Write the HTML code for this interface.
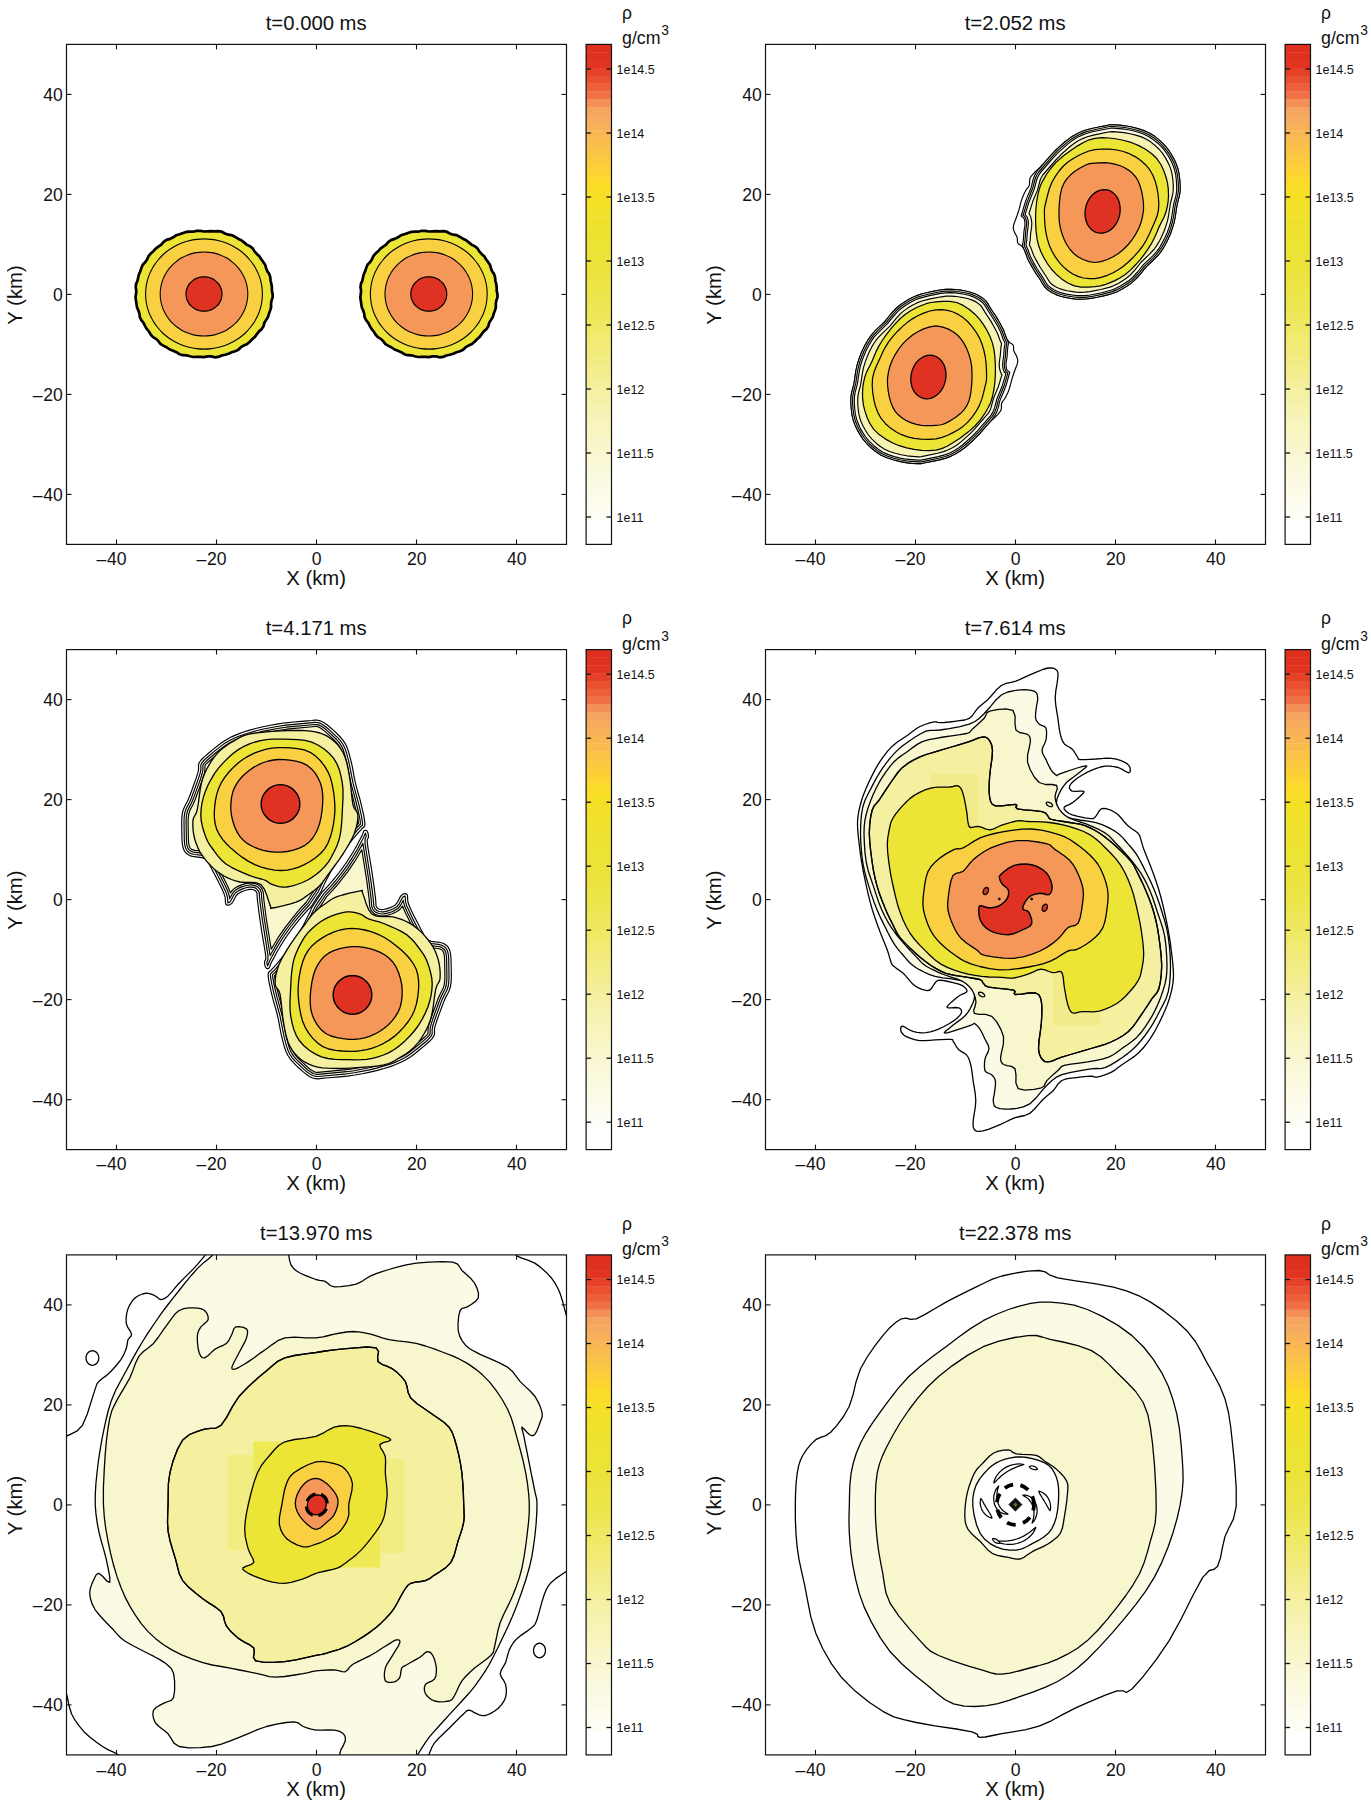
<!DOCTYPE html>
<html><head><meta charset="utf-8"><title>figure</title>
<style>html,body{margin:0;padding:0;background:#fff;}svg{display:block;}text{font-family:"Liberation Sans", sans-serif;fill:#111;}</style>
</head><body>
<svg width="1371" height="1804" viewBox="0 0 1371 1804">
<defs><clipPath id="clip0"><rect x="66.5" y="44.4" width="500.0" height="500.0"/></clipPath><clipPath id="clip1"><rect x="765.5" y="44.4" width="500.0" height="500.0"/></clipPath><clipPath id="clip2"><rect x="66.5" y="649.6" width="500.0" height="500.0"/></clipPath><clipPath id="clip3"><rect x="765.5" y="649.6" width="500.0" height="500.0"/></clipPath><clipPath id="clip4"><rect x="66.5" y="1254.9" width="500.0" height="500.0"/></clipPath><clipPath id="clip5"><rect x="765.5" y="1254.9" width="500.0" height="500.0"/></clipPath></defs>
<rect width="1371" height="1804" fill="#fff"/>
<g clip-path="url(#clip0)">
<path d="M272.6,294.0 L272.7,297.4 L271.5,300.6 L271.0,303.9 L271.1,307.4 L270.1,310.6 L268.9,313.8 L268.0,317.0 L266.2,319.9 L264.4,322.8 L263.5,326.2 L261.7,329.1 L259.0,331.4 L256.9,334.1 L254.9,336.9 L252.2,339.2 L249.8,341.7 L247.2,344.1 L243.9,345.5 L240.9,347.2 L238.3,349.8 L235.2,351.3 L231.7,352.3 L228.5,353.7 L225.1,354.8 L221.6,355.5 L218.3,356.9 L214.8,357.3 L211.1,356.4 L207.6,356.4 L204.0,357.1 L200.4,356.9 L196.9,356.8 L193.3,357.0 L189.9,356.3 L186.4,355.3 L182.8,355.2 L179.4,354.2 L176.4,352.2 L173.1,350.8 L169.8,349.5 L166.9,347.5 L163.7,345.9 L160.7,344.1 L158.5,341.3 L156.1,338.9 L153.0,337.1 L150.7,334.5 L148.9,331.5 L146.7,328.9 L145.0,325.9 L143.5,322.9 L141.3,320.2 L139.8,317.1 L139.4,313.7 L138.4,310.5 L137.0,307.4 L136.5,304.0 L136.0,300.7 L135.5,297.4 L136.0,294.0 L136.3,290.7 L135.7,287.3 L136.1,283.9 L137.5,280.8 L138.2,277.5 L139.0,274.2 L140.4,271.1 L141.4,267.9 L142.7,264.7 L145.2,262.2 L147.1,259.4 L148.5,256.2 L150.7,253.6 L153.3,251.3 L155.6,248.7 L158.4,246.6 L161.3,244.6 L163.6,241.9 L166.5,239.9 L170.0,238.9 L173.2,237.3 L176.1,235.3 L179.5,234.2 L182.9,233.1 L186.2,231.9 L189.9,231.7 L193.4,231.7 L196.8,230.8 L200.4,230.8 L204.0,231.5 L207.6,231.3 L211.1,231.2 L214.6,231.4 L218.3,231.1 L221.8,231.7 L225.0,233.5 L228.3,234.7 L231.9,235.2 L235.1,236.8 L238.1,238.7 L241.3,240.2 L244.0,242.4 L246.7,244.6 L250.0,246.2 L252.7,248.4 L254.5,251.4 L256.8,253.9 L259.4,256.3 L261.2,259.2 L263.2,261.9 L265.2,264.8 L266.1,268.1 L267.3,271.3 L269.3,274.1 L270.3,277.3 L270.6,280.7 L271.4,284.0 L271.9,287.3 L271.9,290.7Z" fill="#ece535" stroke="#000" stroke-width="2.70" stroke-linejoin="round" />
<path d="M262.4,294.0 C262.4,296.4 262.2,298.8 261.9,301.2 C261.6,303.6 261.1,305.9 260.4,308.3 C259.8,310.6 258.9,312.9 258.0,315.1 C257.0,317.3 255.8,319.5 254.6,321.6 C253.3,323.6 251.9,325.6 250.3,327.5 C248.8,329.4 247.1,331.3 245.3,333.0 C243.5,334.7 241.6,336.3 239.6,337.7 C237.5,339.2 235.4,340.5 233.2,341.7 C231.0,342.9 228.7,344.0 226.3,344.9 C224.0,345.8 221.6,346.6 219.1,347.2 C216.7,347.8 214.1,348.3 211.6,348.6 C209.1,348.9 206.5,349.1 204.0,349.1 C201.5,349.1 198.9,348.9 196.4,348.6 C193.9,348.3 191.3,347.8 188.9,347.2 C186.4,346.6 184.0,345.8 181.7,344.9 C179.3,344.0 177.0,342.9 174.8,341.7 C172.6,340.5 170.5,339.2 168.4,337.7 C166.4,336.3 164.5,334.7 162.7,333.0 C160.9,331.3 159.2,329.4 157.7,327.5 C156.1,325.6 154.7,323.6 153.4,321.6 C152.2,319.5 151.0,317.3 150.0,315.1 C149.1,312.9 148.2,310.6 147.6,308.3 C146.9,305.9 146.4,303.6 146.1,301.2 C145.8,298.8 145.6,296.4 145.6,294.0 C145.6,291.6 145.8,289.2 146.1,286.8 C146.4,284.4 146.9,282.1 147.6,279.7 C148.2,277.4 149.1,275.1 150.0,272.9 C151.0,270.7 152.2,268.5 153.4,266.4 C154.7,264.4 156.1,262.4 157.7,260.5 C159.2,258.6 160.9,256.7 162.7,255.0 C164.5,253.3 166.4,251.7 168.4,250.3 C170.5,248.8 172.6,247.5 174.8,246.3 C177.0,245.1 179.3,244.0 181.7,243.1 C184.0,242.2 186.4,241.4 188.9,240.8 C191.3,240.2 193.9,239.7 196.4,239.4 C198.9,239.1 201.5,238.9 204.0,238.9 C206.5,238.9 209.1,239.1 211.6,239.4 C214.1,239.7 216.7,240.2 219.1,240.8 C221.6,241.4 224.0,242.2 226.3,243.1 C228.7,244.0 231.0,245.1 233.2,246.3 C235.4,247.5 237.5,248.8 239.6,250.3 C241.6,251.7 243.5,253.3 245.3,255.0 C247.1,256.7 248.8,258.6 250.3,260.5 C251.9,262.4 253.3,264.4 254.6,266.4 C255.8,268.5 257.0,270.7 258.0,272.9 C258.9,275.1 259.8,277.4 260.4,279.7 C261.1,282.1 261.6,284.4 261.9,286.8 C262.2,289.2 262.4,291.6 262.4,294.0Z" fill="#fad043" stroke="#000" stroke-width="1.10" stroke-linejoin="round" />
<path d="M247.8,294.0 C247.8,295.8 247.7,297.7 247.4,299.5 C247.2,301.3 246.8,303.1 246.3,304.9 C245.8,306.6 245.2,308.4 244.5,310.1 C243.7,311.8 242.9,313.4 241.9,315.0 C241.0,316.6 239.9,318.1 238.7,319.6 C237.6,321.0 236.3,322.4 235.0,323.7 C233.6,325.0 232.2,326.2 230.7,327.3 C229.2,328.4 227.6,329.5 225.9,330.4 C224.2,331.3 222.5,332.1 220.8,332.8 C219.0,333.5 217.2,334.1 215.3,334.6 C213.5,335.0 211.6,335.4 209.7,335.6 C207.8,335.9 205.9,336.0 204.0,336.0 C202.1,336.0 200.2,335.9 198.3,335.6 C196.4,335.4 194.5,335.0 192.7,334.6 C190.8,334.1 189.0,333.5 187.2,332.8 C185.5,332.1 183.8,331.3 182.1,330.4 C180.4,329.5 178.8,328.4 177.3,327.3 C175.8,326.2 174.4,325.0 173.0,323.7 C171.7,322.4 170.4,321.0 169.3,319.6 C168.1,318.1 167.0,316.6 166.1,315.0 C165.1,313.4 164.3,311.8 163.5,310.1 C162.8,308.4 162.2,306.6 161.7,304.9 C161.2,303.1 160.8,301.3 160.6,299.5 C160.3,297.7 160.2,295.8 160.2,294.0 C160.2,292.2 160.3,290.3 160.6,288.5 C160.8,286.7 161.2,284.9 161.7,283.1 C162.2,281.4 162.8,279.6 163.5,277.9 C164.3,276.2 165.1,274.6 166.1,273.0 C167.0,271.4 168.1,269.9 169.3,268.4 C170.4,267.0 171.7,265.6 173.0,264.3 C174.4,263.0 175.8,261.8 177.3,260.7 C178.8,259.6 180.4,258.5 182.1,257.6 C183.8,256.7 185.5,255.9 187.2,255.2 C189.0,254.5 190.8,253.9 192.7,253.4 C194.5,253.0 196.4,252.6 198.3,252.4 C200.2,252.1 202.1,252.0 204.0,252.0 C205.9,252.0 207.8,252.1 209.7,252.4 C211.6,252.6 213.5,253.0 215.3,253.4 C217.2,253.9 219.0,254.5 220.8,255.2 C222.5,255.9 224.2,256.7 225.9,257.6 C227.6,258.5 229.2,259.6 230.7,260.7 C232.2,261.8 233.6,263.0 235.0,264.3 C236.3,265.6 237.6,267.0 238.7,268.4 C239.9,269.9 241.0,271.4 241.9,273.0 C242.9,274.6 243.7,276.2 244.5,277.9 C245.2,279.6 245.8,281.4 246.3,283.1 C246.8,284.9 247.2,286.7 247.4,288.5 C247.7,290.3 247.8,292.2 247.8,294.0Z" fill="#f6975a" stroke="#000" stroke-width="1.10" stroke-linejoin="round" />
<path d="M222.0,294.0 C222.0,294.7 221.9,295.5 221.8,296.2 C221.7,297.0 221.6,297.7 221.4,298.5 C221.2,299.2 220.9,299.9 220.6,300.6 C220.3,301.3 220.0,302.0 219.6,302.6 C219.2,303.2 218.8,303.9 218.3,304.5 C217.8,305.1 217.3,305.6 216.7,306.2 C216.2,306.7 215.6,307.2 215.0,307.6 C214.3,308.1 213.7,308.5 213.0,308.9 C212.3,309.3 211.6,309.6 210.9,309.9 C210.2,310.2 209.4,310.4 208.7,310.6 C207.9,310.8 207.1,311.0 206.3,311.1 C205.6,311.2 204.8,311.2 204.0,311.2 C203.2,311.2 202.4,311.2 201.7,311.1 C200.9,311.0 200.1,310.8 199.3,310.6 C198.6,310.4 197.8,310.2 197.1,309.9 C196.4,309.6 195.7,309.3 195.0,308.9 C194.3,308.5 193.7,308.1 193.0,307.6 C192.4,307.2 191.8,306.7 191.3,306.2 C190.7,305.6 190.2,305.1 189.7,304.5 C189.2,303.9 188.8,303.2 188.4,302.6 C188.0,302.0 187.7,301.3 187.4,300.6 C187.1,299.9 186.8,299.2 186.6,298.5 C186.4,297.7 186.3,297.0 186.2,296.2 C186.1,295.5 186.0,294.7 186.0,294.0 C186.0,293.3 186.1,292.5 186.2,291.8 C186.3,291.0 186.4,290.3 186.6,289.5 C186.8,288.8 187.1,288.1 187.4,287.4 C187.7,286.7 188.0,286.0 188.4,285.4 C188.8,284.8 189.2,284.1 189.7,283.5 C190.2,282.9 190.7,282.4 191.3,281.8 C191.8,281.3 192.4,280.8 193.0,280.4 C193.7,279.9 194.3,279.5 195.0,279.1 C195.7,278.7 196.4,278.4 197.1,278.1 C197.8,277.8 198.6,277.6 199.3,277.4 C200.1,277.2 200.9,277.0 201.7,276.9 C202.4,276.8 203.2,276.8 204.0,276.8 C204.8,276.8 205.6,276.8 206.3,276.9 C207.1,277.0 207.9,277.2 208.7,277.4 C209.4,277.6 210.2,277.8 210.9,278.1 C211.6,278.4 212.3,278.7 213.0,279.1 C213.7,279.5 214.3,279.9 215.0,280.4 C215.6,280.8 216.2,281.3 216.7,281.8 C217.3,282.4 217.8,282.9 218.3,283.5 C218.8,284.1 219.2,284.8 219.6,285.4 C220.0,286.0 220.3,286.7 220.6,287.4 C220.9,288.1 221.2,288.8 221.4,289.5 C221.6,290.3 221.7,291.0 221.8,291.8 C221.9,292.5 222.0,293.3 222.0,294.0Z" fill="#e03222" stroke="#000" stroke-width="1.20" stroke-linejoin="round" />
<path d="M497.4,294.0 L497.5,297.4 L496.3,300.6 L495.8,303.9 L495.9,307.4 L494.9,310.6 L493.7,313.8 L492.8,317.0 L491.0,319.9 L489.2,322.8 L488.3,326.2 L486.5,329.1 L483.8,331.4 L481.7,334.1 L479.7,336.9 L477.0,339.2 L474.6,341.7 L472.0,344.1 L468.7,345.5 L465.7,347.2 L463.1,349.8 L460.0,351.3 L456.5,352.3 L453.3,353.7 L449.9,354.8 L446.4,355.5 L443.1,356.9 L439.6,357.3 L435.9,356.4 L432.4,356.4 L428.8,357.1 L425.2,356.9 L421.7,356.8 L418.1,357.0 L414.7,356.3 L411.2,355.3 L407.6,355.2 L404.2,354.2 L401.2,352.2 L397.9,350.8 L394.6,349.5 L391.7,347.5 L388.5,345.9 L385.5,344.1 L383.3,341.3 L380.9,338.9 L377.8,337.1 L375.5,334.5 L373.7,331.5 L371.5,328.9 L369.8,325.9 L368.3,322.9 L366.1,320.2 L364.6,317.1 L364.2,313.7 L363.2,310.5 L361.8,307.4 L361.3,304.0 L360.8,300.7 L360.3,297.4 L360.8,294.0 L361.1,290.7 L360.5,287.3 L360.9,283.9 L362.3,280.8 L363.0,277.5 L363.8,274.2 L365.2,271.1 L366.2,267.9 L367.5,264.7 L370.0,262.2 L371.9,259.4 L373.3,256.2 L375.5,253.6 L378.1,251.3 L380.4,248.7 L383.2,246.6 L386.1,244.6 L388.4,241.9 L391.3,239.9 L394.8,238.9 L398.0,237.3 L400.9,235.3 L404.3,234.2 L407.7,233.1 L411.0,231.9 L414.7,231.7 L418.2,231.7 L421.6,230.8 L425.2,230.8 L428.8,231.5 L432.4,231.3 L435.9,231.2 L439.4,231.4 L443.1,231.1 L446.6,231.7 L449.8,233.5 L453.1,234.7 L456.7,235.2 L459.9,236.8 L462.9,238.7 L466.1,240.2 L468.8,242.4 L471.5,244.6 L474.8,246.2 L477.5,248.4 L479.3,251.4 L481.6,253.9 L484.2,256.3 L486.0,259.2 L488.0,261.9 L490.0,264.8 L490.9,268.1 L492.1,271.3 L494.1,274.1 L495.1,277.3 L495.4,280.7 L496.2,284.0 L496.7,287.3 L496.7,290.7Z" fill="#ece535" stroke="#000" stroke-width="2.70" stroke-linejoin="round" />
<path d="M487.2,294.0 C487.2,296.4 487.0,298.8 486.7,301.2 C486.4,303.6 485.9,305.9 485.2,308.3 C484.6,310.6 483.7,312.9 482.8,315.1 C481.8,317.3 480.6,319.5 479.4,321.6 C478.1,323.6 476.7,325.6 475.1,327.5 C473.6,329.4 471.9,331.3 470.1,333.0 C468.3,334.7 466.4,336.3 464.4,337.7 C462.3,339.2 460.2,340.5 458.0,341.7 C455.8,342.9 453.5,344.0 451.1,344.9 C448.8,345.8 446.4,346.6 443.9,347.2 C441.5,347.8 438.9,348.3 436.4,348.6 C433.9,348.9 431.3,349.1 428.8,349.1 C426.3,349.1 423.7,348.9 421.2,348.6 C418.7,348.3 416.1,347.8 413.7,347.2 C411.2,346.6 408.8,345.8 406.5,344.9 C404.1,344.0 401.8,342.9 399.6,341.7 C397.4,340.5 395.3,339.2 393.2,337.7 C391.2,336.3 389.3,334.7 387.5,333.0 C385.7,331.3 384.0,329.4 382.5,327.5 C380.9,325.6 379.5,323.6 378.2,321.6 C377.0,319.5 375.8,317.3 374.8,315.1 C373.9,312.9 373.0,310.6 372.4,308.3 C371.7,305.9 371.2,303.6 370.9,301.2 C370.6,298.8 370.4,296.4 370.4,294.0 C370.4,291.6 370.6,289.2 370.9,286.8 C371.2,284.4 371.7,282.1 372.4,279.7 C373.0,277.4 373.9,275.1 374.8,272.9 C375.8,270.7 377.0,268.5 378.2,266.4 C379.5,264.4 380.9,262.4 382.5,260.5 C384.0,258.6 385.7,256.7 387.5,255.0 C389.3,253.3 391.2,251.7 393.2,250.3 C395.3,248.8 397.4,247.5 399.6,246.3 C401.8,245.1 404.1,244.0 406.5,243.1 C408.8,242.2 411.2,241.4 413.7,240.8 C416.1,240.2 418.7,239.7 421.2,239.4 C423.7,239.1 426.3,238.9 428.8,238.9 C431.3,238.9 433.9,239.1 436.4,239.4 C438.9,239.7 441.5,240.2 443.9,240.8 C446.4,241.4 448.8,242.2 451.1,243.1 C453.5,244.0 455.8,245.1 458.0,246.3 C460.2,247.5 462.3,248.8 464.4,250.3 C466.4,251.7 468.3,253.3 470.1,255.0 C471.9,256.7 473.6,258.6 475.1,260.5 C476.7,262.4 478.1,264.4 479.4,266.4 C480.6,268.5 481.8,270.7 482.8,272.9 C483.7,275.1 484.6,277.4 485.2,279.7 C485.9,282.1 486.4,284.4 486.7,286.8 C487.0,289.2 487.2,291.6 487.2,294.0Z" fill="#fad043" stroke="#000" stroke-width="1.10" stroke-linejoin="round" />
<path d="M472.6,294.0 C472.6,295.8 472.5,297.7 472.2,299.5 C472.0,301.3 471.6,303.1 471.1,304.9 C470.6,306.6 470.0,308.4 469.3,310.1 C468.5,311.8 467.7,313.4 466.7,315.0 C465.8,316.6 464.7,318.1 463.5,319.6 C462.4,321.0 461.1,322.4 459.8,323.7 C458.4,325.0 457.0,326.2 455.5,327.3 C454.0,328.4 452.4,329.5 450.7,330.4 C449.0,331.3 447.3,332.1 445.6,332.8 C443.8,333.5 442.0,334.1 440.1,334.6 C438.3,335.0 436.4,335.4 434.5,335.6 C432.6,335.9 430.7,336.0 428.8,336.0 C426.9,336.0 425.0,335.9 423.1,335.6 C421.2,335.4 419.3,335.0 417.5,334.6 C415.6,334.1 413.8,333.5 412.0,332.8 C410.3,332.1 408.6,331.3 406.9,330.4 C405.2,329.5 403.6,328.4 402.1,327.3 C400.6,326.2 399.2,325.0 397.8,323.7 C396.5,322.4 395.2,321.0 394.1,319.6 C392.9,318.1 391.8,316.6 390.9,315.0 C389.9,313.4 389.1,311.8 388.3,310.1 C387.6,308.4 387.0,306.6 386.5,304.9 C386.0,303.1 385.6,301.3 385.4,299.5 C385.1,297.7 385.0,295.8 385.0,294.0 C385.0,292.2 385.1,290.3 385.4,288.5 C385.6,286.7 386.0,284.9 386.5,283.1 C387.0,281.4 387.6,279.6 388.3,277.9 C389.1,276.2 389.9,274.6 390.9,273.0 C391.8,271.4 392.9,269.9 394.1,268.4 C395.2,267.0 396.5,265.6 397.8,264.3 C399.2,263.0 400.6,261.8 402.1,260.7 C403.6,259.6 405.2,258.5 406.9,257.6 C408.6,256.7 410.3,255.9 412.0,255.2 C413.8,254.5 415.6,253.9 417.5,253.4 C419.3,253.0 421.2,252.6 423.1,252.4 C425.0,252.1 426.9,252.0 428.8,252.0 C430.7,252.0 432.6,252.1 434.5,252.4 C436.4,252.6 438.3,253.0 440.1,253.4 C442.0,253.9 443.8,254.5 445.6,255.2 C447.3,255.9 449.0,256.7 450.7,257.6 C452.4,258.5 454.0,259.6 455.5,260.7 C457.0,261.8 458.4,263.0 459.8,264.3 C461.1,265.6 462.4,267.0 463.5,268.4 C464.7,269.9 465.8,271.4 466.7,273.0 C467.7,274.6 468.5,276.2 469.3,277.9 C470.0,279.6 470.6,281.4 471.1,283.1 C471.6,284.9 472.0,286.7 472.2,288.5 C472.5,290.3 472.6,292.2 472.6,294.0Z" fill="#f6975a" stroke="#000" stroke-width="1.10" stroke-linejoin="round" />
<path d="M446.8,294.0 C446.8,294.7 446.7,295.5 446.6,296.2 C446.5,297.0 446.4,297.7 446.2,298.5 C446.0,299.2 445.7,299.9 445.4,300.6 C445.1,301.3 444.8,302.0 444.4,302.6 C444.0,303.2 443.6,303.9 443.1,304.5 C442.6,305.1 442.1,305.6 441.5,306.2 C441.0,306.7 440.4,307.2 439.8,307.6 C439.1,308.1 438.5,308.5 437.8,308.9 C437.1,309.3 436.4,309.6 435.7,309.9 C435.0,310.2 434.2,310.4 433.5,310.6 C432.7,310.8 431.9,311.0 431.1,311.1 C430.4,311.2 429.6,311.2 428.8,311.2 C428.0,311.2 427.2,311.2 426.5,311.1 C425.7,311.0 424.9,310.8 424.1,310.6 C423.4,310.4 422.6,310.2 421.9,309.9 C421.2,309.6 420.5,309.3 419.8,308.9 C419.1,308.5 418.5,308.1 417.8,307.6 C417.2,307.2 416.6,306.7 416.1,306.2 C415.5,305.6 415.0,305.1 414.5,304.5 C414.0,303.9 413.6,303.2 413.2,302.6 C412.8,302.0 412.5,301.3 412.2,300.6 C411.9,299.9 411.6,299.2 411.4,298.5 C411.2,297.7 411.1,297.0 411.0,296.2 C410.9,295.5 410.8,294.7 410.8,294.0 C410.8,293.3 410.9,292.5 411.0,291.8 C411.1,291.0 411.2,290.3 411.4,289.5 C411.6,288.8 411.9,288.1 412.2,287.4 C412.5,286.7 412.8,286.0 413.2,285.4 C413.6,284.8 414.0,284.1 414.5,283.5 C415.0,282.9 415.5,282.4 416.1,281.8 C416.6,281.3 417.2,280.8 417.8,280.4 C418.5,279.9 419.1,279.5 419.8,279.1 C420.5,278.7 421.2,278.4 421.9,278.1 C422.6,277.8 423.4,277.6 424.1,277.4 C424.9,277.2 425.7,277.0 426.5,276.9 C427.2,276.8 428.0,276.8 428.8,276.8 C429.6,276.8 430.4,276.8 431.1,276.9 C431.9,277.0 432.7,277.2 433.5,277.4 C434.2,277.6 435.0,277.8 435.7,278.1 C436.4,278.4 437.1,278.7 437.8,279.1 C438.5,279.5 439.1,279.9 439.8,280.4 C440.4,280.8 441.0,281.3 441.5,281.8 C442.1,282.4 442.6,282.9 443.1,283.5 C443.6,284.1 444.0,284.8 444.4,285.4 C444.8,286.0 445.1,286.7 445.4,287.4 C445.7,288.1 446.0,288.8 446.2,289.5 C446.4,290.3 446.5,291.0 446.6,291.8 C446.7,292.5 446.8,293.3 446.8,294.0Z" fill="#e03222" stroke="#000" stroke-width="1.20" stroke-linejoin="round" />
</g>
<text x="316.2" y="29.8" font-size="20.3" text-anchor="middle">t=0.000 ms</text>
<rect x="66.5" y="44.4" width="500.0" height="500.0" fill="none" stroke="#111" stroke-width="1.2"/>
<line x1="116.5" y1="544.4" x2="116.5" y2="539.4" stroke="#111" stroke-width="1.1"/>
<line x1="116.5" y1="44.4" x2="116.5" y2="49.4" stroke="#111" stroke-width="1.1"/>
<text x="116.7" y="565.0" font-size="17.6" text-anchor="middle">40</text>
<text x="106.4" y="565.0" font-size="17.6" text-anchor="end">–</text>
<line x1="66.5" y1="494.4" x2="71.5" y2="494.4" stroke="#111" stroke-width="1.1"/>
<line x1="566.5" y1="494.4" x2="561.5" y2="494.4" stroke="#111" stroke-width="1.1"/>
<text x="62.9" y="500.8" font-size="17.6" text-anchor="end">40</text>
<text x="42.5" y="500.8" font-size="17.6" text-anchor="end">–</text>
<line x1="216.5" y1="544.4" x2="216.5" y2="539.4" stroke="#111" stroke-width="1.1"/>
<line x1="216.5" y1="44.4" x2="216.5" y2="49.4" stroke="#111" stroke-width="1.1"/>
<text x="216.7" y="565.0" font-size="17.6" text-anchor="middle">20</text>
<text x="206.4" y="565.0" font-size="17.6" text-anchor="end">–</text>
<line x1="66.5" y1="394.4" x2="71.5" y2="394.4" stroke="#111" stroke-width="1.1"/>
<line x1="566.5" y1="394.4" x2="561.5" y2="394.4" stroke="#111" stroke-width="1.1"/>
<text x="62.9" y="400.8" font-size="17.6" text-anchor="end">20</text>
<text x="42.5" y="400.8" font-size="17.6" text-anchor="end">–</text>
<line x1="316.5" y1="544.4" x2="316.5" y2="539.4" stroke="#111" stroke-width="1.1"/>
<line x1="316.5" y1="44.4" x2="316.5" y2="49.4" stroke="#111" stroke-width="1.1"/>
<text x="316.7" y="565.0" font-size="17.6" text-anchor="middle">0</text>
<line x1="66.5" y1="294.4" x2="71.5" y2="294.4" stroke="#111" stroke-width="1.1"/>
<line x1="566.5" y1="294.4" x2="561.5" y2="294.4" stroke="#111" stroke-width="1.1"/>
<text x="62.9" y="300.8" font-size="17.6" text-anchor="end">0</text>
<line x1="416.5" y1="544.4" x2="416.5" y2="539.4" stroke="#111" stroke-width="1.1"/>
<line x1="416.5" y1="44.4" x2="416.5" y2="49.4" stroke="#111" stroke-width="1.1"/>
<text x="416.7" y="565.0" font-size="17.6" text-anchor="middle">20</text>
<line x1="66.5" y1="194.4" x2="71.5" y2="194.4" stroke="#111" stroke-width="1.1"/>
<line x1="566.5" y1="194.4" x2="561.5" y2="194.4" stroke="#111" stroke-width="1.1"/>
<text x="62.9" y="200.8" font-size="17.6" text-anchor="end">20</text>
<line x1="516.5" y1="544.4" x2="516.5" y2="539.4" stroke="#111" stroke-width="1.1"/>
<line x1="516.5" y1="44.4" x2="516.5" y2="49.4" stroke="#111" stroke-width="1.1"/>
<text x="516.7" y="565.0" font-size="17.6" text-anchor="middle">40</text>
<line x1="66.5" y1="94.4" x2="71.5" y2="94.4" stroke="#111" stroke-width="1.1"/>
<line x1="566.5" y1="94.4" x2="561.5" y2="94.4" stroke="#111" stroke-width="1.1"/>
<text x="62.9" y="100.8" font-size="17.6" text-anchor="end">40</text>
<text x="316.1" y="585.0" font-size="20.3" text-anchor="middle">X (km)</text>
<text transform="translate(21.9,295.0) rotate(-90)" font-size="20.3" text-anchor="middle">Y (km)</text>
<rect x="586.1" y="44.40" width="25.4" height="8.21" fill="#df2f1f"/>
<rect x="586.1" y="52.21" width="25.4" height="8.21" fill="#e03120"/>
<rect x="586.1" y="60.02" width="25.4" height="8.21" fill="#e13421"/>
<rect x="586.1" y="67.84" width="25.4" height="8.21" fill="#e54129"/>
<rect x="586.1" y="75.65" width="25.4" height="8.21" fill="#e95030"/>
<rect x="586.1" y="83.46" width="25.4" height="8.21" fill="#ed603a"/>
<rect x="586.1" y="91.28" width="25.4" height="8.21" fill="#f07146"/>
<rect x="586.1" y="99.09" width="25.4" height="8.21" fill="#f48f58"/>
<rect x="586.1" y="106.90" width="25.4" height="8.21" fill="#f6a560"/>
<rect x="586.1" y="114.71" width="25.4" height="8.21" fill="#f7ab5e"/>
<rect x="586.1" y="122.53" width="25.4" height="8.21" fill="#f8b159"/>
<rect x="586.1" y="130.34" width="25.4" height="8.21" fill="#f9b753"/>
<rect x="586.1" y="138.15" width="25.4" height="8.21" fill="#fabd4d"/>
<rect x="586.1" y="145.96" width="25.4" height="8.21" fill="#fbc248"/>
<rect x="586.1" y="153.78" width="25.4" height="8.21" fill="#fbc841"/>
<rect x="586.1" y="161.59" width="25.4" height="8.21" fill="#fcce39"/>
<rect x="586.1" y="169.40" width="25.4" height="8.21" fill="#fcd331"/>
<rect x="586.1" y="177.21" width="25.4" height="8.21" fill="#fcda29"/>
<rect x="586.1" y="185.03" width="25.4" height="8.21" fill="#f9dd27"/>
<rect x="586.1" y="192.84" width="25.4" height="8.21" fill="#f5e026"/>
<rect x="586.1" y="200.65" width="25.4" height="8.21" fill="#f3e128"/>
<rect x="586.1" y="208.46" width="25.4" height="8.21" fill="#f1e12a"/>
<rect x="586.1" y="216.28" width="25.4" height="8.21" fill="#f0e22c"/>
<rect x="586.1" y="224.09" width="25.4" height="8.21" fill="#eee22e"/>
<rect x="586.1" y="231.90" width="25.4" height="8.21" fill="#eee230"/>
<rect x="586.1" y="239.71" width="25.4" height="8.21" fill="#ede332"/>
<rect x="586.1" y="247.53" width="25.4" height="8.21" fill="#ece334"/>
<rect x="586.1" y="255.34" width="25.4" height="8.21" fill="#ebe336"/>
<rect x="586.1" y="263.15" width="25.4" height="8.21" fill="#ebe339"/>
<rect x="586.1" y="270.96" width="25.4" height="8.21" fill="#ebe43e"/>
<rect x="586.1" y="278.77" width="25.4" height="8.21" fill="#ece442"/>
<rect x="586.1" y="286.59" width="25.4" height="8.21" fill="#ece547"/>
<rect x="586.1" y="294.40" width="25.4" height="8.21" fill="#ece54c"/>
<rect x="586.1" y="302.21" width="25.4" height="8.21" fill="#ede653"/>
<rect x="586.1" y="310.02" width="25.4" height="8.21" fill="#eee759"/>
<rect x="586.1" y="317.84" width="25.4" height="8.21" fill="#efe85f"/>
<rect x="586.1" y="325.65" width="25.4" height="8.21" fill="#efe966"/>
<rect x="586.1" y="333.46" width="25.4" height="8.21" fill="#f0ea6e"/>
<rect x="586.1" y="341.27" width="25.4" height="8.21" fill="#f1eb75"/>
<rect x="586.1" y="349.09" width="25.4" height="8.21" fill="#f2eb7c"/>
<rect x="586.1" y="356.90" width="25.4" height="8.21" fill="#f2ec84"/>
<rect x="586.1" y="364.71" width="25.4" height="8.21" fill="#f3ed8c"/>
<rect x="586.1" y="372.52" width="25.4" height="8.21" fill="#f4ee93"/>
<rect x="586.1" y="380.34" width="25.4" height="8.21" fill="#f5ef9b"/>
<rect x="586.1" y="388.15" width="25.4" height="8.21" fill="#f5f0a2"/>
<rect x="586.1" y="395.96" width="25.4" height="8.21" fill="#f6f1a9"/>
<rect x="586.1" y="403.77" width="25.4" height="8.21" fill="#f6f2af"/>
<rect x="586.1" y="411.59" width="25.4" height="8.21" fill="#f7f3b6"/>
<rect x="586.1" y="419.40" width="25.4" height="8.21" fill="#f7f4bc"/>
<rect x="586.1" y="427.21" width="25.4" height="8.21" fill="#f8f5c1"/>
<rect x="586.1" y="435.02" width="25.4" height="8.21" fill="#f8f6c6"/>
<rect x="586.1" y="442.84" width="25.4" height="8.21" fill="#f9f6cc"/>
<rect x="586.1" y="450.65" width="25.4" height="8.21" fill="#f9f7d1"/>
<rect x="586.1" y="458.46" width="25.4" height="8.21" fill="#faf8d6"/>
<rect x="586.1" y="466.27" width="25.4" height="8.21" fill="#faf9db"/>
<rect x="586.1" y="474.09" width="25.4" height="8.21" fill="#fbfae0"/>
<rect x="586.1" y="481.90" width="25.4" height="8.21" fill="#fcfae5"/>
<rect x="586.1" y="489.71" width="25.4" height="8.21" fill="#fcfbe9"/>
<rect x="586.1" y="497.52" width="25.4" height="8.21" fill="#fdfced"/>
<rect x="586.1" y="505.34" width="25.4" height="8.21" fill="#fdfdf2"/>
<rect x="586.1" y="513.15" width="25.4" height="8.21" fill="#fefef6"/>
<rect x="586.1" y="520.96" width="25.4" height="8.21" fill="#ffffff"/>
<rect x="586.1" y="528.77" width="25.4" height="8.21" fill="#ffffff"/>
<rect x="586.1" y="536.59" width="25.4" height="8.21" fill="#ffffff"/>
<rect x="586.1" y="44.4" width="25.4" height="500.0" fill="none" stroke="#111" stroke-width="1.2"/>
<line x1="586.1" y1="69.0" x2="591.1" y2="69.0" stroke="#111" stroke-width="1.3"/>
<line x1="611.5" y1="69.0" x2="606.5" y2="69.0" stroke="#111" stroke-width="1.3"/>
<text x="616.5" y="73.5" font-size="12.5" text-anchor="start">1e14.5</text>
<line x1="586.1" y1="133.0" x2="591.1" y2="133.0" stroke="#111" stroke-width="1.3"/>
<line x1="611.5" y1="133.0" x2="606.5" y2="133.0" stroke="#111" stroke-width="1.3"/>
<text x="616.5" y="137.5" font-size="12.5" text-anchor="start">1e14</text>
<line x1="586.1" y1="197.0" x2="591.1" y2="197.0" stroke="#111" stroke-width="1.3"/>
<line x1="611.5" y1="197.0" x2="606.5" y2="197.0" stroke="#111" stroke-width="1.3"/>
<text x="616.5" y="201.5" font-size="12.5" text-anchor="start">1e13.5</text>
<line x1="586.1" y1="261.0" x2="591.1" y2="261.0" stroke="#111" stroke-width="1.3"/>
<line x1="611.5" y1="261.0" x2="606.5" y2="261.0" stroke="#111" stroke-width="1.3"/>
<text x="616.5" y="265.5" font-size="12.5" text-anchor="start">1e13</text>
<line x1="586.1" y1="325.0" x2="591.1" y2="325.0" stroke="#111" stroke-width="1.3"/>
<line x1="611.5" y1="325.0" x2="606.5" y2="325.0" stroke="#111" stroke-width="1.3"/>
<text x="616.5" y="329.5" font-size="12.5" text-anchor="start">1e12.5</text>
<line x1="586.1" y1="389.0" x2="591.1" y2="389.0" stroke="#111" stroke-width="1.3"/>
<line x1="611.5" y1="389.0" x2="606.5" y2="389.0" stroke="#111" stroke-width="1.3"/>
<text x="616.5" y="393.5" font-size="12.5" text-anchor="start">1e12</text>
<line x1="586.1" y1="453.0" x2="591.1" y2="453.0" stroke="#111" stroke-width="1.3"/>
<line x1="611.5" y1="453.0" x2="606.5" y2="453.0" stroke="#111" stroke-width="1.3"/>
<text x="616.5" y="457.5" font-size="12.5" text-anchor="start">1e11.5</text>
<line x1="586.1" y1="517.0" x2="591.1" y2="517.0" stroke="#111" stroke-width="1.3"/>
<line x1="611.5" y1="517.0" x2="606.5" y2="517.0" stroke="#111" stroke-width="1.3"/>
<text x="616.5" y="521.5" font-size="12.5" text-anchor="start">1e11</text>
<text x="622.1" y="19.2" font-size="17.5" text-anchor="start">ρ</text>
<text x="622.0" y="44.4" font-size="17.8" text-anchor="start">g/cm<tspan font-size="13.8" dx="0.6" dy="-9">3</tspan></text>
<g clip-path="url(#clip1)">
<path d="M1085.2,130.3L1091.8,128.5L1099.0,127.0L1104.9,125.9L1108.1,125.2L1110.1,124.8L1113.2,124.8L1118.6,125.1L1125.0,125.8L1131.5,127.0L1137.7,128.6L1143.9,130.6L1149.7,133.2L1155.0,136.6L1159.9,140.6L1164.3,144.9L1168.0,149.3L1171.1,154.0L1173.8,158.8L1176.0,163.5L1177.7,168.2L1178.9,173.4L1179.7,179.4L1180.1,185.8L1180.0,191.6L1179.3,196.3L1178.1,200.4L1177.0,205.0L1176.1,210.5L1175.3,216.5L1174.1,222.4L1172.4,228.1L1170.4,233.8L1168.0,239.2L1165.4,244.3L1162.6,249.1L1159.2,253.8L1154.9,258.5L1150.1,263.0L1146.1,266.9L1143.7,269.7L1142.1,271.9L1140.2,274.2L1137.7,277.0L1134.9,279.9L1131.5,282.9L1127.1,286.0L1122.0,289.1L1116.9,291.7L1112.1,293.5L1107.4,294.9L1102.3,296.1L1096.7,297.3L1090.8,298.4L1085.2,299.0L1080.1,299.1L1075.4,298.9L1070.6,298.3L1065.6,297.4L1060.6,296.2L1056.1,294.6L1052.2,292.7L1048.7,290.5L1045.8,288.0L1043.5,285.3L1041.8,282.3L1040.0,279.3L1038.1,276.4L1036.1,273.6L1034.2,270.5L1032.1,266.9L1030.0,263.2L1028.3,260.0L1027.3,257.7L1026.7,255.9L1026.1,254.3L1025.5,252.7L1025.0,251.3L1024.4,249.9L1023.6,248.5L1022.6,247.2L1021.6,246.0L1020.3,245.1L1018.9,244.3L1017.8,243.2L1017.4,241.5L1017.4,239.6L1017.2,237.6L1016.4,235.8L1015.3,233.9L1014.4,232.1L1013.8,230.4L1013.3,228.6L1013.3,226.6L1013.9,224.0L1015.0,221.1L1016.1,218.2L1017.1,215.4L1018.0,212.7L1018.9,209.9L1019.7,207.1L1020.4,204.2L1021.1,201.6L1021.8,199.4L1022.5,197.4L1023.3,195.5L1024.2,193.6L1025.1,191.8L1026.1,190.0L1027.3,188.4L1028.5,186.8L1029.4,185.0L1029.6,182.9L1029.6,180.6L1030.0,178.3L1031.3,176.2L1033.1,174.1L1035.0,172.0L1036.8,170.3L1038.7,168.7L1041.5,166.0L1045.7,161.3L1050.9,155.4L1056.0,150.0L1060.9,145.4L1065.7,141.2L1070.6,137.6L1075.3,134.7L1080.0,132.3Z" fill="#ffffff" stroke="#000" stroke-width="1.16" stroke-linejoin="round"/>
<path d="M1085.2,130.3L1091.8,128.5L1099.0,127.0L1104.9,125.9L1108.1,125.2L1110.1,124.8L1113.2,124.8L1118.6,125.1L1125.0,125.8L1131.5,127.0L1137.7,128.6L1143.9,130.6L1149.7,133.2L1155.0,136.6L1159.9,140.6L1164.3,144.9L1168.0,149.3L1171.1,154.0L1173.8,158.8L1176.0,163.5L1177.7,168.2L1178.9,173.4L1179.7,179.4L1180.1,185.8L1180.0,191.6L1179.3,196.3L1178.1,200.4L1177.0,205.0L1176.1,210.5L1175.3,216.5L1174.1,222.4L1172.4,228.1L1170.4,233.8L1168.0,239.2L1165.4,244.3L1162.6,249.1L1159.2,253.8L1154.9,258.5L1150.1,263.0L1146.1,266.9L1143.7,269.7L1142.1,271.9L1140.2,274.2L1137.7,277.0L1134.9,279.9L1131.5,282.9L1127.1,286.0L1122.0,289.1L1116.9,291.7L1112.1,293.5L1107.4,294.9L1102.3,296.1L1096.7,297.3L1090.8,298.4L1085.2,299.0L1080.1,299.1L1075.4,298.9L1070.6,298.3L1065.6,297.4L1060.6,296.2L1056.1,294.6L1052.2,292.7L1048.7,290.5L1045.8,288.0L1043.5,285.3L1041.8,282.3L1040.0,279.3L1038.1,276.4L1036.1,273.6L1034.2,270.5L1032.1,266.9L1030.0,263.2L1028.3,260.0L1027.3,257.7L1026.7,255.9L1026.1,254.3L1025.5,252.7L1025.0,251.3L1024.4,249.9L1023.7,248.5L1023.0,247.0L1022.6,245.5L1022.7,244.0L1023.0,242.4L1023.3,240.4L1023.5,237.9L1023.7,235.0L1023.9,232.1L1024.3,229.2L1024.8,226.4L1025.0,223.8L1024.8,221.6L1024.5,219.7L1023.9,218.2L1023.0,217.3L1022.0,216.8L1021.4,216.2L1021.3,215.4L1021.6,214.5L1022.2,212.7L1023.1,209.4L1024.3,205.3L1025.5,201.6L1026.5,198.9L1027.4,196.6L1028.3,194.4L1029.3,192.2L1030.2,190.0L1031.1,187.7L1031.8,185.2L1032.3,182.6L1033.0,180.0L1033.8,177.6L1034.8,175.3L1036.0,173.0L1037.3,171.0L1038.9,169.0L1041.5,166.0L1045.7,161.2L1050.8,155.4L1056.0,150.0L1060.9,145.4L1065.7,141.2L1070.6,137.6L1075.3,134.7L1080.0,132.3Z" fill="#fbfae5" stroke="#000" stroke-width="1.16" stroke-linejoin="round"/>
<path d="M1023.1,215.5L1024.3,216.1L1025.5,217.6L1026.5,221.3L1026.7,223.7L1025.6,232.3L1025.0,240.5L1024.3,244.2L1024.3,245.3L1024.6,246.4L1026.0,249.3L1028.9,257.1L1031.5,262.4L1035.7,269.6L1041.4,278.3L1044.9,284.3L1047.0,286.8L1049.8,289.1L1053.0,291.2L1056.8,293.0L1061.1,294.5L1066.0,295.7L1075.5,297.2L1080.2,297.4L1085.1,297.3L1090.6,296.7L1101.9,294.4L1111.6,291.9L1116.2,290.1L1121.2,287.6L1126.1,284.6L1130.5,281.6L1133.8,278.7L1138.9,273.1L1144.8,265.8L1153.7,257.3L1157.9,252.7L1161.1,248.2L1163.9,243.5L1166.5,238.5L1168.8,233.2L1170.8,227.6L1172.4,222.0L1173.6,216.2L1175.3,204.7L1177.6,195.9L1178.3,191.5L1178.4,185.8L1178.0,179.5L1177.2,173.7L1176.0,168.7L1174.4,164.1L1172.3,159.6L1169.7,154.9L1166.6,150.4L1163.0,146.1L1158.8,141.9L1154.0,138.0L1148.9,134.7L1143.3,132.2L1137.2,130.2L1131.1,128.7L1124.8,127.5L1113.1,126.5L1110.3,126.5L1108.5,126.8L1092.2,130.2L1085.7,131.9L1080.6,133.9L1076.1,136.2L1071.6,139.0L1066.8,142.6L1062.0,146.7L1057.2,151.2L1052.1,156.6L1038.7,172.0L1036.3,176.0L1035.4,178.2L1034.6,180.5L1032.7,188.3L1027.1,202.1Z" fill="#fbfae5" stroke="#000" stroke-width="1.16" stroke-linejoin="round"/>
<path d="M1025.1,214.7L1026.8,216.4L1027.6,218.5L1028.2,220.9L1028.4,223.6L1028.1,226.9L1027.3,232.5L1026.7,240.7L1026.0,244.4L1026.2,245.8L1027.6,248.7L1030.4,256.4L1033.0,261.6L1037.1,268.7L1042.8,277.4L1046.3,283.3L1048.2,285.6L1050.8,287.7L1053.9,289.7L1057.4,291.5L1061.6,292.9L1066.3,294.1L1075.7,295.5L1080.2,295.7L1085.0,295.6L1090.3,295.0L1101.6,292.8L1111.0,290.3L1115.5,288.6L1120.3,286.1L1125.2,283.1L1129.4,280.2L1132.6,277.5L1137.6,272.0L1143.5,264.7L1152.5,256.1L1156.6,251.7L1159.7,247.3L1162.4,242.6L1164.9,237.8L1167.2,232.5L1169.2,227.1L1170.8,221.6L1171.9,215.9L1173.6,204.5L1176.0,195.6L1176.6,191.3L1176.7,185.8L1176.3,179.7L1175.6,174.0L1174.4,169.2L1172.8,164.8L1170.8,160.3L1168.2,155.8L1165.3,151.4L1161.8,147.2L1157.7,143.2L1153.0,139.4L1148.1,136.2L1142.7,133.8L1136.8,131.8L1130.8,130.3L1124.6,129.2L1113.1,128.2L1110.4,128.2L1108.8,128.5L1092.6,131.8L1086.3,133.5L1081.3,135.4L1076.9,137.6L1072.5,140.4L1067.9,143.9L1058.4,152.4L1053.3,157.7L1040.1,173.0L1037.9,176.8L1037.0,178.8L1036.3,181.0L1034.3,188.9L1028.7,202.7Z" fill="#fbfae5" stroke="#000" stroke-width="1.16" stroke-linejoin="round"/>
<path d="M1029.0,213.7L1029.7,214.6L1030.8,217.4L1031.5,220.2L1031.8,223.3L1031.6,227.0L1030.7,232.9L1030.1,240.9L1029.4,244.7L1030.7,247.4L1033.6,255.2L1036.0,259.9L1040.0,267.0L1045.6,275.5L1049.1,281.3L1050.6,283.2L1052.8,285.0L1055.5,286.8L1058.7,288.3L1062.6,289.6L1067.0,290.7L1076.0,292.1L1080.2,292.3L1084.7,292.2L1089.8,291.6L1100.8,289.5L1110.0,287.1L1114.1,285.5L1118.7,283.2L1123.4,280.3L1127.3,277.5L1130.2,275.0L1135.0,269.8L1140.9,262.5L1150.0,253.7L1153.9,249.5L1156.9,245.4L1159.5,241.0L1161.8,236.3L1164.0,231.3L1165.9,226.0L1167.5,220.8L1168.6,215.3L1170.3,204.0L1172.6,194.9L1173.2,191.0L1173.3,185.9L1172.9,180.0L1172.2,174.7L1171.1,170.2L1169.7,166.1L1167.7,161.9L1165.3,157.6L1162.6,153.4L1159.3,149.5L1155.4,145.7L1151.0,142.1L1146.4,139.2L1141.4,136.9L1135.8,135.1L1130.1,133.7L1124.1,132.6L1113.0,131.6L1109.5,131.8L1093.4,135.1L1087.3,136.8L1082.7,138.6L1078.6,140.6L1074.4,143.2L1070.0,146.5L1060.8,154.8L1055.8,160.0L1042.8,175.0L1040.9,178.2L1040.2,180.0L1037.5,190.1L1032.8,201.3Z" fill="#f7f3b4" stroke="#000" stroke-width="1.16" stroke-linejoin="round"/>
<path d="M1078.0,145.6L1083.9,142.2L1089.2,139.8L1095.0,138.3L1101.9,137.7L1109.4,138.0L1116.9,139.0L1124.3,140.5L1131.8,142.7L1138.8,145.6L1145.5,149.3L1151.8,153.8L1157.0,158.8L1160.9,164.5L1163.8,170.7L1166.0,177.0L1167.5,183.1L1168.3,189.2L1168.5,195.2L1168.2,201.0L1167.3,206.6L1166.0,212.0L1164.1,217.0L1161.7,221.7L1159.2,226.6L1157.0,231.9L1154.7,237.3L1151.9,242.8L1148.4,248.4L1144.5,254.1L1140.2,259.6L1135.6,264.8L1130.7,269.9L1125.6,274.2L1120.3,277.7L1114.9,280.6L1109.6,282.9L1104.9,284.7L1100.3,285.9L1095.0,286.6L1088.5,287.1L1081.2,287.1L1074.3,285.9L1067.8,283.0L1061.6,278.9L1056.1,274.2L1051.3,269.0L1047.2,263.3L1043.7,257.4L1040.9,251.7L1038.7,245.8L1037.1,239.2L1036.1,231.4L1035.6,223.0L1035.6,215.0L1036.0,207.9L1036.7,201.3L1037.8,195.2L1039.0,190.1L1040.5,185.5L1042.9,180.6L1046.3,174.7L1050.7,168.5L1056.0,162.4L1062.9,156.3L1070.7,150.4Z" fill="#ece535" stroke="#000" stroke-width="1.23" stroke-linejoin="round"/>
<path d="M1078.0,155.8L1083.3,153.2L1088.9,151.0L1095.0,149.6L1102.1,149.0L1109.7,149.2L1116.9,150.0L1123.4,151.5L1129.4,153.7L1135.1,156.6L1140.5,160.3L1145.5,164.7L1149.7,169.7L1152.9,175.3L1155.3,181.4L1157.0,188.0L1158.2,195.2L1158.8,202.8L1158.5,210.0L1157.0,216.3L1154.6,222.3L1151.9,228.2L1149.1,234.4L1146.1,240.6L1142.4,246.5L1137.9,252.2L1132.9,257.7L1127.8,262.5L1123.1,266.5L1118.3,269.8L1113.2,272.7L1107.4,275.3L1101.1,277.4L1095.0,278.6L1089.1,278.7L1083.4,278.0L1077.9,276.4L1072.8,274.0L1067.9,270.8L1063.4,266.9L1059.1,262.1L1055.1,256.6L1051.7,250.8L1049.1,244.7L1047.2,238.4L1045.8,231.9L1044.9,225.0L1044.5,217.9L1044.4,212.0L1044.5,208.4L1044.9,206.0L1045.8,202.5L1047.2,196.6L1049.1,189.5L1051.7,182.8L1055.1,176.7L1059.1,171.0L1063.4,166.0L1068.0,162.0L1072.8,158.7Z" fill="#fad043" stroke="#000" stroke-width="1.23" stroke-linejoin="round"/>
<path d="M1085.2,165.3L1088.6,163.9L1091.6,163.4L1095.0,163.1L1099.5,162.8L1104.6,162.7L1109.6,163.1L1114.6,164.1L1119.6,165.5L1124.2,167.5L1128.5,170.1L1132.5,173.3L1135.8,177.0L1138.3,181.3L1140.2,186.3L1141.7,191.6L1142.8,197.5L1143.5,203.7L1143.5,210.0L1142.6,216.1L1141.1,222.2L1138.8,228.2L1135.7,234.1L1132.0,239.8L1127.8,245.0L1123.3,249.5L1118.5,253.4L1113.2,256.7L1107.4,259.5L1101.1,261.6L1095.0,262.5L1089.0,261.6L1083.1,259.5L1077.9,256.7L1073.6,253.4L1070.1,249.5L1067.0,245.0L1064.3,239.8L1062.1,234.1L1060.4,228.2L1059.4,222.4L1059.0,216.4L1059.0,210.0L1059.4,202.6L1060.3,194.7L1061.9,187.9L1064.2,182.7L1067.0,178.6L1070.6,174.8L1075.2,171.1L1080.5,167.8Z" fill="#f6975a" stroke="#000" stroke-width="1.23" stroke-linejoin="round"/>
<path d="M1119.6,215.0L1118.7,218.3L1117.4,221.5L1115.7,224.4L1113.7,227.0L1111.4,229.2L1108.9,230.9L1106.3,232.2L1103.5,233.0L1100.7,233.2L1098.0,232.9L1095.4,232.1L1093.0,230.7L1090.8,228.9L1088.9,226.7L1087.3,224.1L1086.1,221.1L1085.4,217.9L1085.0,214.6L1085.1,211.2L1085.6,207.8L1086.5,204.5L1087.8,201.3L1089.5,198.4L1091.5,195.8L1093.8,193.6L1096.3,191.9L1098.9,190.6L1101.7,189.8L1104.5,189.6L1107.2,189.9L1109.8,190.7L1112.2,192.1L1114.4,193.9L1116.3,196.1L1117.9,198.7L1119.1,201.7L1119.8,204.9L1120.2,208.2L1120.1,211.6Z" fill="#e03222" stroke="#000" stroke-width="1.30" stroke-linejoin="round"/>
<path d="M945.8,458.1L939.2,459.9L932.0,461.4L926.1,462.5L922.9,463.2L920.9,463.6L917.8,463.6L912.4,463.3L906.0,462.6L899.5,461.4L893.3,459.8L887.1,457.8L881.3,455.2L876.0,451.8L871.1,447.8L866.7,443.5L863.0,439.1L859.9,434.4L857.2,429.6L855.0,424.9L853.3,420.2L852.1,415.0L851.3,409.0L850.9,402.6L851.0,396.8L851.7,392.1L852.9,388.0L854.0,383.4L854.9,377.9L855.7,371.9L856.9,366.0L858.6,360.3L860.6,354.6L863.0,349.2L865.6,344.1L868.4,339.3L871.8,334.6L876.1,329.9L880.9,325.4L884.9,321.5L887.3,318.7L888.9,316.5L890.8,314.2L893.3,311.4L896.1,308.5L899.5,305.5L903.9,302.4L909.0,299.3L914.1,296.7L918.9,294.9L923.6,293.5L928.7,292.3L934.3,291.1L940.2,290.0L945.8,289.4L950.9,289.3L955.6,289.5L960.4,290.1L965.4,291.0L970.4,292.2L974.9,293.8L978.8,295.7L982.3,297.9L985.2,300.4L987.5,303.1L989.2,306.1L991.0,309.1L992.9,312.0L994.9,314.8L996.8,317.9L998.9,321.5L1001.0,325.2L1002.7,328.4L1003.7,330.7L1004.3,332.5L1004.9,334.1L1005.5,335.7L1006.0,337.1L1006.6,338.5L1007.4,339.9L1008.4,341.2L1009.4,342.4L1010.7,343.3L1012.1,344.1L1013.2,345.2L1013.6,346.9L1013.6,348.8L1013.8,350.8L1014.6,352.6L1015.7,354.5L1016.6,356.3L1017.2,358.0L1017.7,359.8L1017.7,361.8L1017.1,364.4L1016.0,367.3L1014.9,370.2L1013.9,373.0L1013.0,375.7L1012.1,378.5L1011.3,381.3L1010.6,384.2L1009.9,386.8L1009.2,389.0L1008.5,391.0L1007.7,392.9L1006.8,394.8L1005.9,396.6L1004.9,398.4L1003.7,400.0L1002.5,401.6L1001.6,403.4L1001.4,405.5L1001.4,407.8L1001.0,410.1L999.7,412.2L997.9,414.3L996.0,416.4L994.2,418.1L992.3,419.7L989.5,422.4L985.3,427.1L980.1,433.0L975.0,438.4L970.1,443.0L965.3,447.2L960.4,450.8L955.7,453.7L951.0,456.1Z" fill="#ffffff" stroke="#000" stroke-width="1.16" stroke-linejoin="round"/>
<path d="M945.8,458.1L939.2,459.9L932.0,461.4L926.1,462.5L922.9,463.2L920.9,463.6L917.8,463.6L912.4,463.3L906.0,462.6L899.5,461.4L893.3,459.8L887.1,457.8L881.3,455.2L876.0,451.8L871.1,447.8L866.7,443.5L863.0,439.1L859.9,434.4L857.2,429.6L855.0,424.9L853.3,420.2L852.1,415.0L851.3,409.0L850.9,402.6L851.0,396.8L851.7,392.1L852.9,388.0L854.0,383.4L854.9,377.9L855.7,371.9L856.9,366.0L858.6,360.3L860.6,354.6L863.0,349.2L865.6,344.1L868.4,339.3L871.8,334.6L876.1,329.9L880.9,325.4L884.9,321.5L887.3,318.7L888.9,316.5L890.8,314.2L893.3,311.4L896.1,308.5L899.5,305.5L903.9,302.4L909.0,299.3L914.1,296.7L918.9,294.9L923.6,293.5L928.7,292.3L934.3,291.1L940.2,290.0L945.8,289.4L950.9,289.3L955.6,289.5L960.4,290.1L965.4,291.0L970.4,292.2L974.9,293.8L978.8,295.7L982.3,297.9L985.2,300.4L987.5,303.1L989.2,306.1L991.0,309.1L992.9,312.0L994.9,314.8L996.8,317.9L998.9,321.5L1001.0,325.2L1002.7,328.4L1003.7,330.7L1004.3,332.5L1004.9,334.1L1005.5,335.7L1006.0,337.1L1006.6,338.5L1007.3,339.9L1008.0,341.4L1008.4,342.9L1008.3,344.4L1008.0,346.0L1007.7,348.0L1007.5,350.5L1007.3,353.4L1007.1,356.3L1006.7,359.2L1006.2,362.0L1006.0,364.6L1006.2,366.8L1006.5,368.7L1007.1,370.2L1008.0,371.1L1009.0,371.6L1009.6,372.2L1009.7,373.0L1009.4,373.9L1008.8,375.7L1007.9,379.0L1006.7,383.1L1005.5,386.8L1004.5,389.5L1003.6,391.8L1002.7,394.0L1001.7,396.2L1000.8,398.4L999.9,400.7L999.2,403.2L998.7,405.8L998.0,408.4L997.2,410.8L996.2,413.1L995.0,415.4L993.7,417.4L992.1,419.4L989.5,422.4L985.3,427.2L980.2,433.0L975.0,438.4L970.1,443.0L965.3,447.2L960.4,450.8L955.7,453.7L951.0,456.1Z" fill="#fbfae5" stroke="#000" stroke-width="1.16" stroke-linejoin="round"/>
<path d="M1007.9,372.9L1006.7,372.3L1005.5,370.8L1004.5,367.1L1004.3,364.7L1005.4,356.1L1006.0,347.9L1006.7,344.2L1006.7,343.1L1006.4,342.0L1005.0,339.1L1002.1,331.3L999.5,326.0L995.3,318.8L989.6,310.1L986.1,304.1L984.0,301.6L981.2,299.3L978.0,297.2L974.2,295.4L969.9,293.9L965.0,292.7L955.5,291.2L950.8,291.0L945.9,291.1L940.4,291.7L929.1,294.0L919.4,296.5L914.8,298.3L909.8,300.8L904.9,303.8L900.5,306.8L897.2,309.7L892.1,315.3L886.2,322.6L877.3,331.1L873.1,335.7L869.9,340.2L867.1,344.9L864.5,349.9L862.2,355.2L860.2,360.8L858.6,366.4L857.4,372.2L855.7,383.7L853.4,392.5L852.7,396.9L852.6,402.6L853.0,408.9L853.8,414.7L855.0,419.7L856.6,424.3L858.7,428.8L861.3,433.5L864.4,438.0L868.0,442.3L872.2,446.5L877.0,450.4L882.1,453.7L887.7,456.2L893.8,458.2L899.9,459.7L906.2,460.9L917.9,461.9L920.7,461.9L922.5,461.6L938.8,458.2L945.3,456.5L950.4,454.5L954.9,452.2L959.4,449.4L964.2,445.8L969.0,441.7L973.8,437.2L978.9,431.8L992.3,416.4L994.7,412.4L995.6,410.2L996.4,407.9L998.3,400.1L1003.9,386.3Z" fill="#fbfae5" stroke="#000" stroke-width="1.16" stroke-linejoin="round"/>
<path d="M1005.9,373.7L1004.2,372.0L1003.4,369.9L1002.8,367.5L1002.6,364.8L1002.9,361.5L1003.7,355.9L1004.3,347.7L1005.0,344.0L1004.8,342.6L1003.4,339.7L1000.6,332.0L998.0,326.8L993.9,319.7L988.2,311.0L984.7,305.1L982.8,302.8L980.2,300.7L977.1,298.7L973.6,296.9L969.4,295.5L964.7,294.3L955.3,292.9L950.8,292.7L946.0,292.8L940.7,293.4L929.4,295.6L920.0,298.1L915.5,299.8L910.7,302.3L905.8,305.3L901.6,308.2L898.4,310.9L893.4,316.4L887.5,323.7L878.5,332.3L874.4,336.7L871.3,341.1L868.6,345.8L866.1,350.6L863.8,355.9L861.8,361.3L860.2,366.8L859.1,372.5L857.4,383.9L855.0,392.8L854.4,397.1L854.3,402.6L854.7,408.7L855.4,414.4L856.6,419.2L858.2,423.6L860.2,428.1L862.8,432.6L865.7,437.0L869.2,441.2L873.3,445.2L878.0,449.0L882.9,452.2L888.3,454.6L894.2,456.6L900.2,458.1L906.4,459.2L917.9,460.2L920.6,460.2L922.2,459.9L938.4,456.6L944.7,454.9L949.7,453.0L954.1,450.8L958.5,448.0L963.1,444.5L972.6,436.0L977.7,430.7L990.9,415.4L993.1,411.6L994.0,409.6L994.7,407.4L996.7,399.5L1002.3,385.7Z" fill="#fbfae5" stroke="#000" stroke-width="1.16" stroke-linejoin="round"/>
<path d="M1002.0,374.7L1001.3,373.8L1000.2,371.0L999.5,368.2L999.2,365.1L999.4,361.4L1000.3,355.5L1000.9,347.5L1001.6,343.7L1000.3,341.0L997.4,333.2L995.0,328.5L991.0,321.4L985.4,312.9L981.9,307.1L980.4,305.2L978.2,303.4L975.5,301.6L972.3,300.1L968.4,298.8L964.0,297.7L955.0,296.3L950.8,296.1L946.3,296.2L941.2,296.8L930.2,298.9L921.0,301.3L916.9,302.9L912.3,305.2L907.6,308.1L903.7,310.9L900.8,313.4L896.0,318.6L890.1,325.9L881.0,334.7L877.1,338.9L874.1,343.0L871.5,347.4L869.2,352.1L867.0,357.1L865.1,362.4L863.5,367.6L862.4,373.1L860.7,384.4L858.4,393.5L857.8,397.4L857.7,402.5L858.1,408.4L858.8,413.7L859.9,418.2L861.3,422.3L863.3,426.5L865.7,430.8L868.4,435.0L871.7,438.9L875.6,442.7L880.0,446.3L884.6,449.2L889.6,451.5L895.2,453.3L900.9,454.7L906.9,455.8L918.0,456.8L921.5,456.6L937.6,453.3L943.7,451.6L948.3,449.8L952.4,447.8L956.6,445.2L961.0,441.9L970.2,433.6L975.2,428.4L988.2,413.4L990.1,410.2L990.8,408.4L993.5,398.3L998.2,387.1Z" fill="#f7f3b4" stroke="#000" stroke-width="1.16" stroke-linejoin="round"/>
<path d="M953.0,442.8L947.1,446.2L941.8,448.6L936.0,450.1L929.1,450.7L921.6,450.4L914.1,449.4L906.7,447.9L899.2,445.7L892.2,442.8L885.5,439.1L879.2,434.6L874.0,429.6L870.1,423.9L867.2,417.7L865.0,411.4L863.5,405.3L862.7,399.2L862.5,393.2L862.8,387.4L863.7,381.8L865.0,376.4L866.9,371.4L869.3,366.7L871.8,361.8L874.0,356.5L876.3,351.1L879.1,345.6L882.6,340.0L886.5,334.3L890.8,328.8L895.4,323.6L900.3,318.5L905.4,314.2L910.7,310.7L916.1,307.8L921.4,305.5L926.1,303.7L930.7,302.5L936.0,301.8L942.5,301.3L949.8,301.3L956.7,302.5L963.2,305.4L969.4,309.5L974.9,314.2L979.7,319.4L983.8,325.1L987.3,331.0L990.1,336.7L992.3,342.6L993.9,349.2L994.9,357.0L995.4,365.4L995.4,373.4L995.0,380.5L994.3,387.1L993.2,393.2L992.0,398.3L990.5,402.9L988.1,407.8L984.7,413.7L980.3,419.9L975.0,426.0L968.1,432.1L960.3,438.0Z" fill="#ece535" stroke="#000" stroke-width="1.23" stroke-linejoin="round"/>
<path d="M953.0,432.6L947.7,435.2L942.1,437.4L936.0,438.8L928.9,439.4L921.3,439.2L914.1,438.4L907.6,436.9L901.6,434.7L895.9,431.8L890.5,428.1L885.5,423.7L881.3,418.7L878.1,413.1L875.7,407.0L874.0,400.4L872.8,393.2L872.2,385.6L872.5,378.4L874.0,372.1L876.4,366.1L879.1,360.2L881.9,354.0L884.9,347.8L888.6,341.9L893.1,336.2L898.1,330.7L903.2,325.9L907.9,321.9L912.7,318.6L917.8,315.7L923.6,313.1L929.9,311.0L936.0,309.8L941.9,309.7L947.6,310.4L953.1,312.0L958.2,314.4L963.1,317.6L967.6,321.5L971.9,326.3L975.9,331.8L979.3,337.6L981.9,343.7L983.8,350.0L985.2,356.5L986.1,363.4L986.5,370.5L986.6,376.4L986.5,380.0L986.1,382.4L985.2,385.9L983.8,391.8L981.9,398.9L979.3,405.6L975.9,411.7L971.9,417.4L967.6,422.4L963.0,426.4L958.2,429.7Z" fill="#fad043" stroke="#000" stroke-width="1.23" stroke-linejoin="round"/>
<path d="M945.8,423.1L942.4,424.5L939.4,425.0L936.0,425.3L931.5,425.6L926.4,425.7L921.4,425.3L916.4,424.3L911.4,422.9L906.8,420.9L902.5,418.3L898.5,415.1L895.2,411.4L892.7,407.1L890.8,402.1L889.3,396.8L888.2,390.9L887.5,384.7L887.5,378.4L888.4,372.3L889.9,366.2L892.2,360.2L895.3,354.3L899.0,348.6L903.2,343.4L907.7,338.9L912.5,335.0L917.8,331.7L923.6,328.9L929.9,326.8L936.0,325.9L942.0,326.8L947.9,328.9L953.1,331.7L957.4,335.0L960.9,338.9L964.0,343.4L966.7,348.6L968.9,354.3L970.6,360.2L971.6,366.0L972.0,372.0L972.0,378.4L971.6,385.8L970.7,393.7L969.1,400.5L966.8,405.7L964.0,409.8L960.4,413.6L955.8,417.3L950.5,420.6Z" fill="#f6975a" stroke="#000" stroke-width="1.23" stroke-linejoin="round"/>
<path d="M911.4,373.4L912.3,370.1L913.6,366.9L915.3,364.0L917.3,361.4L919.6,359.2L922.1,357.5L924.7,356.2L927.5,355.4L930.3,355.2L933.0,355.5L935.6,356.3L938.0,357.7L940.2,359.5L942.1,361.7L943.7,364.3L944.9,367.3L945.6,370.5L946.0,373.8L945.9,377.2L945.4,380.6L944.5,383.9L943.2,387.1L941.5,390.0L939.5,392.6L937.2,394.8L934.7,396.5L932.1,397.8L929.3,398.6L926.5,398.8L923.8,398.5L921.2,397.7L918.8,396.3L916.6,394.5L914.7,392.3L913.1,389.7L911.9,386.7L911.2,383.5L910.8,380.2L910.9,376.8Z" fill="#e03222" stroke="#000" stroke-width="1.30" stroke-linejoin="round"/>
</g>
<text x="1015.2" y="29.8" font-size="20.3" text-anchor="middle">t=2.052 ms</text>
<rect x="765.5" y="44.4" width="500.0" height="500.0" fill="none" stroke="#111" stroke-width="1.2"/>
<line x1="815.5" y1="544.4" x2="815.5" y2="539.4" stroke="#111" stroke-width="1.1"/>
<line x1="815.5" y1="44.4" x2="815.5" y2="49.4" stroke="#111" stroke-width="1.1"/>
<text x="815.7" y="565.0" font-size="17.6" text-anchor="middle">40</text>
<text x="805.4" y="565.0" font-size="17.6" text-anchor="end">–</text>
<line x1="765.5" y1="494.4" x2="770.5" y2="494.4" stroke="#111" stroke-width="1.1"/>
<line x1="1265.5" y1="494.4" x2="1260.5" y2="494.4" stroke="#111" stroke-width="1.1"/>
<text x="761.9" y="500.8" font-size="17.6" text-anchor="end">40</text>
<text x="741.5" y="500.8" font-size="17.6" text-anchor="end">–</text>
<line x1="915.5" y1="544.4" x2="915.5" y2="539.4" stroke="#111" stroke-width="1.1"/>
<line x1="915.5" y1="44.4" x2="915.5" y2="49.4" stroke="#111" stroke-width="1.1"/>
<text x="915.7" y="565.0" font-size="17.6" text-anchor="middle">20</text>
<text x="905.4" y="565.0" font-size="17.6" text-anchor="end">–</text>
<line x1="765.5" y1="394.4" x2="770.5" y2="394.4" stroke="#111" stroke-width="1.1"/>
<line x1="1265.5" y1="394.4" x2="1260.5" y2="394.4" stroke="#111" stroke-width="1.1"/>
<text x="761.9" y="400.8" font-size="17.6" text-anchor="end">20</text>
<text x="741.5" y="400.8" font-size="17.6" text-anchor="end">–</text>
<line x1="1015.5" y1="544.4" x2="1015.5" y2="539.4" stroke="#111" stroke-width="1.1"/>
<line x1="1015.5" y1="44.4" x2="1015.5" y2="49.4" stroke="#111" stroke-width="1.1"/>
<text x="1015.7" y="565.0" font-size="17.6" text-anchor="middle">0</text>
<line x1="765.5" y1="294.4" x2="770.5" y2="294.4" stroke="#111" stroke-width="1.1"/>
<line x1="1265.5" y1="294.4" x2="1260.5" y2="294.4" stroke="#111" stroke-width="1.1"/>
<text x="761.9" y="300.8" font-size="17.6" text-anchor="end">0</text>
<line x1="1115.5" y1="544.4" x2="1115.5" y2="539.4" stroke="#111" stroke-width="1.1"/>
<line x1="1115.5" y1="44.4" x2="1115.5" y2="49.4" stroke="#111" stroke-width="1.1"/>
<text x="1115.7" y="565.0" font-size="17.6" text-anchor="middle">20</text>
<line x1="765.5" y1="194.4" x2="770.5" y2="194.4" stroke="#111" stroke-width="1.1"/>
<line x1="1265.5" y1="194.4" x2="1260.5" y2="194.4" stroke="#111" stroke-width="1.1"/>
<text x="761.9" y="200.8" font-size="17.6" text-anchor="end">20</text>
<line x1="1215.5" y1="544.4" x2="1215.5" y2="539.4" stroke="#111" stroke-width="1.1"/>
<line x1="1215.5" y1="44.4" x2="1215.5" y2="49.4" stroke="#111" stroke-width="1.1"/>
<text x="1215.7" y="565.0" font-size="17.6" text-anchor="middle">40</text>
<line x1="765.5" y1="94.4" x2="770.5" y2="94.4" stroke="#111" stroke-width="1.1"/>
<line x1="1265.5" y1="94.4" x2="1260.5" y2="94.4" stroke="#111" stroke-width="1.1"/>
<text x="761.9" y="100.8" font-size="17.6" text-anchor="end">40</text>
<text x="1015.1" y="585.0" font-size="20.3" text-anchor="middle">X (km)</text>
<text transform="translate(720.9,295.0) rotate(-90)" font-size="20.3" text-anchor="middle">Y (km)</text>
<rect x="1285.1" y="44.40" width="25.4" height="8.21" fill="#df2f1f"/>
<rect x="1285.1" y="52.21" width="25.4" height="8.21" fill="#e03120"/>
<rect x="1285.1" y="60.02" width="25.4" height="8.21" fill="#e13421"/>
<rect x="1285.1" y="67.84" width="25.4" height="8.21" fill="#e54129"/>
<rect x="1285.1" y="75.65" width="25.4" height="8.21" fill="#e95030"/>
<rect x="1285.1" y="83.46" width="25.4" height="8.21" fill="#ed603a"/>
<rect x="1285.1" y="91.28" width="25.4" height="8.21" fill="#f07146"/>
<rect x="1285.1" y="99.09" width="25.4" height="8.21" fill="#f48f58"/>
<rect x="1285.1" y="106.90" width="25.4" height="8.21" fill="#f6a560"/>
<rect x="1285.1" y="114.71" width="25.4" height="8.21" fill="#f7ab5e"/>
<rect x="1285.1" y="122.53" width="25.4" height="8.21" fill="#f8b159"/>
<rect x="1285.1" y="130.34" width="25.4" height="8.21" fill="#f9b753"/>
<rect x="1285.1" y="138.15" width="25.4" height="8.21" fill="#fabd4d"/>
<rect x="1285.1" y="145.96" width="25.4" height="8.21" fill="#fbc248"/>
<rect x="1285.1" y="153.78" width="25.4" height="8.21" fill="#fbc841"/>
<rect x="1285.1" y="161.59" width="25.4" height="8.21" fill="#fcce39"/>
<rect x="1285.1" y="169.40" width="25.4" height="8.21" fill="#fcd331"/>
<rect x="1285.1" y="177.21" width="25.4" height="8.21" fill="#fcda29"/>
<rect x="1285.1" y="185.03" width="25.4" height="8.21" fill="#f9dd27"/>
<rect x="1285.1" y="192.84" width="25.4" height="8.21" fill="#f5e026"/>
<rect x="1285.1" y="200.65" width="25.4" height="8.21" fill="#f3e128"/>
<rect x="1285.1" y="208.46" width="25.4" height="8.21" fill="#f1e12a"/>
<rect x="1285.1" y="216.28" width="25.4" height="8.21" fill="#f0e22c"/>
<rect x="1285.1" y="224.09" width="25.4" height="8.21" fill="#eee22e"/>
<rect x="1285.1" y="231.90" width="25.4" height="8.21" fill="#eee230"/>
<rect x="1285.1" y="239.71" width="25.4" height="8.21" fill="#ede332"/>
<rect x="1285.1" y="247.53" width="25.4" height="8.21" fill="#ece334"/>
<rect x="1285.1" y="255.34" width="25.4" height="8.21" fill="#ebe336"/>
<rect x="1285.1" y="263.15" width="25.4" height="8.21" fill="#ebe339"/>
<rect x="1285.1" y="270.96" width="25.4" height="8.21" fill="#ebe43e"/>
<rect x="1285.1" y="278.77" width="25.4" height="8.21" fill="#ece442"/>
<rect x="1285.1" y="286.59" width="25.4" height="8.21" fill="#ece547"/>
<rect x="1285.1" y="294.40" width="25.4" height="8.21" fill="#ece54c"/>
<rect x="1285.1" y="302.21" width="25.4" height="8.21" fill="#ede653"/>
<rect x="1285.1" y="310.02" width="25.4" height="8.21" fill="#eee759"/>
<rect x="1285.1" y="317.84" width="25.4" height="8.21" fill="#efe85f"/>
<rect x="1285.1" y="325.65" width="25.4" height="8.21" fill="#efe966"/>
<rect x="1285.1" y="333.46" width="25.4" height="8.21" fill="#f0ea6e"/>
<rect x="1285.1" y="341.27" width="25.4" height="8.21" fill="#f1eb75"/>
<rect x="1285.1" y="349.09" width="25.4" height="8.21" fill="#f2eb7c"/>
<rect x="1285.1" y="356.90" width="25.4" height="8.21" fill="#f2ec84"/>
<rect x="1285.1" y="364.71" width="25.4" height="8.21" fill="#f3ed8c"/>
<rect x="1285.1" y="372.52" width="25.4" height="8.21" fill="#f4ee93"/>
<rect x="1285.1" y="380.34" width="25.4" height="8.21" fill="#f5ef9b"/>
<rect x="1285.1" y="388.15" width="25.4" height="8.21" fill="#f5f0a2"/>
<rect x="1285.1" y="395.96" width="25.4" height="8.21" fill="#f6f1a9"/>
<rect x="1285.1" y="403.77" width="25.4" height="8.21" fill="#f6f2af"/>
<rect x="1285.1" y="411.59" width="25.4" height="8.21" fill="#f7f3b6"/>
<rect x="1285.1" y="419.40" width="25.4" height="8.21" fill="#f7f4bc"/>
<rect x="1285.1" y="427.21" width="25.4" height="8.21" fill="#f8f5c1"/>
<rect x="1285.1" y="435.02" width="25.4" height="8.21" fill="#f8f6c6"/>
<rect x="1285.1" y="442.84" width="25.4" height="8.21" fill="#f9f6cc"/>
<rect x="1285.1" y="450.65" width="25.4" height="8.21" fill="#f9f7d1"/>
<rect x="1285.1" y="458.46" width="25.4" height="8.21" fill="#faf8d6"/>
<rect x="1285.1" y="466.27" width="25.4" height="8.21" fill="#faf9db"/>
<rect x="1285.1" y="474.09" width="25.4" height="8.21" fill="#fbfae0"/>
<rect x="1285.1" y="481.90" width="25.4" height="8.21" fill="#fcfae5"/>
<rect x="1285.1" y="489.71" width="25.4" height="8.21" fill="#fcfbe9"/>
<rect x="1285.1" y="497.52" width="25.4" height="8.21" fill="#fdfced"/>
<rect x="1285.1" y="505.34" width="25.4" height="8.21" fill="#fdfdf2"/>
<rect x="1285.1" y="513.15" width="25.4" height="8.21" fill="#fefef6"/>
<rect x="1285.1" y="520.96" width="25.4" height="8.21" fill="#ffffff"/>
<rect x="1285.1" y="528.77" width="25.4" height="8.21" fill="#ffffff"/>
<rect x="1285.1" y="536.59" width="25.4" height="8.21" fill="#ffffff"/>
<rect x="1285.1" y="44.4" width="25.4" height="500.0" fill="none" stroke="#111" stroke-width="1.2"/>
<line x1="1285.1" y1="69.0" x2="1290.1" y2="69.0" stroke="#111" stroke-width="1.3"/>
<line x1="1310.5" y1="69.0" x2="1305.5" y2="69.0" stroke="#111" stroke-width="1.3"/>
<text x="1315.5" y="73.5" font-size="12.5" text-anchor="start">1e14.5</text>
<line x1="1285.1" y1="133.0" x2="1290.1" y2="133.0" stroke="#111" stroke-width="1.3"/>
<line x1="1310.5" y1="133.0" x2="1305.5" y2="133.0" stroke="#111" stroke-width="1.3"/>
<text x="1315.5" y="137.5" font-size="12.5" text-anchor="start">1e14</text>
<line x1="1285.1" y1="197.0" x2="1290.1" y2="197.0" stroke="#111" stroke-width="1.3"/>
<line x1="1310.5" y1="197.0" x2="1305.5" y2="197.0" stroke="#111" stroke-width="1.3"/>
<text x="1315.5" y="201.5" font-size="12.5" text-anchor="start">1e13.5</text>
<line x1="1285.1" y1="261.0" x2="1290.1" y2="261.0" stroke="#111" stroke-width="1.3"/>
<line x1="1310.5" y1="261.0" x2="1305.5" y2="261.0" stroke="#111" stroke-width="1.3"/>
<text x="1315.5" y="265.5" font-size="12.5" text-anchor="start">1e13</text>
<line x1="1285.1" y1="325.0" x2="1290.1" y2="325.0" stroke="#111" stroke-width="1.3"/>
<line x1="1310.5" y1="325.0" x2="1305.5" y2="325.0" stroke="#111" stroke-width="1.3"/>
<text x="1315.5" y="329.5" font-size="12.5" text-anchor="start">1e12.5</text>
<line x1="1285.1" y1="389.0" x2="1290.1" y2="389.0" stroke="#111" stroke-width="1.3"/>
<line x1="1310.5" y1="389.0" x2="1305.5" y2="389.0" stroke="#111" stroke-width="1.3"/>
<text x="1315.5" y="393.5" font-size="12.5" text-anchor="start">1e12</text>
<line x1="1285.1" y1="453.0" x2="1290.1" y2="453.0" stroke="#111" stroke-width="1.3"/>
<line x1="1310.5" y1="453.0" x2="1305.5" y2="453.0" stroke="#111" stroke-width="1.3"/>
<text x="1315.5" y="457.5" font-size="12.5" text-anchor="start">1e11.5</text>
<line x1="1285.1" y1="517.0" x2="1290.1" y2="517.0" stroke="#111" stroke-width="1.3"/>
<line x1="1310.5" y1="517.0" x2="1305.5" y2="517.0" stroke="#111" stroke-width="1.3"/>
<text x="1315.5" y="521.5" font-size="12.5" text-anchor="start">1e11</text>
<text x="1321.1" y="19.2" font-size="17.5" text-anchor="start">ρ</text>
<text x="1321.0" y="44.4" font-size="17.8" text-anchor="start">g/cm<tspan font-size="13.8" dx="0.6" dy="-9">3</tspan></text>
<g clip-path="url(#clip2)">
<path d="M181.8,831.1L181.7,826.4L181.7,821.4L181.9,816.6L182.6,812.1L183.8,808.4L185.3,805.2L187.2,801.8L189.1,797.5L191.3,791.7L193.8,784.8L196.2,778.1L197.9,772.7L198.6,769.1L198.5,766.7L198.5,764.7L199.3,762.5L201.1,760.0L203.4,757.6L206.3,755.1L209.6,752.3L213.4,749.1L217.6,745.7L222.3,742.2L227.1,739.2L232.1,736.6L237.3,734.4L242.8,732.3L248.9,730.4L255.7,728.5L263.0,726.8L270.6,725.2L278.1,723.9L285.8,722.8L293.7,722.0L301.1,721.4L307.3,720.9L311.7,720.5L314.9,720.1L317.5,720.2L320.4,720.9L323.7,722.5L327.0,724.8L330.3,727.5L333.5,730.4L336.7,733.3L339.8,736.5L342.7,739.9L345.2,743.6L347.1,747.6L348.6,751.8L349.8,756.3L351.0,761.1L352.2,766.2L353.2,771.7L354.2,777.3L355.4,782.9L356.8,788.4L358.4,794.0L360.0,799.5L361.3,804.8L362.5,810.1L363.7,815.4L364.5,820.1L364.9,823.8L364.6,826.1L363.7,827.3L362.7,828.0L361.8,828.8L361.0,829.8L360.3,830.6L359.5,831.3L358.8,832.1L358.0,833.0L357.3,833.8L356.6,834.6L355.8,835.5L355.1,836.3L354.4,837.2L353.7,838.0L353.0,838.9L352.3,839.7L351.6,840.6L350.9,841.5L350.2,842.3L349.5,843.2L348.8,844.1L348.2,845.0L347.5,845.8L346.8,846.7L346.2,847.6L345.5,848.5L344.9,849.4L344.2,850.3L343.6,851.2L342.9,852.1L342.3,853.0L341.7,853.9L341.1,854.8L340.4,855.7L339.8,856.6L339.2,857.6L338.6,858.5L338.0,859.4L337.4,860.3L336.8,861.3L336.3,862.2L335.7,863.2L335.1,864.1L334.5,865.0L334.0,866.0L333.4,867.0L332.9,867.9L332.3,868.9L331.8,869.8L331.2,870.8L330.7,871.8L330.2,872.7L329.6,873.7L329.1,874.7L328.6,875.7L328.1,876.7L327.6,877.6L327.1,878.6L326.6,879.6L326.1,880.6L325.6,881.6L325.1,882.6L324.6,883.6L324.1,884.6L323.7,885.7L323.2,886.7L322.7,887.7L322.3,888.7L321.9,889.8L321.4,890.8L320.9,891.8L320.3,892.7L319.7,893.6L319.1,894.5L318.5,895.4L317.8,896.4L317.2,897.3L316.6,898.2L316.0,899.1L315.4,900.0L314.8,901.0L314.2,901.9L313.6,902.8L313.0,903.7L312.4,904.7L311.8,905.6L311.1,906.5L310.4,907.3L309.6,908.1L308.8,908.9L308.0,909.7L307.3,910.5L306.5,911.4L305.8,912.2L305.0,913.0L304.3,913.8L303.5,914.7L302.8,915.5L302.1,916.4L301.3,917.2L300.6,918.0L299.9,918.9L299.2,919.7L298.5,920.6L297.8,921.5L297.1,922.3L296.4,923.2L295.7,924.0L295.0,924.9L294.3,925.8L293.7,926.7L293.0,927.5L292.3,928.4L291.7,929.3L291.0,930.2L290.4,931.1L289.7,932.0L289.1,932.9L288.4,933.8L287.8,934.7L287.2,935.6L286.5,936.5L285.9,937.4L285.3,938.4L284.7,939.3L284.1,940.2L283.5,941.1L282.9,942.1L282.3,943.0L281.7,943.9L281.2,944.9L280.6,945.8L280.0,946.8L279.5,947.7L278.9,948.7L278.3,949.6L277.8,950.6L277.2,951.5L276.7,952.5L276.2,953.5L275.6,954.4L275.1,955.4L274.6,956.4L274.1,957.4L273.6,958.4L273.0,959.4L272.5,960.3L272.0,961.3L271.5,962.3L271.0,963.3L270.6,964.3L270.1,965.5L269.7,966.7L269.2,967.7L268.7,968.4L268.0,968.6L267.1,968.6L266.3,968.2L265.7,967.5L265.2,966.4L264.8,964.9L264.6,963.3L264.5,961.7L264.8,960.8L265.3,960.3L265.8,959.0L265.7,955.9L264.9,950.2L263.6,942.5L262.2,934.3L261.0,926.7L260.0,919.6L259.0,912.6L258.2,906.2L257.5,901.0L257.2,897.4L257.1,894.9L257.0,893.1L256.3,891.7L255.1,890.5L253.4,889.7L251.5,889.3L249.3,889.4L246.6,890.0L243.4,891.0L240.3,892.4L237.7,894.0L235.8,896.2L234.4,898.9L233.1,901.5L231.8,903.4L230.3,904.5L228.7,905.2L227.2,905.2L226.0,904.5L225.5,902.9L225.4,900.7L225.2,897.6L224.1,893.8L221.8,888.6L218.6,882.2L215.3,875.8L212.5,870.5L210.5,866.6L209.0,863.4L207.4,860.8L205.2,858.8L201.9,857.6L197.9,857.1L193.9,856.7L190.6,855.9L188.1,854.6L186.1,853.2L184.5,851.2L183.3,848.6L182.5,845.0L182.0,840.6L181.9,835.8Z" fill="#ffffff" stroke="#000" stroke-width="1.16" stroke-linejoin="round"/>
<path d="M184.0,821.5L184.3,840.4L184.7,844.6L185.5,847.8L186.5,850.0L187.7,851.5L189.3,852.7L191.4,853.7L194.3,854.5L202.7,855.4L206.7,857.1L209.4,859.6L211.1,862.4L220.7,881.2L226.2,892.9L227.5,897.5L227.9,902.9L229.1,902.5L230.1,901.8L231.1,900.3L233.8,895.1L235.9,892.5L239.1,890.4L242.5,888.9L245.9,887.8L248.8,887.1L251.9,887.1L253.9,887.4L256.1,888.4L258.4,890.8L259.2,892.9L259.8,900.7L262.3,919.3L268.0,955.6L267.9,959.7L267.3,961.5L266.8,962.0L267.1,964.4L267.5,965.9L270.0,960.3L275.2,950.4L280.4,941.8L285.3,934.3L290.5,927.0L296.7,919.1L302.5,912.3L309.3,905.0L318.4,891.5L323.5,880.6L328.1,871.6L333.1,862.9L338.5,854.4L344.3,846.2L350.5,838.3L357.0,830.6L360.3,827.1L362.4,825.2L362.6,823.8L362.2,820.4L361.4,815.8L359.1,805.3L353.1,783.4L348.8,761.6L346.4,752.5L345.0,748.4L343.2,744.7L340.9,741.3L338.1,738.1L328.8,729.3L325.6,726.7L322.5,724.5L319.6,723.1L317.2,722.5L315.0,722.4L286.1,725.1L278.5,726.2L263.5,729.0L256.3,730.8L243.6,734.5L238.1,736.5L233.1,738.7L228.2,741.2L223.6,744.1L214.8,750.9L205.0,759.2L202.9,761.5L201.4,763.6L200.8,765.1L200.9,769.1L200.2,773.1L198.3,778.9L191.3,798.3L189.3,802.7L185.9,809.2L184.8,812.6L184.2,816.8Z" fill="#fbfae5" stroke="#000" stroke-width="1.16" stroke-linejoin="round"/>
<path d="M186.1,821.5L186.4,840.3L186.8,844.3L187.5,847.2L188.3,848.9L189.2,849.9L192.2,851.8L194.6,852.4L202.4,853.2L206.7,854.7L208.2,855.5L211.2,858.5L213.0,861.5L225.8,886.8L228.3,892.6L229.4,896.5L229.7,898.6L232.5,893.4L235.3,890.3L238.5,888.3L241.7,886.9L245.2,885.8L249.2,885.0L251.4,884.9L254.2,885.4L257.0,886.5L258.2,887.4L259.4,888.6L260.3,889.9L261.3,892.7L261.9,900.5L264.3,919.0L270.1,955.5L277.4,942.6L285.5,930.3L290.2,924.0L295.8,916.9L301.7,910.1L307.7,903.7L316.6,890.4L322.1,878.7L326.8,869.7L332.5,859.9L338.1,851.4L343.3,844.1L349.6,836.1L355.5,829.2L358.9,825.5L360.4,824.3L360.2,820.7L358.2,811.0L355.7,800.7L351.1,784.0L346.7,762.1L344.3,753.1L343.0,749.2L341.4,745.8L339.2,742.6L336.6,739.5L327.4,730.9L324.4,728.3L321.5,726.3L318.9,725.1L316.9,724.6L315.1,724.5L286.3,727.2L278.8,728.2L264.0,731.1L256.8,732.8L244.3,736.5L238.9,738.5L234.0,740.6L229.3,743.0L224.7,745.9L216.2,752.5L206.5,760.8L204.5,762.8L203.2,764.6L202.9,765.5L202.9,769.9L202.2,773.5L200.3,779.6L193.2,799.1L191.2,803.6L187.9,810.0L186.9,813.1L186.3,817.0Z" fill="#fbfae5" stroke="#000" stroke-width="1.16" stroke-linejoin="round"/>
<path d="M188.1,821.6L188.4,840.2L188.8,843.9L189.4,846.5L190.0,847.8L191.5,849.2L192.9,849.9L195.0,850.4L202.7,851.2L207.4,852.8L209.5,854.1L211.7,856.1L212.9,857.4L214.8,860.6L227.5,885.8L230.5,892.8L232.8,889.9L234.3,888.6L236.9,886.9L241.5,884.9L244.6,883.9L248.0,883.1L251.3,882.9L254.6,883.4L257.9,884.7L259.6,885.9L260.8,887.2L262.1,889.1L263.3,892.5L263.9,900.3L266.3,918.8L271.2,949.2L278.1,937.7L285.2,927.3L295.0,914.8L300.2,908.7L306.1,902.5L314.9,889.3L320.3,877.8L325.6,867.7L331.4,857.9L337.0,849.4L342.4,842.0L348.0,834.8L354.0,827.9L358.4,823.3L358.2,821.0L356.3,811.5L353.8,801.2L349.2,784.5L344.8,762.6L342.4,753.7L341.2,750.0L339.6,746.8L337.6,743.8L335.1,740.8L326.1,732.4L323.2,729.9L320.5,728.1L318.2,726.9L316.6,726.5L315.2,726.5L286.6,729.2L279.1,730.2L264.4,733.0L257.3,734.7L244.9,738.4L239.7,740.3L234.8,742.4L230.3,744.8L225.9,747.5L217.4,754.1L207.9,762.2L206.0,764.1L205.0,765.5L204.9,770.3L204.2,773.9L202.2,780.2L195.1,799.8L193.0,804.4L189.7,810.8L188.9,813.5L188.3,817.2Z" fill="#f8f6cd" stroke="#000" stroke-width="1.16" stroke-linejoin="round"/>
<path d="M276.0,731.2L282.3,730.8L288.4,730.5L294.4,730.4L300.0,730.5L305.4,730.7L310.6,731.1L315.4,731.8L320.0,733.0L324.2,734.7L328.1,736.7L331.7,739.2L335.0,742.0L338.0,745.1L340.6,748.6L343.0,752.5L345.0,757.0L346.6,762.1L347.9,767.9L349.0,773.9L350.0,780.0L350.8,786.5L351.5,793.3L352.2,799.8L353.0,805.0L354.3,808.4L355.9,810.4L357.2,812.3L357.9,815.0L357.8,818.9L357.2,823.5L356.0,828.3L354.4,833.3L352.1,838.4L349.3,843.6L346.1,849.0L342.7,854.3L339.0,859.8L334.9,865.5L330.9,870.9L327.5,875.4L325.1,878.8L323.2,881.4L321.5,883.6L319.4,885.9L316.7,888.4L313.8,890.8L310.7,893.1L307.7,895.2L305.0,897.1L302.6,898.9L299.7,900.6L296.0,902.2L290.5,903.9L283.8,905.7L277.3,907.1L272.7,908.0L270.8,908.4L270.6,908.5L270.9,907.8L270.3,905.7L268.7,901.3L266.8,895.2L264.3,889.1L261.0,884.7L256.5,882.8L250.9,882.4L245.2,882.5L240.0,882.0L235.6,880.8L231.5,879.5L227.7,877.9L224.0,876.0L220.5,873.9L217.2,871.5L214.0,868.9L211.0,866.0L208.0,862.8L205.1,859.4L202.4,855.7L200.0,852.0L198.0,848.1L196.4,844.1L195.0,840.0L194.0,836.0L193.3,831.9L192.9,827.6L192.8,823.6L193.0,820.0L193.7,817.5L194.8,815.7L196.0,813.6L197.2,810.0L198.2,804.2L199.2,796.9L200.2,789.4L201.5,782.9L203.0,777.8L204.7,773.4L206.6,769.3L208.8,765.4L211.2,761.4L213.8,757.6L216.7,754.1L219.8,750.8L223.2,747.9L226.9,745.2L230.7,742.8L234.4,740.6L237.7,738.6L240.9,736.9L244.4,735.4L248.9,734.1L254.9,733.1L261.9,732.3L269.1,731.7Z" fill="#f5f09f" stroke="#000" stroke-width="1.30" stroke-linejoin="round"/>
<path d="M284.0,739.2L290.8,739.3L297.9,739.6L305.1,740.4L311.7,742.1L317.9,745.0L323.8,748.7L329.1,753.2L333.5,758.1L336.8,763.6L339.3,769.7L341.0,776.2L342.3,782.9L343.0,790.1L343.0,797.7L342.6,805.3L342.3,812.1L342.0,818.1L341.6,823.6L341.1,828.6L340.4,833.3L339.6,837.5L338.6,841.1L337.3,844.7L335.7,848.5L333.6,852.8L331.2,857.3L328.5,861.8L325.2,866.0L321.4,869.9L317.1,873.7L312.5,877.1L307.7,880.0L302.5,882.5L297.0,884.5L291.5,886.1L286.7,887.0L282.6,887.1L278.9,886.6L275.6,885.7L272.7,884.7L270.4,883.7L268.7,882.5L266.9,881.2L264.5,880.0L261.4,879.0L257.8,878.1L253.8,877.0L249.3,875.4L243.8,873.1L237.6,870.4L231.4,867.3L226.0,864.0L221.7,860.2L218.0,856.1L214.8,851.9L212.0,848.0L209.7,844.8L208.0,842.0L206.6,839.1L205.2,835.5L203.7,831.0L202.3,825.9L201.2,820.5L200.8,815.0L201.1,809.4L201.9,803.5L203.3,797.6L205.2,791.7L207.7,785.8L210.8,779.8L214.3,773.9L218.3,768.4L222.9,763.1L228.0,758.0L233.3,753.3L238.7,749.4L244.0,746.3L249.5,743.9L255.0,742.0L260.6,740.6L266.2,739.6L271.9,739.2L277.8,739.1Z" fill="#ece535" stroke="#000" stroke-width="1.30" stroke-linejoin="round"/>
<path d="M284.0,747.6L290.6,747.9L297.5,748.6L304.2,749.9L310.2,752.3L315.4,755.9L320.2,760.5L324.3,765.7L327.7,771.3L330.3,777.3L332.1,783.9L333.4,790.8L334.3,797.5L334.8,804.1L334.9,810.7L334.4,817.3L333.5,823.8L332.2,830.3L330.4,836.8L328.0,843.1L324.8,848.6L320.6,853.5L315.5,857.8L310.0,861.5L304.4,864.6L298.8,867.1L293.1,868.9L287.1,870.1L281.0,870.5L274.6,870.1L267.9,868.9L261.2,867.1L254.8,864.6L248.5,861.4L242.4,857.4L236.6,853.0L231.4,848.6L226.8,844.2L222.8,839.6L219.4,834.7L216.8,829.6L215.2,824.1L214.4,818.2L214.3,812.2L214.7,806.3L215.5,800.4L216.7,794.4L218.6,788.5L221.2,782.9L224.7,777.4L229.0,772.0L233.8,766.9L238.7,762.5L243.8,758.8L249.3,755.6L254.9,752.9L260.6,750.8L266.3,749.2L272.0,748.2L277.9,747.6Z" fill="#fad043" stroke="#000" stroke-width="1.30" stroke-linejoin="round"/>
<path d="M284.0,759.6L289.9,760.2L296.1,761.2L302.1,762.9L307.3,765.4L311.5,768.9L315.2,773.2L318.1,778.0L320.4,783.0L321.9,788.1L322.6,793.5L322.8,799.0L322.6,804.8L322.0,811.0L321.0,817.6L319.5,823.9L317.5,829.6L315.0,834.5L312.1,838.8L308.6,842.6L304.4,845.7L299.3,848.2L293.3,850.2L287.1,851.5L281.0,852.2L275.0,852.2L269.0,851.5L263.1,850.3L257.7,848.6L252.7,846.5L248.0,843.9L243.8,840.7L240.2,836.9L237.1,832.2L234.6,826.7L232.7,820.8L231.4,815.0L230.8,809.1L230.9,803.1L231.6,797.2L232.9,791.7L234.9,786.8L237.7,782.2L240.9,778.0L244.6,774.2L248.8,770.7L253.5,767.4L258.5,764.7L263.5,762.5L268.4,761.0L273.5,760.0L278.6,759.5Z" fill="#f6975a" stroke="#000" stroke-width="1.30" stroke-linejoin="round"/>
<path d="M299.8,804.0L299.6,807.0L298.9,810.0L297.7,812.8L296.1,815.3L294.1,817.6L291.8,819.6L289.3,821.2L286.5,822.4L283.5,823.1L280.5,823.3L277.5,823.1L274.5,822.4L271.7,821.2L269.2,819.6L266.9,817.6L264.9,815.3L263.3,812.8L262.1,810.0L261.4,807.0L261.2,804.0L261.4,801.0L262.1,798.0L263.3,795.2L264.9,792.7L266.9,790.4L269.2,788.4L271.7,786.8L274.5,785.6L277.5,784.9L280.5,784.7L283.5,784.9L286.5,785.6L289.3,786.8L291.8,788.4L294.1,790.4L296.1,792.7L297.7,795.2L298.9,798.0L299.6,801.0Z" fill="#e03222" stroke="#000" stroke-width="1.45" stroke-linejoin="round"/>
<path d="M451.2,967.8L451.3,972.5L451.3,977.5L451.1,982.3L450.4,986.8L449.2,990.5L447.7,993.7L445.8,997.1L443.9,1001.4L441.7,1007.2L439.2,1014.1L436.8,1020.8L435.1,1026.2L434.4,1029.8L434.5,1032.2L434.5,1034.2L433.7,1036.4L431.9,1038.9L429.6,1041.3L426.7,1043.8L423.4,1046.6L419.6,1049.8L415.4,1053.2L410.7,1056.7L405.9,1059.7L400.9,1062.3L395.7,1064.5L390.2,1066.6L384.1,1068.5L377.3,1070.4L370.0,1072.1L362.4,1073.7L354.9,1075.0L347.2,1076.1L339.3,1076.9L331.9,1077.5L325.7,1078.0L321.3,1078.4L318.1,1078.8L315.5,1078.7L312.6,1078.0L309.3,1076.4L306.0,1074.1L302.7,1071.4L299.5,1068.5L296.3,1065.6L293.2,1062.4L290.3,1059.0L287.8,1055.3L285.9,1051.3L284.4,1047.1L283.2,1042.6L282.0,1037.8L280.8,1032.7L279.8,1027.2L278.8,1021.6L277.6,1016.0L276.2,1010.5L274.6,1004.9L273.0,999.4L271.7,994.1L270.5,988.8L269.3,983.5L268.5,978.8L268.1,975.1L268.4,972.8L269.3,971.6L270.3,970.9L271.2,970.1L272.0,969.1L272.7,968.3L273.5,967.6L274.2,966.8L275.0,965.9L275.7,965.1L276.4,964.3L277.2,963.4L277.9,962.6L278.6,961.7L279.3,960.9L280.0,960.0L280.7,959.2L281.4,958.3L282.1,957.4L282.8,956.6L283.5,955.7L284.2,954.8L284.8,953.9L285.5,953.1L286.2,952.2L286.8,951.3L287.5,950.4L288.1,949.5L288.8,948.6L289.4,947.7L290.1,946.8L290.7,945.9L291.3,945.0L291.9,944.1L292.6,943.2L293.2,942.3L293.8,941.3L294.4,940.4L295.0,939.5L295.6,938.6L296.2,937.6L296.7,936.7L297.3,935.7L297.9,934.8L298.5,933.9L299.0,932.9L299.6,931.9L300.1,931.0L300.7,930.0L301.2,929.1L301.8,928.1L302.3,927.1L302.8,926.2L303.4,925.2L303.9,924.2L304.4,923.2L304.9,922.2L305.4,921.3L305.9,920.3L306.4,919.3L306.9,918.3L307.4,917.3L307.9,916.3L308.4,915.3L308.9,914.3L309.3,913.2L309.8,912.2L310.3,911.2L310.7,910.2L311.1,909.1L311.6,908.1L312.1,907.1L312.7,906.2L313.3,905.3L313.9,904.4L314.5,903.5L315.2,902.5L315.8,901.6L316.4,900.7L317.0,899.8L317.6,898.9L318.2,897.9L318.8,897.0L319.4,896.1L320.0,895.2L320.6,894.2L321.2,893.3L321.9,892.4L322.6,891.6L323.4,890.8L324.2,890.0L325.0,889.2L325.7,888.4L326.5,887.5L327.2,886.7L328.0,885.9L328.7,885.1L329.5,884.2L330.2,883.4L330.9,882.5L331.7,881.7L332.4,880.9L333.1,880.0L333.8,879.2L334.5,878.3L335.2,877.4L335.9,876.6L336.6,875.7L337.3,874.9L338.0,874.0L338.7,873.1L339.3,872.2L340.0,871.4L340.7,870.5L341.3,869.6L342.0,868.7L342.6,867.8L343.3,866.9L343.9,866.0L344.6,865.1L345.2,864.2L345.8,863.3L346.5,862.4L347.1,861.5L347.7,860.5L348.3,859.6L348.9,858.7L349.5,857.8L350.1,856.8L350.7,855.9L351.3,855.0L351.8,854.0L352.4,853.1L353.0,852.1L353.5,851.2L354.1,850.2L354.7,849.3L355.2,848.3L355.8,847.4L356.3,846.4L356.8,845.4L357.4,844.5L357.9,843.5L358.4,842.5L358.9,841.5L359.4,840.5L360.0,839.5L360.5,838.6L361.0,837.6L361.5,836.6L362.0,835.6L362.4,834.6L362.9,833.4L363.3,832.2L363.8,831.2L364.3,830.5L365.0,830.3L365.9,830.3L366.7,830.7L367.3,831.4L367.8,832.5L368.2,834.0L368.4,835.6L368.5,837.2L368.2,838.1L367.7,838.6L367.2,839.9L367.3,843.0L368.1,848.7L369.4,856.4L370.8,864.6L372.0,872.2L373.0,879.3L374.0,886.3L374.8,892.7L375.5,897.9L375.8,901.5L375.9,904.0L376.0,905.8L376.7,907.2L377.9,908.4L379.6,909.2L381.5,909.6L383.7,909.5L386.4,908.9L389.6,907.9L392.7,906.5L395.3,904.9L397.2,902.7L398.6,900.0L399.9,897.4L401.2,895.5L402.7,894.4L404.4,893.7L405.8,893.7L407.0,894.4L407.5,896.0L407.6,898.2L407.8,901.3L408.9,905.1L411.2,910.3L414.4,916.7L417.7,923.1L420.5,928.4L422.5,932.3L424.0,935.5L425.6,938.1L427.8,940.1L431.1,941.3L435.1,941.8L439.1,942.2L442.4,943.0L444.9,944.3L446.9,945.7L448.5,947.7L449.7,950.3L450.5,953.9L451.0,958.3L451.1,963.1Z" fill="#ffffff" stroke="#000" stroke-width="1.16" stroke-linejoin="round"/>
<path d="M449.0,977.4L448.7,958.5L448.3,954.3L447.5,951.1L446.5,948.9L445.3,947.4L443.7,946.2L441.6,945.2L438.7,944.4L430.3,943.5L426.3,941.8L423.6,939.3L421.9,936.5L412.3,917.7L406.8,906.0L405.5,901.4L405.1,896.0L403.9,896.4L402.9,897.1L401.9,898.6L399.2,903.8L397.1,906.4L393.9,908.5L390.5,910.0L387.1,911.1L384.2,911.8L381.1,911.8L379.1,911.5L376.9,910.5L374.6,908.1L373.8,906.0L373.2,898.2L370.7,879.6L365.0,843.3L365.1,839.2L365.7,837.4L366.2,836.9L365.9,834.5L365.5,833.0L363.0,838.6L357.8,848.5L352.6,857.1L347.7,864.6L342.5,871.9L336.3,879.8L330.5,886.6L323.7,893.9L314.6,907.4L309.5,918.3L304.9,927.3L299.9,936.0L294.5,944.5L288.7,952.7L282.5,960.6L276.0,968.3L272.7,971.8L270.6,973.7L270.4,975.1L270.8,978.5L271.6,983.1L273.9,993.6L279.9,1015.5L284.2,1037.3L286.6,1046.4L288.0,1050.5L289.8,1054.2L292.1,1057.6L294.9,1060.8L304.2,1069.6L307.4,1072.2L310.5,1074.4L313.4,1075.8L315.8,1076.4L318.0,1076.5L346.9,1073.8L354.5,1072.7L369.5,1069.9L376.7,1068.1L389.4,1064.4L394.9,1062.4L399.9,1060.2L404.8,1057.7L409.4,1054.8L418.2,1048.0L428.0,1039.7L430.1,1037.4L431.6,1035.3L432.2,1033.8L432.1,1029.8L432.8,1025.8L434.7,1020.0L441.7,1000.6L443.7,996.2L447.1,989.7L448.2,986.3L448.8,982.1Z" fill="#fbfae5" stroke="#000" stroke-width="1.16" stroke-linejoin="round"/>
<path d="M446.9,977.4L446.6,958.6L446.2,954.6L445.5,951.7L444.7,950.0L443.8,949.0L440.8,947.1L438.4,946.5L430.6,945.7L426.3,944.2L424.8,943.4L421.8,940.4L420.0,937.4L407.2,912.1L404.7,906.3L403.6,902.4L403.3,900.3L400.5,905.5L397.7,908.6L394.5,910.6L391.3,912.0L387.8,913.1L383.8,913.9L381.6,914.0L378.8,913.5L376.0,912.4L374.8,911.5L373.6,910.3L372.7,909.0L371.7,906.2L371.1,898.4L368.7,879.9L362.9,843.4L355.6,856.3L347.5,868.6L342.8,874.9L337.2,882.0L331.3,888.8L325.3,895.2L316.4,908.5L310.9,920.2L306.2,929.2L300.5,939.0L294.9,947.5L289.7,954.8L283.4,962.8L277.5,969.7L274.1,973.4L272.6,974.6L272.8,978.2L274.8,987.9L277.3,998.2L281.9,1014.9L286.3,1036.8L288.7,1045.8L290.0,1049.7L291.6,1053.1L293.8,1056.3L296.4,1059.4L305.6,1068.0L308.6,1070.6L311.5,1072.6L314.1,1073.8L316.1,1074.3L317.9,1074.4L346.7,1071.7L354.2,1070.7L369.0,1067.8L376.2,1066.1L388.7,1062.4L394.1,1060.4L399.0,1058.3L403.7,1055.9L408.3,1053.0L416.8,1046.4L426.5,1038.1L428.5,1036.1L429.8,1034.3L430.1,1033.4L430.1,1029.0L430.8,1025.4L432.7,1019.3L439.8,999.8L441.8,995.3L445.1,988.9L446.1,985.8L446.7,981.9Z" fill="#fbfae5" stroke="#000" stroke-width="1.16" stroke-linejoin="round"/>
<path d="M444.9,977.3L444.6,958.7L444.2,955.0L443.6,952.4L443.0,951.1L441.5,949.7L440.1,949.0L438.0,948.5L430.3,947.7L425.6,946.1L423.5,944.8L421.3,942.8L420.1,941.5L418.2,938.3L405.5,913.1L402.5,906.1L400.2,909.0L398.7,910.3L396.1,912.0L391.5,914.0L388.4,915.0L385.0,915.8L381.7,916.0L378.4,915.5L375.1,914.2L373.4,913.0L372.2,911.7L370.9,909.8L369.7,906.4L369.1,898.6L366.7,880.1L361.8,849.7L354.9,861.2L347.8,871.6L338.0,884.1L332.8,890.2L326.9,896.4L318.1,909.6L312.7,921.1L307.4,931.2L301.6,941.0L296.0,949.5L290.6,956.9L285.0,964.1L279.0,971.0L274.6,975.6L274.8,977.9L276.7,987.4L279.2,997.7L283.8,1014.4L288.2,1036.3L290.6,1045.2L291.8,1048.9L293.4,1052.1L295.4,1055.1L297.9,1058.1L306.9,1066.5L309.8,1069.0L312.5,1070.8L314.8,1072.0L316.4,1072.4L317.8,1072.4L346.4,1069.7L353.9,1068.7L368.6,1065.9L375.7,1064.2L388.1,1060.5L393.3,1058.6L398.2,1056.5L402.7,1054.1L407.1,1051.4L415.6,1044.8L425.1,1036.7L427.0,1034.8L428.0,1033.4L428.1,1028.6L428.8,1025.0L430.8,1018.7L437.9,999.1L440.0,994.5L443.3,988.1L444.1,985.4L444.7,981.7Z" fill="#f8f6cd" stroke="#000" stroke-width="1.16" stroke-linejoin="round"/>
<path d="M357.0,1067.7L350.7,1068.1L344.6,1068.4L338.6,1068.5L333.0,1068.4L327.6,1068.2L322.4,1067.8L317.6,1067.1L313.0,1065.9L308.8,1064.2L304.9,1062.2L301.3,1059.7L298.0,1056.9L295.0,1053.8L292.4,1050.3L290.0,1046.4L288.0,1041.9L286.4,1036.8L285.1,1031.0L284.0,1025.0L283.0,1018.9L282.2,1012.4L281.5,1005.6L280.8,999.1L280.0,993.9L278.7,990.5L277.1,988.5L275.8,986.6L275.1,983.9L275.2,980.0L275.8,975.4L277.0,970.6L278.6,965.6L280.9,960.5L283.7,955.3L286.9,949.9L290.3,944.6L294.0,939.1L298.1,933.4L302.1,928.0L305.5,923.5L307.9,920.1L309.8,917.5L311.5,915.3L313.6,913.0L316.3,910.5L319.2,908.1L322.3,905.8L325.3,903.7L328.0,901.8L330.4,900.0L333.3,898.3L337.0,896.7L342.5,895.0L349.2,893.2L355.7,891.8L360.3,890.9L362.2,890.5L362.4,890.4L362.1,891.1L362.7,893.2L364.3,897.6L366.2,903.7L368.7,909.8L372.0,914.2L376.5,916.1L382.1,916.5L387.8,916.4L393.0,916.9L397.4,918.1L401.5,919.4L405.3,921.0L409.0,922.9L412.5,925.0L415.8,927.4L419.0,930.0L422.0,932.9L425.0,936.1L427.9,939.5L430.6,943.2L433.0,946.9L435.0,950.8L436.6,954.8L438.0,958.9L439.0,962.9L439.7,967.0L440.1,971.3L440.2,975.3L440.0,978.9L439.3,981.4L438.2,983.2L437.0,985.3L435.8,988.9L434.8,994.7L433.8,1002.0L432.8,1009.5L431.5,1016.0L430.0,1021.1L428.3,1025.5L426.4,1029.6L424.2,1033.5L421.8,1037.5L419.2,1041.3L416.3,1044.8L413.2,1048.1L409.8,1051.0L406.1,1053.7L402.3,1056.1L398.6,1058.3L395.3,1060.3L392.1,1062.0L388.6,1063.5L384.1,1064.8L378.1,1065.8L371.1,1066.6L363.9,1067.2Z" fill="#f5f09f" stroke="#000" stroke-width="1.30" stroke-linejoin="round"/>
<path d="M349.0,1059.7L342.2,1059.6L335.1,1059.3L327.9,1058.5L321.3,1056.8L315.1,1053.9L309.2,1050.2L303.9,1045.7L299.5,1040.8L296.2,1035.3L293.7,1029.2L292.0,1022.7L290.7,1016.0L290.0,1008.8L290.0,1001.2L290.4,993.6L290.7,986.8L291.0,980.8L291.4,975.3L291.9,970.3L292.6,965.6L293.4,961.4L294.4,957.8L295.7,954.2L297.3,950.4L299.4,946.1L301.8,941.6L304.5,937.1L307.8,932.9L311.6,929.0L315.9,925.2L320.5,921.8L325.3,918.9L330.5,916.4L336.0,914.4L341.5,912.8L346.3,911.9L350.4,911.8L354.1,912.3L357.4,913.2L360.3,914.2L362.6,915.2L364.3,916.4L366.1,917.7L368.5,918.9L371.6,919.9L375.2,920.8L379.2,921.9L383.7,923.5L389.2,925.8L395.4,928.5L401.6,931.6L407.0,934.9L411.3,938.7L415.0,942.8L418.2,947.0L421.0,950.9L423.3,954.1L425.0,956.9L426.4,959.8L427.8,963.4L429.3,967.9L430.7,973.0L431.8,978.4L432.2,983.9L431.9,989.5L431.1,995.4L429.7,1001.3L427.8,1007.2L425.3,1013.1L422.2,1019.1L418.7,1025.0L414.7,1030.5L410.1,1035.8L405.0,1040.9L399.7,1045.6L394.3,1049.5L389.0,1052.6L383.5,1055.0L378.0,1056.9L372.4,1058.3L366.8,1059.3L361.1,1059.7L355.2,1059.8Z" fill="#ece535" stroke="#000" stroke-width="1.30" stroke-linejoin="round"/>
<path d="M349.0,1051.3L342.4,1051.0L335.5,1050.3L328.8,1049.0L322.8,1046.6L317.6,1043.0L312.8,1038.4L308.7,1033.2L305.3,1027.6L302.7,1021.6L300.9,1015.0L299.6,1008.1L298.7,1001.4L298.2,994.8L298.1,988.2L298.6,981.6L299.5,975.1L300.8,968.6L302.6,962.1L305.0,955.8L308.2,950.3L312.4,945.4L317.5,941.1L323.0,937.4L328.6,934.3L334.2,931.8L339.9,930.0L345.9,928.8L352.0,928.4L358.4,928.8L365.1,930.0L371.8,931.8L378.2,934.3L384.5,937.5L390.6,941.5L396.4,945.9L401.6,950.3L406.2,954.7L410.2,959.3L413.6,964.2L416.2,969.3L417.8,974.8L418.6,980.7L418.7,986.7L418.3,992.6L417.5,998.5L416.3,1004.5L414.4,1010.4L411.8,1016.0L408.3,1021.5L404.0,1026.9L399.2,1032.0L394.3,1036.4L389.2,1040.1L383.7,1043.3L378.1,1046.0L372.4,1048.1L366.7,1049.7L361.0,1050.7L355.1,1051.3Z" fill="#fad043" stroke="#000" stroke-width="1.30" stroke-linejoin="round"/>
<path d="M349.0,1039.3L343.1,1038.7L336.9,1037.7L330.9,1036.0L325.7,1033.5L321.5,1030.0L317.8,1025.7L314.9,1020.9L312.6,1015.9L311.1,1010.8L310.4,1005.5L310.2,999.9L310.4,994.1L311.0,987.9L312.0,981.3L313.5,975.0L315.5,969.3L318.0,964.4L320.9,960.1L324.4,956.3L328.6,953.2L333.7,950.7L339.7,948.7L345.9,947.4L352.0,946.7L358.0,946.7L364.0,947.4L369.9,948.6L375.3,950.3L380.3,952.4L385.0,955.0L389.2,958.2L392.8,962.0L395.9,966.7L398.4,972.2L400.3,978.1L401.6,983.9L402.2,989.8L402.1,995.8L401.4,1001.8L400.1,1007.2L398.1,1012.1L395.3,1016.7L392.1,1020.9L388.4,1024.7L384.2,1028.2L379.5,1031.5L374.5,1034.2L369.5,1036.4L364.6,1037.9L359.5,1038.9L354.4,1039.4Z" fill="#f6975a" stroke="#000" stroke-width="1.30" stroke-linejoin="round"/>
<path d="M333.2,994.9L333.4,991.9L334.1,988.9L335.3,986.1L336.9,983.6L338.9,981.3L341.2,979.3L343.7,977.7L346.5,976.5L349.5,975.8L352.5,975.6L355.5,975.8L358.5,976.5L361.3,977.7L363.8,979.3L366.1,981.3L368.1,983.6L369.7,986.1L370.9,988.9L371.6,991.9L371.8,994.9L371.6,997.9L370.9,1000.9L369.7,1003.7L368.1,1006.2L366.1,1008.5L363.8,1010.5L361.3,1012.1L358.5,1013.3L355.5,1014.0L352.5,1014.2L349.5,1014.0L346.5,1013.3L343.7,1012.1L341.2,1010.5L338.9,1008.5L336.9,1006.2L335.3,1003.7L334.1,1000.9L333.4,997.9Z" fill="#e03222" stroke="#000" stroke-width="1.45" stroke-linejoin="round"/>
</g>
<text x="316.2" y="635.0" font-size="20.3" text-anchor="middle">t=4.171 ms</text>
<rect x="66.5" y="649.6" width="500.0" height="500.0" fill="none" stroke="#111" stroke-width="1.2"/>
<line x1="116.5" y1="1149.7" x2="116.5" y2="1144.7" stroke="#111" stroke-width="1.1"/>
<line x1="116.5" y1="649.6" x2="116.5" y2="654.6" stroke="#111" stroke-width="1.1"/>
<text x="116.7" y="1170.2" font-size="17.6" text-anchor="middle">40</text>
<text x="106.4" y="1170.2" font-size="17.6" text-anchor="end">–</text>
<line x1="66.5" y1="1099.7" x2="71.5" y2="1099.7" stroke="#111" stroke-width="1.1"/>
<line x1="566.5" y1="1099.7" x2="561.5" y2="1099.7" stroke="#111" stroke-width="1.1"/>
<text x="62.9" y="1106.1" font-size="17.6" text-anchor="end">40</text>
<text x="42.5" y="1106.1" font-size="17.6" text-anchor="end">–</text>
<line x1="216.5" y1="1149.7" x2="216.5" y2="1144.7" stroke="#111" stroke-width="1.1"/>
<line x1="216.5" y1="649.6" x2="216.5" y2="654.6" stroke="#111" stroke-width="1.1"/>
<text x="216.7" y="1170.2" font-size="17.6" text-anchor="middle">20</text>
<text x="206.4" y="1170.2" font-size="17.6" text-anchor="end">–</text>
<line x1="66.5" y1="999.6" x2="71.5" y2="999.6" stroke="#111" stroke-width="1.1"/>
<line x1="566.5" y1="999.6" x2="561.5" y2="999.6" stroke="#111" stroke-width="1.1"/>
<text x="62.9" y="1006.0" font-size="17.6" text-anchor="end">20</text>
<text x="42.5" y="1006.0" font-size="17.6" text-anchor="end">–</text>
<line x1="316.5" y1="1149.7" x2="316.5" y2="1144.7" stroke="#111" stroke-width="1.1"/>
<line x1="316.5" y1="649.6" x2="316.5" y2="654.6" stroke="#111" stroke-width="1.1"/>
<text x="316.7" y="1170.2" font-size="17.6" text-anchor="middle">0</text>
<line x1="66.5" y1="899.6" x2="71.5" y2="899.6" stroke="#111" stroke-width="1.1"/>
<line x1="566.5" y1="899.6" x2="561.5" y2="899.6" stroke="#111" stroke-width="1.1"/>
<text x="62.9" y="906.0" font-size="17.6" text-anchor="end">0</text>
<line x1="416.5" y1="1149.7" x2="416.5" y2="1144.7" stroke="#111" stroke-width="1.1"/>
<line x1="416.5" y1="649.6" x2="416.5" y2="654.6" stroke="#111" stroke-width="1.1"/>
<text x="416.7" y="1170.2" font-size="17.6" text-anchor="middle">20</text>
<line x1="66.5" y1="799.6" x2="71.5" y2="799.6" stroke="#111" stroke-width="1.1"/>
<line x1="566.5" y1="799.6" x2="561.5" y2="799.6" stroke="#111" stroke-width="1.1"/>
<text x="62.9" y="806.0" font-size="17.6" text-anchor="end">20</text>
<line x1="516.5" y1="1149.7" x2="516.5" y2="1144.7" stroke="#111" stroke-width="1.1"/>
<line x1="516.5" y1="649.6" x2="516.5" y2="654.6" stroke="#111" stroke-width="1.1"/>
<text x="516.7" y="1170.2" font-size="17.6" text-anchor="middle">40</text>
<line x1="66.5" y1="699.6" x2="71.5" y2="699.6" stroke="#111" stroke-width="1.1"/>
<line x1="566.5" y1="699.6" x2="561.5" y2="699.6" stroke="#111" stroke-width="1.1"/>
<text x="62.9" y="706.0" font-size="17.6" text-anchor="end">40</text>
<text x="316.1" y="1190.2" font-size="20.3" text-anchor="middle">X (km)</text>
<text transform="translate(21.9,900.2) rotate(-90)" font-size="20.3" text-anchor="middle">Y (km)</text>
<rect x="586.1" y="649.65" width="25.4" height="8.21" fill="#df2f1f"/>
<rect x="586.1" y="657.46" width="25.4" height="8.21" fill="#e03120"/>
<rect x="586.1" y="665.27" width="25.4" height="8.21" fill="#e13421"/>
<rect x="586.1" y="673.09" width="25.4" height="8.21" fill="#e54129"/>
<rect x="586.1" y="680.90" width="25.4" height="8.21" fill="#e95030"/>
<rect x="586.1" y="688.71" width="25.4" height="8.21" fill="#ed603a"/>
<rect x="586.1" y="696.52" width="25.4" height="8.21" fill="#f07146"/>
<rect x="586.1" y="704.34" width="25.4" height="8.21" fill="#f48f58"/>
<rect x="586.1" y="712.15" width="25.4" height="8.21" fill="#f6a560"/>
<rect x="586.1" y="719.96" width="25.4" height="8.21" fill="#f7ab5e"/>
<rect x="586.1" y="727.77" width="25.4" height="8.21" fill="#f8b159"/>
<rect x="586.1" y="735.59" width="25.4" height="8.21" fill="#f9b753"/>
<rect x="586.1" y="743.40" width="25.4" height="8.21" fill="#fabd4d"/>
<rect x="586.1" y="751.21" width="25.4" height="8.21" fill="#fbc248"/>
<rect x="586.1" y="759.02" width="25.4" height="8.21" fill="#fbc841"/>
<rect x="586.1" y="766.84" width="25.4" height="8.21" fill="#fcce39"/>
<rect x="586.1" y="774.65" width="25.4" height="8.21" fill="#fcd331"/>
<rect x="586.1" y="782.46" width="25.4" height="8.21" fill="#fcda29"/>
<rect x="586.1" y="790.27" width="25.4" height="8.21" fill="#f9dd27"/>
<rect x="586.1" y="798.09" width="25.4" height="8.21" fill="#f5e026"/>
<rect x="586.1" y="805.90" width="25.4" height="8.21" fill="#f3e128"/>
<rect x="586.1" y="813.71" width="25.4" height="8.21" fill="#f1e12a"/>
<rect x="586.1" y="821.52" width="25.4" height="8.21" fill="#f0e22c"/>
<rect x="586.1" y="829.34" width="25.4" height="8.21" fill="#eee22e"/>
<rect x="586.1" y="837.15" width="25.4" height="8.21" fill="#eee230"/>
<rect x="586.1" y="844.96" width="25.4" height="8.21" fill="#ede332"/>
<rect x="586.1" y="852.77" width="25.4" height="8.21" fill="#ece334"/>
<rect x="586.1" y="860.59" width="25.4" height="8.21" fill="#ebe336"/>
<rect x="586.1" y="868.40" width="25.4" height="8.21" fill="#ebe339"/>
<rect x="586.1" y="876.21" width="25.4" height="8.21" fill="#ebe43e"/>
<rect x="586.1" y="884.02" width="25.4" height="8.21" fill="#ece442"/>
<rect x="586.1" y="891.84" width="25.4" height="8.21" fill="#ece547"/>
<rect x="586.1" y="899.65" width="25.4" height="8.21" fill="#ece54c"/>
<rect x="586.1" y="907.46" width="25.4" height="8.21" fill="#ede653"/>
<rect x="586.1" y="915.27" width="25.4" height="8.21" fill="#eee759"/>
<rect x="586.1" y="923.09" width="25.4" height="8.21" fill="#efe85f"/>
<rect x="586.1" y="930.90" width="25.4" height="8.21" fill="#efe966"/>
<rect x="586.1" y="938.71" width="25.4" height="8.21" fill="#f0ea6e"/>
<rect x="586.1" y="946.52" width="25.4" height="8.21" fill="#f1eb75"/>
<rect x="586.1" y="954.34" width="25.4" height="8.21" fill="#f2eb7c"/>
<rect x="586.1" y="962.15" width="25.4" height="8.21" fill="#f2ec84"/>
<rect x="586.1" y="969.96" width="25.4" height="8.21" fill="#f3ed8c"/>
<rect x="586.1" y="977.77" width="25.4" height="8.21" fill="#f4ee93"/>
<rect x="586.1" y="985.59" width="25.4" height="8.21" fill="#f5ef9b"/>
<rect x="586.1" y="993.40" width="25.4" height="8.21" fill="#f5f0a2"/>
<rect x="586.1" y="1001.21" width="25.4" height="8.21" fill="#f6f1a9"/>
<rect x="586.1" y="1009.02" width="25.4" height="8.21" fill="#f6f2af"/>
<rect x="586.1" y="1016.84" width="25.4" height="8.21" fill="#f7f3b6"/>
<rect x="586.1" y="1024.65" width="25.4" height="8.21" fill="#f7f4bc"/>
<rect x="586.1" y="1032.46" width="25.4" height="8.21" fill="#f8f5c1"/>
<rect x="586.1" y="1040.28" width="25.4" height="8.21" fill="#f8f6c6"/>
<rect x="586.1" y="1048.09" width="25.4" height="8.21" fill="#f9f6cc"/>
<rect x="586.1" y="1055.90" width="25.4" height="8.21" fill="#f9f7d1"/>
<rect x="586.1" y="1063.71" width="25.4" height="8.21" fill="#faf8d6"/>
<rect x="586.1" y="1071.53" width="25.4" height="8.21" fill="#faf9db"/>
<rect x="586.1" y="1079.34" width="25.4" height="8.21" fill="#fbfae0"/>
<rect x="586.1" y="1087.15" width="25.4" height="8.21" fill="#fcfae5"/>
<rect x="586.1" y="1094.96" width="25.4" height="8.21" fill="#fcfbe9"/>
<rect x="586.1" y="1102.78" width="25.4" height="8.21" fill="#fdfced"/>
<rect x="586.1" y="1110.59" width="25.4" height="8.21" fill="#fdfdf2"/>
<rect x="586.1" y="1118.40" width="25.4" height="8.21" fill="#fefef6"/>
<rect x="586.1" y="1126.21" width="25.4" height="8.21" fill="#ffffff"/>
<rect x="586.1" y="1134.03" width="25.4" height="8.21" fill="#ffffff"/>
<rect x="586.1" y="1141.84" width="25.4" height="8.21" fill="#ffffff"/>
<rect x="586.1" y="649.6" width="25.4" height="500.0" fill="none" stroke="#111" stroke-width="1.2"/>
<line x1="586.1" y1="674.2" x2="591.1" y2="674.2" stroke="#111" stroke-width="1.3"/>
<line x1="611.5" y1="674.2" x2="606.5" y2="674.2" stroke="#111" stroke-width="1.3"/>
<text x="616.5" y="678.8" font-size="12.5" text-anchor="start">1e14.5</text>
<line x1="586.1" y1="738.2" x2="591.1" y2="738.2" stroke="#111" stroke-width="1.3"/>
<line x1="611.5" y1="738.2" x2="606.5" y2="738.2" stroke="#111" stroke-width="1.3"/>
<text x="616.5" y="742.8" font-size="12.5" text-anchor="start">1e14</text>
<line x1="586.1" y1="802.2" x2="591.1" y2="802.2" stroke="#111" stroke-width="1.3"/>
<line x1="611.5" y1="802.2" x2="606.5" y2="802.2" stroke="#111" stroke-width="1.3"/>
<text x="616.5" y="806.8" font-size="12.5" text-anchor="start">1e13.5</text>
<line x1="586.1" y1="866.2" x2="591.1" y2="866.2" stroke="#111" stroke-width="1.3"/>
<line x1="611.5" y1="866.2" x2="606.5" y2="866.2" stroke="#111" stroke-width="1.3"/>
<text x="616.5" y="870.8" font-size="12.5" text-anchor="start">1e13</text>
<line x1="586.1" y1="930.2" x2="591.1" y2="930.2" stroke="#111" stroke-width="1.3"/>
<line x1="611.5" y1="930.2" x2="606.5" y2="930.2" stroke="#111" stroke-width="1.3"/>
<text x="616.5" y="934.8" font-size="12.5" text-anchor="start">1e12.5</text>
<line x1="586.1" y1="994.2" x2="591.1" y2="994.2" stroke="#111" stroke-width="1.3"/>
<line x1="611.5" y1="994.2" x2="606.5" y2="994.2" stroke="#111" stroke-width="1.3"/>
<text x="616.5" y="998.8" font-size="12.5" text-anchor="start">1e12</text>
<line x1="586.1" y1="1058.2" x2="591.1" y2="1058.2" stroke="#111" stroke-width="1.3"/>
<line x1="611.5" y1="1058.2" x2="606.5" y2="1058.2" stroke="#111" stroke-width="1.3"/>
<text x="616.5" y="1062.8" font-size="12.5" text-anchor="start">1e11.5</text>
<line x1="586.1" y1="1122.2" x2="591.1" y2="1122.2" stroke="#111" stroke-width="1.3"/>
<line x1="611.5" y1="1122.2" x2="606.5" y2="1122.2" stroke="#111" stroke-width="1.3"/>
<text x="616.5" y="1126.8" font-size="12.5" text-anchor="start">1e11</text>
<text x="622.1" y="624.4" font-size="17.5" text-anchor="start">ρ</text>
<text x="622.0" y="649.6" font-size="17.8" text-anchor="start">g/cm<tspan font-size="13.8" dx="0.6" dy="-9">3</tspan></text>
<g clip-path="url(#clip3)">
<path d="M1056.7,670.2L1054.7,668.7L1051.8,667.9L1048.0,668.0L1042.7,669.5L1036.4,672.1L1030.4,674.6L1025.3,676.9L1020.6,679.2L1015.9,681.2L1011.0,682.4L1006.1,683.4L1001.3,685.5L996.7,689.6L992.2,694.8L988.1,699.4L984.4,702.6L981.1,705.3L977.9,708.1L975.1,711.7L972.5,715.5L969.2,718.4L964.8,720.0L959.7,720.7L954.6,721.3L949.4,722.0L944.2,722.5L940.0,722.7L937.7,722.4L936.3,721.8L934.0,721.8L929.8,722.8L924.8,724.5L920.0,726.5L916.1,728.8L912.5,731.6L908.3,734.7L903.1,738.2L897.3,742.0L892.0,746.4L887.4,751.4L883.2,756.8L879.2,762.7L875.4,769.1L871.9,775.9L868.7,782.5L866.0,788.6L863.6,794.4L861.7,800.0L860.2,805.3L859.0,810.3L858.2,815.0L857.7,819.2L857.5,823.1L857.6,827.5L858.0,833.0L858.6,839.0L859.3,845.0L860.0,850.6L860.7,856.2L861.7,862.5L863.0,869.9L864.6,877.9L866.3,885.9L868.1,893.7L870.0,901.4L872.2,909.2L874.8,917.2L877.6,925.2L880.3,932.5L882.9,939.0L885.3,944.9L887.3,950.0L888.7,954.2L889.6,957.6L890.5,960.5L891.1,962.6L891.7,964.0L893.1,965.8L896.1,968.1L899.9,970.7L903.6,973.6L906.8,977.1L909.8,980.9L912.8,984.1L915.9,986.4L919.0,988.2L922.0,989.4L924.8,990.2L927.5,990.6L929.9,990.0L931.8,988.0L933.5,985.1L935.1,982.8L936.4,981.4L937.7,980.4L940.4,980.2L946.0,981.0L953.1,982.6L958.8,984.1L962.0,985.4L964.0,986.8L965.3,988.1L966.5,989.4L967.0,990.7L966.6,992.0L964.8,993.1L961.9,994.3L958.8,996.0L955.1,998.9L951.1,1002.4L948.3,1005.1L947.1,1006.6L947.1,1007.3L948.3,1007.8L951.3,1007.8L955.5,1007.5L958.8,1007.8L960.6,1009.0L961.6,1010.9L961.4,1013.0L959.8,1015.4L957.0,1018.2L953.5,1020.9L949.1,1023.7L944.0,1026.5L939.1,1028.8L934.6,1030.6L930.3,1031.9L926.0,1032.7L921.5,1032.8L917.0,1032.3L912.8,1031.4L908.8,1029.5L905.0,1027.2L902.3,1026.1L900.9,1027.1L900.6,1029.2L901.0,1031.4L902.0,1033.2L903.7,1035.0L906.3,1036.6L910.0,1038.2L914.6,1039.7L919.4,1040.6L924.4,1040.7L929.8,1040.3L935.1,1039.9L940.8,1039.6L946.6,1039.3L950.9,1039.3L952.6,1039.7L952.9,1040.5L953.5,1041.9L955.0,1044.2L956.7,1047.2L958.8,1049.8L961.4,1051.6L964.2,1053.1L966.6,1055.0L968.3,1057.5L969.5,1060.4L970.6,1064.2L971.6,1069.2L972.4,1075.1L973.2,1081.3L974.3,1087.7L975.3,1094.3L975.8,1101.0L975.2,1108.0L974.0,1114.9L973.2,1120.7L973.1,1124.8L973.4,1127.8L974.5,1129.9L976.5,1131.1L979.2,1131.4L983.0,1130.9L988.3,1129.3L994.6,1126.8L1000.6,1124.3L1005.7,1122.0L1010.4,1119.7L1015.1,1117.7L1020.0,1116.5L1024.9,1115.5L1029.7,1113.4L1034.3,1109.3L1038.8,1104.1L1042.9,1099.5L1046.6,1096.3L1049.9,1093.6L1053.1,1090.8L1055.9,1087.2L1058.5,1083.4L1061.8,1080.5L1066.2,1078.9L1071.3,1078.2L1076.4,1077.6L1081.6,1076.9L1086.8,1076.4L1091.0,1076.2L1093.3,1076.5L1094.7,1077.1L1097.0,1077.1L1101.2,1076.1L1106.2,1074.4L1111.0,1072.4L1114.9,1070.1L1118.5,1067.3L1122.7,1064.2L1127.9,1060.7L1133.7,1056.9L1139.0,1052.5L1143.6,1047.5L1147.8,1042.1L1151.8,1036.2L1155.6,1029.8L1159.1,1023.0L1162.3,1016.4L1165.0,1010.3L1167.4,1004.5L1169.3,998.9L1170.8,993.6L1172.0,988.6L1172.8,983.9L1173.3,979.7L1173.5,975.8L1173.4,971.4L1173.0,965.9L1172.4,959.9L1171.7,953.9L1171.0,948.3L1170.3,942.7L1169.3,936.4L1168.0,929.0L1166.4,921.0L1164.7,913.0L1162.9,905.2L1161.0,897.5L1158.8,889.7L1156.2,881.7L1153.4,873.7L1150.7,866.4L1148.1,859.9L1145.7,854.0L1143.7,848.9L1142.3,844.7L1141.4,841.3L1140.5,838.4L1139.9,836.3L1139.3,834.9L1137.9,833.1L1134.9,830.8L1131.1,828.2L1127.4,825.3L1124.2,821.8L1121.2,818.0L1118.2,814.8L1115.1,812.5L1112.0,810.7L1109.0,809.5L1106.2,808.7L1103.5,808.3L1101.1,808.9L1099.2,810.9L1097.5,813.8L1095.9,816.1L1094.6,817.5L1093.3,818.5L1090.6,818.7L1085.0,817.9L1077.9,816.3L1072.2,814.8L1069.0,813.5L1067.0,812.1L1065.7,810.8L1064.5,809.5L1064.0,808.2L1064.4,806.9L1066.2,805.8L1069.1,804.6L1072.2,802.9L1075.9,800.0L1079.9,796.5L1082.7,793.8L1083.9,792.3L1083.9,791.6L1082.7,791.1L1079.7,791.1L1075.5,791.4L1072.2,791.1L1070.4,789.9L1069.4,788.0L1069.6,785.9L1071.2,783.5L1074.0,780.7L1077.5,778.0L1081.9,775.2L1087.0,772.4L1091.9,770.1L1096.4,768.3L1100.7,767.0L1105.0,766.2L1109.5,766.1L1114.0,766.6L1118.2,767.5L1122.2,769.4L1126.0,771.7L1128.7,772.8L1130.1,771.8L1130.4,769.7L1130.0,767.5L1129.0,765.7L1127.3,763.9L1124.7,762.3L1121.0,760.7L1116.4,759.2L1111.6,758.3L1106.6,758.2L1101.2,758.6L1095.9,759.0L1090.2,759.3L1084.4,759.6L1080.1,759.6L1078.4,759.2L1078.1,758.4L1077.5,757.0L1076.0,754.7L1074.3,751.7L1072.2,749.1L1069.6,747.3L1066.8,745.8L1064.4,743.9L1062.7,741.4L1061.5,738.5L1060.4,734.7L1059.4,729.7L1058.6,723.8L1057.8,717.6L1056.7,711.2L1055.7,704.6L1055.2,697.9L1055.8,690.9L1057.0,683.9L1057.8,678.2L1058.0,674.5L1057.8,672.0Z" fill="#ffffff" stroke="#000" stroke-width="1.30" stroke-linejoin="round"/>
<path d="M1037.7,697.9L1037.4,695.5L1036.8,693.2L1034.8,691.4L1031.0,690.3L1025.8,689.7L1020.2,689.9L1014.2,690.6L1007.7,692.0L1001.3,695.0L995.3,700.6L989.4,707.8L983.8,714.0L979.3,718.2L975.0,721.5L969.2,724.2L960.0,726.6L949.2,728.6L940.0,730.0L934.3,730.4L930.3,730.3L925.9,731.2L920.2,734.0L914.0,737.8L908.3,741.7L903.3,745.3L898.7,749.1L894.3,753.4L889.9,758.4L885.6,763.9L881.5,769.7L877.7,775.8L874.2,782.1L871.0,788.4L867.9,794.3L865.0,800.2L862.8,807.0L861.4,815.1L860.7,824.0L860.5,833.3L860.8,843.0L861.6,853.1L862.8,862.5L864.4,870.7L866.4,878.3L868.7,885.9L871.2,893.9L874.0,901.9L876.8,909.2L879.5,915.5L882.2,921.1L885.0,926.7L888.0,932.8L891.2,938.9L894.3,944.2L897.3,948.4L900.2,951.9L903.0,955.0L905.4,957.9L907.6,960.5L910.0,963.0L912.7,965.3L915.7,967.5L919.4,969.7L923.9,972.0L929.0,974.3L935.1,976.3L942.8,977.8L951.4,978.9L958.8,980.2L964.3,981.6L968.7,983.2L971.9,985.4L973.7,988.6L974.4,992.4L974.5,996.0L974.2,999.1L973.3,1002.0L971.9,1005.1L970.2,1008.5L968.0,1012.1L965.3,1015.6L961.7,1018.8L957.4,1021.9L953.5,1024.8L949.6,1027.9L946.0,1030.8L944.3,1032.7L945.2,1033.1L948.1,1032.6L952.2,1031.4L958.5,1029.4L966.2,1026.8L971.9,1024.8L973.9,1023.7L974.1,1023.2L974.5,1023.5L976.1,1024.6L977.9,1026.4L979.8,1028.8L981.6,1032.0L983.4,1035.7L985.0,1039.3L986.7,1042.4L988.3,1045.4L989.0,1048.5L988.1,1051.9L986.3,1055.4L985.0,1059.0L984.5,1063.1L984.4,1067.4L985.0,1070.8L986.8,1072.6L989.4,1073.5L991.6,1074.7L993.3,1076.5L994.7,1078.5L995.5,1081.3L995.4,1085.4L994.8,1090.3L994.2,1094.4L993.7,1097.1L993.3,1099.0L993.3,1101.0L993.6,1103.4L994.2,1105.7L996.2,1107.5L1000.0,1108.6L1005.2,1109.2L1010.8,1109.0L1016.8,1108.3L1023.3,1106.9L1029.7,1103.9L1035.7,1098.3L1041.6,1091.1L1047.2,1084.9L1051.7,1080.7L1056.0,1077.4L1061.8,1074.7L1071.0,1072.3L1081.8,1070.3L1091.0,1068.9L1096.7,1068.5L1100.7,1068.6L1105.1,1067.7L1110.8,1064.9L1117.0,1061.1L1122.7,1057.2L1127.7,1053.6L1132.3,1049.8L1136.7,1045.5L1141.1,1040.5L1145.4,1035.0L1149.5,1029.2L1153.3,1023.1L1156.8,1016.8L1160.0,1010.5L1163.1,1004.6L1166.0,998.7L1168.2,991.9L1169.6,983.8L1170.3,974.9L1170.5,965.6L1170.2,955.9L1169.4,945.8L1168.2,936.4L1166.6,928.2L1164.6,920.6L1162.3,913.0L1159.8,905.0L1157.0,897.0L1154.2,889.7L1151.5,883.4L1148.8,877.8L1146.0,872.2L1143.0,866.1L1139.8,860.0L1136.7,854.7L1133.7,850.5L1130.8,847.0L1128.0,843.9L1125.6,841.0L1123.4,838.4L1121.0,835.9L1118.3,833.6L1115.3,831.4L1111.6,829.2L1107.1,826.9L1102.0,824.6L1095.9,822.6L1088.2,821.1L1079.6,820.0L1072.2,818.7L1066.7,817.3L1062.3,815.7L1059.1,813.5L1057.3,810.3L1056.6,806.5L1056.5,802.9L1056.8,799.8L1057.7,796.9L1059.1,793.8L1060.8,790.4L1063.0,786.8L1065.7,783.3L1069.3,780.1L1073.6,777.0L1077.5,774.1L1081.4,771.0L1085.0,768.1L1086.7,766.2L1085.8,765.8L1082.9,766.3L1078.8,767.5L1072.5,769.5L1064.8,772.1L1059.1,774.1L1057.1,775.2L1056.9,775.7L1056.5,775.4L1054.9,774.3L1053.1,772.5L1051.2,770.1L1049.4,766.9L1047.6,763.2L1046.0,759.6L1044.3,756.5L1042.7,753.5L1042.0,750.4L1042.9,747.0L1044.7,743.5L1046.0,739.9L1046.5,735.8L1046.6,731.5L1046.0,728.1L1044.2,726.3L1041.6,725.4L1039.4,724.2L1037.7,722.4L1036.3,720.4L1035.5,717.6L1035.6,713.5L1036.2,708.6L1036.8,704.5L1037.3,701.8L1037.7,699.9Z" fill="#fbfae5" stroke="#000" stroke-width="1.30" stroke-linejoin="round"/>
<path d="M1056.7,785.5L1052.1,784.5L1045.3,784.5L1039.2,782.5L1034.3,777.0L1030.1,769.5L1027.5,762.1L1027.6,754.8L1029.3,747.5L1030.4,741.7L1030.2,738.2L1029.3,736.1L1027.5,734.4L1024.0,733.3L1019.5,732.5L1015.9,730.0L1015.0,723.8L1015.1,715.9L1012.9,710.3L1006.0,708.8L996.8,709.6L989.6,711.1L986.7,712.9L985.8,715.4L984.2,718.3L980.5,721.8L976.2,725.7L972.5,728.9L970.8,730.9L969.7,732.3L966.7,733.5L960.1,734.7L951.6,735.8L943.4,737.0L936.0,738.3L928.8,739.7L922.4,741.7L917.2,744.4L912.7,747.6L908.3,751.0L903.5,754.2L898.8,757.6L894.3,761.5L890.2,766.1L886.3,771.3L882.7,776.7L879.3,782.2L876.2,788.0L873.3,794.2L870.5,801.0L868.0,808.1L866.0,815.0L864.8,820.9L864.2,826.5L864.0,833.3L864.3,842.4L865.0,852.8L866.3,862.5L868.2,870.7L870.7,878.3L873.3,885.9L875.9,893.9L878.6,901.9L881.5,909.2L884.4,915.5L887.5,921.3L890.8,926.7L894.5,932.0L898.4,937.0L902.5,941.9L906.8,946.8L911.2,951.6L915.4,955.9L918.8,959.6L921.9,962.9L925.9,966.0L931.7,969.2L938.5,972.3L945.0,975.0L951.1,977.1L956.9,978.9L962.0,981.0L966.1,983.7L969.4,986.7L972.0,990.0L974.0,993.8L975.3,997.9L976.0,1002.0L975.1,1006.2L973.7,1010.2L974.3,1013.4L978.9,1014.4L985.7,1014.4L991.8,1016.4L996.7,1021.9L1000.9,1029.4L1003.5,1036.8L1003.4,1044.1L1001.7,1051.4L1000.6,1057.2L1000.8,1060.7L1001.7,1062.8L1003.5,1064.5L1007.0,1065.6L1011.5,1066.4L1015.1,1068.9L1016.0,1075.1L1015.9,1083.0L1018.1,1088.6L1025.0,1090.1L1034.2,1089.3L1041.4,1087.8L1044.3,1086.0L1045.2,1083.5L1046.8,1080.6L1050.5,1077.1L1054.8,1073.2L1058.5,1070.0L1060.2,1068.0L1061.3,1066.6L1064.3,1065.4L1070.9,1064.2L1079.4,1063.1L1087.6,1061.9L1095.0,1060.6L1102.2,1059.2L1108.6,1057.2L1113.8,1054.5L1118.3,1051.3L1122.7,1047.9L1127.5,1044.7L1132.2,1041.3L1136.7,1037.4L1140.8,1032.8L1144.7,1027.6L1148.3,1022.2L1151.7,1016.7L1154.8,1010.9L1157.7,1004.7L1160.5,997.9L1163.0,990.8L1165.0,983.9L1166.2,978.0L1166.8,972.4L1167.0,965.6L1166.7,956.5L1166.0,946.1L1164.7,936.4L1162.8,928.2L1160.3,920.6L1157.7,913.0L1155.1,905.0L1152.4,897.0L1149.5,889.7L1146.6,883.4L1143.5,877.6L1140.2,872.2L1136.5,866.9L1132.6,861.9L1128.5,857.0L1124.2,852.1L1119.8,847.3L1115.6,843.0L1112.2,839.3L1109.1,836.0L1105.1,832.9L1099.3,829.7L1092.5,826.6L1086.0,823.9L1079.9,821.8L1074.1,820.0L1069.0,817.9L1064.9,815.2L1061.6,812.2L1059.0,808.9L1057.0,805.1L1055.7,801.0L1055.0,796.9L1055.9,792.7L1057.3,788.7Z" fill="#f8f6cd" stroke="#000" stroke-width="1.30" stroke-linejoin="round"/>
<path d="M1048.0,816.1L1046.9,814.7L1045.6,813.1L1042.1,811.7L1034.4,810.7L1024.5,809.8L1017.3,808.8L1015.8,807.2L1016.9,805.5L1015.9,804.4L1009.9,804.8L1001.9,805.9L995.4,805.9L992.2,804.2L990.6,801.3L989.6,797.1L989.1,791.4L989.2,784.4L989.6,776.7L990.6,767.8L992.0,758.3L992.5,750.4L991.7,745.1L990.1,741.4L988.1,738.8L986.0,737.3L983.7,737.0L980.8,737.3L977.9,738.2L974.5,739.7L969.2,741.7L960.4,744.4L949.7,747.5L940.0,750.4L932.6,752.6L926.1,754.5L920.0,756.9L913.8,759.9L907.8,763.4L902.5,767.4L898.2,772.0L894.5,777.1L890.8,782.5L886.8,788.4L882.7,794.6L879.2,800.0L876.4,803.4L874.1,806.0L872.2,810.0L870.7,816.6L869.7,824.6L869.3,833.3L869.8,842.8L870.9,853.0L872.2,862.5L873.5,870.8L875.1,878.4L877.0,885.9L879.4,893.6L882.2,901.1L885.0,908.0L887.7,914.2L890.4,919.8L893.0,925.0L895.1,929.4L897.1,933.4L900.0,937.6L904.5,942.6L909.9,947.9L915.3,952.9L920.4,957.4L925.5,961.5L930.6,965.2L935.7,968.4L940.9,971.1L946.0,973.3L951.0,974.7L956.0,975.6L961.3,976.4L967.8,977.4L974.6,978.5L979.7,979.5L981.8,980.5L982.3,981.6L983.0,982.8L984.1,984.2L985.4,985.8L988.9,987.2L996.6,988.2L1006.5,989.1L1013.7,990.1L1015.2,991.7L1014.1,993.4L1015.1,994.5L1021.1,994.1L1029.1,993.0L1035.6,993.0L1038.8,994.7L1040.4,997.6L1041.4,1001.8L1041.9,1007.5L1041.8,1014.5L1041.4,1022.2L1040.4,1031.1L1039.0,1040.6L1038.5,1048.5L1039.3,1053.8L1040.9,1057.5L1042.9,1060.1L1045.0,1061.6L1047.3,1061.9L1050.2,1061.6L1053.1,1060.7L1056.5,1059.2L1061.8,1057.2L1070.6,1054.5L1081.3,1051.4L1091.0,1048.5L1098.4,1046.3L1104.9,1044.4L1111.0,1042.0L1117.2,1039.0L1123.2,1035.5L1128.5,1031.5L1132.8,1026.9L1136.5,1021.8L1140.2,1016.4L1144.2,1010.5L1148.3,1004.3L1151.8,998.9L1154.6,995.5L1156.9,992.9L1158.8,988.9L1160.3,982.3L1161.3,974.3L1161.7,965.6L1161.2,956.1L1160.1,945.9L1158.8,936.4L1157.5,928.1L1155.9,920.5L1154.0,913.0L1151.6,905.3L1148.8,897.8L1146.0,890.9L1143.3,884.7L1140.6,879.1L1138.0,873.9L1135.9,869.5L1133.9,865.5L1131.0,861.3L1126.5,856.3L1121.1,851.0L1115.7,846.0L1110.6,841.5L1105.5,837.4L1100.4,833.7L1095.3,830.5L1090.1,827.8L1085.0,825.6L1080.0,824.2L1075.0,823.3L1069.7,822.5L1063.2,821.5L1056.4,820.4L1051.3,819.4L1049.2,818.4L1048.7,817.3Z" fill="#f5f09f" stroke="#000" stroke-width="1.30" stroke-linejoin="round"/>
<clipPath id="p4clip4"><path d="M1048.0,816.1L1046.9,814.7L1045.6,813.1L1042.1,811.7L1034.4,810.7L1024.5,809.8L1017.3,808.8L1015.8,807.2L1016.9,805.5L1015.9,804.4L1009.9,804.8L1001.9,805.9L995.4,805.9L992.2,804.2L990.6,801.3L989.6,797.1L989.1,791.4L989.2,784.4L989.6,776.7L990.6,767.8L992.0,758.3L992.5,750.4L991.7,745.1L990.1,741.4L988.1,738.8L986.0,737.3L983.7,737.0L980.8,737.3L977.9,738.2L974.5,739.7L969.2,741.7L960.4,744.4L949.7,747.5L940.0,750.4L932.6,752.6L926.1,754.5L920.0,756.9L913.8,759.9L907.8,763.4L902.5,767.4L898.2,772.0L894.5,777.1L890.8,782.5L886.8,788.4L882.7,794.6L879.2,800.0L876.4,803.4L874.1,806.0L872.2,810.0L870.7,816.6L869.7,824.6L869.3,833.3L869.8,842.8L870.9,853.0L872.2,862.5L873.5,870.8L875.1,878.4L877.0,885.9L879.4,893.6L882.2,901.1L885.0,908.0L887.7,914.2L890.4,919.8L893.0,925.0L895.1,929.4L897.1,933.4L900.0,937.6L904.5,942.6L909.9,947.9L915.3,952.9L920.4,957.4L925.5,961.5L930.6,965.2L935.7,968.4L940.9,971.1L946.0,973.3L951.0,974.7L956.0,975.6L961.3,976.4L967.8,977.4L974.6,978.5L979.7,979.5L981.8,980.5L982.3,981.6L983.0,982.8L984.1,984.2L985.4,985.8L988.9,987.2L996.6,988.2L1006.5,989.1L1013.7,990.1L1015.2,991.7L1014.1,993.4L1015.1,994.5L1021.1,994.1L1029.1,993.0L1035.6,993.0L1038.8,994.7L1040.4,997.6L1041.4,1001.8L1041.9,1007.5L1041.8,1014.5L1041.4,1022.2L1040.4,1031.1L1039.0,1040.6L1038.5,1048.5L1039.3,1053.8L1040.9,1057.5L1042.9,1060.1L1045.0,1061.6L1047.3,1061.9L1050.2,1061.6L1053.1,1060.7L1056.5,1059.2L1061.8,1057.2L1070.6,1054.5L1081.3,1051.4L1091.0,1048.5L1098.4,1046.3L1104.9,1044.4L1111.0,1042.0L1117.2,1039.0L1123.2,1035.5L1128.5,1031.5L1132.8,1026.9L1136.5,1021.8L1140.2,1016.4L1144.2,1010.5L1148.3,1004.3L1151.8,998.9L1154.6,995.5L1156.9,992.9L1158.8,988.9L1160.3,982.3L1161.3,974.3L1161.7,965.6L1161.2,956.1L1160.1,945.9L1158.8,936.4L1157.5,928.1L1155.9,920.5L1154.0,913.0L1151.6,905.3L1148.8,897.8L1146.0,890.9L1143.3,884.7L1140.6,879.1L1138.0,873.9L1135.9,869.5L1133.9,865.5L1131.0,861.3L1126.5,856.3L1121.1,851.0L1115.7,846.0L1110.6,841.5L1105.5,837.4L1100.4,833.7L1095.3,830.5L1090.1,827.8L1085.0,825.6L1080.0,824.2L1075.0,823.3L1069.7,822.5L1063.2,821.5L1056.4,820.4L1051.3,819.4L1049.2,818.4L1048.7,817.3Z"/></clipPath>
<g clip-path="url(#p4clip4)">
<rect x="930.6" y="773.7" width="47.5" height="58.3" fill="#f1eb8c"/>
<rect x="1052.9" y="966.9" width="47.5" height="58.3" fill="#f1eb8c"/>
</g>
<path d="M1048.0,816.1L1046.9,814.7L1045.6,813.1L1042.1,811.7L1034.4,810.7L1024.5,809.8L1017.3,808.8L1015.8,807.2L1016.9,805.5L1015.9,804.4L1009.9,804.8L1001.9,805.9L995.4,805.9L992.2,804.2L990.6,801.3L989.6,797.1L989.1,791.4L989.2,784.4L989.6,776.7L990.6,767.8L992.0,758.3L992.5,750.4L991.7,745.1L990.1,741.4L988.1,738.8L986.0,737.3L983.7,737.0L980.8,737.3L977.9,738.2L974.5,739.7L969.2,741.7L960.4,744.4L949.7,747.5L940.0,750.4L932.6,752.6L926.1,754.5L920.0,756.9L913.8,759.9L907.8,763.4L902.5,767.4L898.2,772.0L894.5,777.1L890.8,782.5L886.8,788.4L882.7,794.6L879.2,800.0L876.4,803.4L874.1,806.0L872.2,810.0L870.7,816.6L869.7,824.6L869.3,833.3L869.8,842.8L870.9,853.0L872.2,862.5L873.5,870.8L875.1,878.4L877.0,885.9L879.4,893.6L882.2,901.1L885.0,908.0L887.7,914.2L890.4,919.8L893.0,925.0L895.1,929.4L897.1,933.4L900.0,937.6L904.5,942.6L909.9,947.9L915.3,952.9L920.4,957.4L925.5,961.5L930.6,965.2L935.7,968.4L940.9,971.1L946.0,973.3L951.0,974.7L956.0,975.6L961.3,976.4L967.8,977.4L974.6,978.5L979.7,979.5L981.8,980.5L982.3,981.6L983.0,982.8L984.1,984.2L985.4,985.8L988.9,987.2L996.6,988.2L1006.5,989.1L1013.7,990.1L1015.2,991.7L1014.1,993.4L1015.1,994.5L1021.1,994.1L1029.1,993.0L1035.6,993.0L1038.8,994.7L1040.4,997.6L1041.4,1001.8L1041.9,1007.5L1041.8,1014.5L1041.4,1022.2L1040.4,1031.1L1039.0,1040.6L1038.5,1048.5L1039.3,1053.8L1040.9,1057.5L1042.9,1060.1L1045.0,1061.6L1047.3,1061.9L1050.2,1061.6L1053.1,1060.7L1056.5,1059.2L1061.8,1057.2L1070.6,1054.5L1081.3,1051.4L1091.0,1048.5L1098.4,1046.3L1104.9,1044.4L1111.0,1042.0L1117.2,1039.0L1123.2,1035.5L1128.5,1031.5L1132.8,1026.9L1136.5,1021.8L1140.2,1016.4L1144.2,1010.5L1148.3,1004.3L1151.8,998.9L1154.6,995.5L1156.9,992.9L1158.8,988.9L1160.3,982.3L1161.3,974.3L1161.7,965.6L1161.2,956.1L1160.1,945.9L1158.8,936.4L1157.5,928.1L1155.9,920.5L1154.0,913.0L1151.6,905.3L1148.8,897.8L1146.0,890.9L1143.3,884.7L1140.6,879.1L1138.0,873.9L1135.9,869.5L1133.9,865.5L1131.0,861.3L1126.5,856.3L1121.1,851.0L1115.7,846.0L1110.6,841.5L1105.5,837.4L1100.4,833.7L1095.3,830.5L1090.1,827.8L1085.0,825.6L1080.0,824.2L1075.0,823.3L1069.7,822.5L1063.2,821.5L1056.4,820.4L1051.3,819.4L1049.2,818.4L1048.7,817.3Z" fill="none" stroke="#000" stroke-width="1.30" stroke-linejoin="round"/>
<path d="M1017.1,820.9L1012.1,822.0L1006.7,823.6L1001.7,825.2L997.5,827.0L993.8,828.9L990.0,829.8L986.0,829.1L982.0,827.4L978.4,826.3L975.2,826.6L972.4,827.4L970.2,827.5L969.0,826.2L968.4,824.2L967.9,821.7L967.5,819.0L967.2,815.7L966.7,811.7L965.7,806.1L964.5,799.6L963.2,794.2L961.9,790.4L960.5,787.7L958.5,786.0L956.0,785.7L953.1,786.5L949.2,787.2L944.0,787.2L937.8,787.1L931.7,787.8L925.7,789.7L919.6,792.4L914.2,795.4L909.8,798.6L906.0,802.2L902.5,805.9L898.9,809.9L895.6,814.1L893.0,818.0L891.4,821.1L890.5,823.8L889.7,827.5L888.7,832.5L887.7,838.4L887.3,845.0L887.7,852.4L888.6,860.4L889.7,868.3L890.9,875.6L892.4,882.8L894.0,890.0L895.7,897.3L897.6,904.7L900.0,912.0L902.9,919.4L906.3,926.7L910.2,933.5L914.9,939.8L920.2,945.6L925.5,950.9L930.4,955.8L935.4,960.2L940.9,964.1L947.3,967.4L954.3,970.1L961.3,972.3L968.1,974.1L974.9,975.4L981.7,976.4L988.8,977.0L995.9,977.2L1002.1,977.4L1006.5,977.8L1010.0,978.2L1013.9,978.0L1018.9,976.9L1024.3,975.3L1029.3,973.7L1033.5,971.9L1037.2,970.0L1041.0,969.1L1045.0,969.8L1049.0,971.5L1052.6,972.6L1055.8,972.3L1058.6,971.5L1060.8,971.4L1062.0,972.7L1062.6,974.7L1063.1,977.2L1063.5,979.9L1063.8,983.2L1064.3,987.2L1065.3,992.8L1066.5,999.3L1067.8,1004.7L1069.1,1008.5L1070.5,1011.2L1072.5,1012.9L1075.0,1013.2L1077.9,1012.4L1081.8,1011.7L1087.0,1011.7L1093.2,1011.8L1099.3,1011.1L1105.3,1009.2L1111.4,1006.5L1116.8,1003.5L1121.2,1000.3L1125.0,996.7L1128.5,993.0L1132.1,989.0L1135.4,984.8L1138.0,980.9L1139.6,977.8L1140.5,975.1L1141.3,971.4L1142.3,966.4L1143.3,960.5L1143.7,953.9L1143.3,946.5L1142.4,938.5L1141.3,930.6L1140.1,923.3L1138.6,916.1L1137.0,908.9L1135.3,901.6L1133.4,894.2L1131.0,886.9L1128.1,879.5L1124.7,872.2L1120.8,865.4L1116.1,859.1L1110.8,853.3L1105.5,848.0L1100.6,843.1L1095.6,838.7L1090.1,834.8L1083.7,831.5L1076.7,828.8L1069.7,826.6L1062.9,824.8L1056.1,823.5L1049.3,822.5L1042.2,821.9L1035.1,821.7L1028.9,821.5L1024.5,821.1L1021.0,820.7Z" fill="#ece535" stroke="#000" stroke-width="1.30" stroke-linejoin="round"/>
<path d="M940.9,943.7L937.0,939.6L933.6,935.4L930.6,930.4L927.7,924.0L925.2,916.9L923.5,910.0L922.9,903.8L923.1,897.9L923.8,891.7L924.7,884.8L926.0,877.6L928.1,871.3L931.3,866.2L935.4,861.9L939.8,858.1L944.7,854.6L949.9,851.6L954.4,849.4L957.4,848.7L959.8,848.8L963.1,847.9L968.1,845.0L974.1,841.1L980.6,837.7L987.3,835.3L994.5,833.5L1002.5,831.9L1011.7,830.4L1021.8,829.2L1031.7,829.0L1041.5,830.2L1051.2,832.4L1059.5,834.8L1065.5,837.2L1070.2,839.8L1074.8,842.9L1080.1,846.7L1085.4,850.9L1090.1,855.2L1094.0,859.3L1097.4,863.5L1100.4,868.5L1103.3,874.9L1105.8,882.0L1107.5,888.9L1108.1,895.1L1107.9,901.0L1107.2,907.2L1106.3,914.1L1105.0,921.3L1102.9,927.6L1099.7,932.7L1095.6,937.0L1091.2,940.8L1086.3,944.3L1081.1,947.3L1076.6,949.5L1073.6,950.2L1071.2,950.1L1067.9,951.0L1062.9,953.9L1056.9,957.8L1050.4,961.2L1043.7,963.6L1036.5,965.4L1028.5,967.0L1019.3,968.5L1009.2,969.7L999.3,969.9L989.5,968.7L979.8,966.5L971.5,964.1L965.5,961.7L960.8,959.1L956.2,956.0L950.9,952.2L945.6,948.0Z" fill="#fad043" stroke="#000" stroke-width="1.30" stroke-linejoin="round"/>
<path d="M976.6,949.8L971.8,946.6L966.1,942.7L961.3,938.6L957.9,934.4L955.3,930.0L953.1,925.3L951.0,920.4L949.2,915.2L948.0,910.0L947.6,905.0L947.9,900.0L948.6,894.6L949.5,888.0L950.9,881.0L952.9,875.6L955.9,873.4L959.5,872.7L963.1,871.3L966.3,867.9L969.4,863.8L973.4,859.6L978.4,855.5L984.2,851.5L990.9,847.9L998.9,844.8L1007.8,842.1L1017.1,840.6L1027.4,840.7L1038.0,842.0L1046.3,843.6L1050.3,845.0L1051.9,846.8L1054.4,849.1L1059.2,852.3L1064.9,856.2L1069.7,860.3L1073.1,864.5L1075.7,868.9L1077.9,873.6L1080.0,878.5L1081.8,883.7L1083.0,888.9L1083.4,893.9L1083.1,898.9L1082.4,904.3L1081.5,910.9L1080.1,917.9L1078.1,923.3L1075.1,925.5L1071.5,926.2L1067.9,927.6L1064.7,931.0L1061.6,935.1L1057.6,939.3L1052.6,943.4L1046.8,947.4L1040.1,951.0L1032.1,954.1L1023.2,956.8L1013.9,958.3L1003.6,958.2L993.0,956.9L984.7,955.3L980.7,953.9L979.1,952.1Z" fill="#f6975a" stroke="#000" stroke-width="1.30" stroke-linejoin="round"/>
<path d="M1001.1,874.2L1004.4,871.3L1009.1,867.9L1014.2,865.4L1019.8,864.2L1025.9,864.0L1031.7,864.7L1037.1,866.5L1042.2,869.3L1046.3,872.7L1049.2,876.9L1051.1,881.6L1052.1,885.9L1052.0,889.5L1050.9,892.6L1049.2,894.6L1046.8,894.7L1043.7,893.7L1040.5,893.2L1037.0,893.7L1033.4,894.6L1030.2,896.1L1027.8,898.3L1025.8,900.9L1024.4,903.4L1023.3,905.6L1022.8,907.5L1023.0,909.2L1024.5,910.1L1026.8,910.6L1028.8,912.1L1030.4,915.6L1031.7,920.0L1031.7,923.8L1029.9,926.2L1026.8,927.9L1023.0,929.6L1018.7,931.7L1013.7,933.7L1008.4,934.7L1002.5,934.4L996.3,933.1L990.9,931.1L986.6,928.4L983.1,924.9L980.6,920.9L979.1,915.8L978.6,910.1L979.2,906.3L981.3,905.7L984.5,906.8L987.9,907.7L991.3,907.7L994.8,907.3L998.2,906.3L1001.5,904.4L1004.6,901.8L1006.9,899.0L1008.2,896.1L1008.7,893.0L1008.4,890.2L1006.9,888.0L1004.5,886.2L1002.5,884.4L1001.1,882.4L1000.1,880.4L999.6,878.6L999.3,877.2L999.6,875.9Z" fill="#e03222" stroke="#000" stroke-width="1.45" stroke-linejoin="round"/>
<path d="M988.0,892.0L987.2,893.3L986.2,894.2L985.1,894.6L984.2,894.4L983.5,893.8L983.1,892.7L983.2,891.4L983.6,890.0L984.4,888.7L985.4,887.8L986.5,887.4L987.4,887.6L988.1,888.2L988.5,889.3L988.4,890.6Z" fill="#e03222" stroke="#000" stroke-width="1.30" stroke-linejoin="round"/>
<path d="M1047.0,908.7L1046.2,910.0L1045.2,910.9L1044.1,911.3L1043.2,911.1L1042.5,910.5L1042.1,909.4L1042.2,908.1L1042.6,906.7L1043.4,905.4L1044.4,904.5L1045.5,904.1L1046.4,904.3L1047.1,904.9L1047.5,906.0L1047.4,907.3Z" fill="#e03222" stroke="#000" stroke-width="1.30" stroke-linejoin="round"/>
<path d="M1000.4,899.0L1000.2,899.6L999.6,900.0L999.0,900.0L998.4,899.6L998.2,899.0L998.4,898.4L999.0,898.0L999.6,898.0L1000.2,898.4Z" fill="#000" stroke="#000" stroke-width="0.72" stroke-linejoin="round"/>
<path d="M1032.8,899.0L1032.6,899.6L1032.0,900.0L1031.4,900.0L1030.8,899.6L1030.6,899.0L1030.8,898.4L1031.4,898.0L1032.0,898.0L1032.6,898.4Z" fill="#000" stroke="#000" stroke-width="0.72" stroke-linejoin="round"/>
<path d="M1052.4,806.1L1051.9,806.6L1050.9,806.7L1049.7,806.5L1048.5,806.0L1047.4,805.2L1046.6,804.3L1046.3,803.4L1046.4,802.6L1046.9,802.2L1047.9,802.1L1049.1,802.3L1050.3,802.8L1051.4,803.6L1052.2,804.5L1052.5,805.4Z" fill="#f8f6cd" stroke="#000" stroke-width="1.30" stroke-linejoin="round"/>
<path d="M984.6,996.3L984.1,996.7L983.1,996.8L981.9,996.6L980.7,996.1L979.6,995.3L978.8,994.4L978.5,993.5L978.6,992.8L979.1,992.3L980.1,992.2L981.3,992.4L982.5,992.9L983.6,993.7L984.4,994.6L984.7,995.5Z" fill="#f8f6cd" stroke="#000" stroke-width="1.30" stroke-linejoin="round"/>
</g>
<text x="1015.2" y="635.0" font-size="20.3" text-anchor="middle">t=7.614 ms</text>
<rect x="765.5" y="649.6" width="500.0" height="500.0" fill="none" stroke="#111" stroke-width="1.2"/>
<line x1="815.5" y1="1149.7" x2="815.5" y2="1144.7" stroke="#111" stroke-width="1.1"/>
<line x1="815.5" y1="649.6" x2="815.5" y2="654.6" stroke="#111" stroke-width="1.1"/>
<text x="815.7" y="1170.2" font-size="17.6" text-anchor="middle">40</text>
<text x="805.4" y="1170.2" font-size="17.6" text-anchor="end">–</text>
<line x1="765.5" y1="1099.7" x2="770.5" y2="1099.7" stroke="#111" stroke-width="1.1"/>
<line x1="1265.5" y1="1099.7" x2="1260.5" y2="1099.7" stroke="#111" stroke-width="1.1"/>
<text x="761.9" y="1106.1" font-size="17.6" text-anchor="end">40</text>
<text x="741.5" y="1106.1" font-size="17.6" text-anchor="end">–</text>
<line x1="915.5" y1="1149.7" x2="915.5" y2="1144.7" stroke="#111" stroke-width="1.1"/>
<line x1="915.5" y1="649.6" x2="915.5" y2="654.6" stroke="#111" stroke-width="1.1"/>
<text x="915.7" y="1170.2" font-size="17.6" text-anchor="middle">20</text>
<text x="905.4" y="1170.2" font-size="17.6" text-anchor="end">–</text>
<line x1="765.5" y1="999.6" x2="770.5" y2="999.6" stroke="#111" stroke-width="1.1"/>
<line x1="1265.5" y1="999.6" x2="1260.5" y2="999.6" stroke="#111" stroke-width="1.1"/>
<text x="761.9" y="1006.0" font-size="17.6" text-anchor="end">20</text>
<text x="741.5" y="1006.0" font-size="17.6" text-anchor="end">–</text>
<line x1="1015.5" y1="1149.7" x2="1015.5" y2="1144.7" stroke="#111" stroke-width="1.1"/>
<line x1="1015.5" y1="649.6" x2="1015.5" y2="654.6" stroke="#111" stroke-width="1.1"/>
<text x="1015.7" y="1170.2" font-size="17.6" text-anchor="middle">0</text>
<line x1="765.5" y1="899.6" x2="770.5" y2="899.6" stroke="#111" stroke-width="1.1"/>
<line x1="1265.5" y1="899.6" x2="1260.5" y2="899.6" stroke="#111" stroke-width="1.1"/>
<text x="761.9" y="906.0" font-size="17.6" text-anchor="end">0</text>
<line x1="1115.5" y1="1149.7" x2="1115.5" y2="1144.7" stroke="#111" stroke-width="1.1"/>
<line x1="1115.5" y1="649.6" x2="1115.5" y2="654.6" stroke="#111" stroke-width="1.1"/>
<text x="1115.7" y="1170.2" font-size="17.6" text-anchor="middle">20</text>
<line x1="765.5" y1="799.6" x2="770.5" y2="799.6" stroke="#111" stroke-width="1.1"/>
<line x1="1265.5" y1="799.6" x2="1260.5" y2="799.6" stroke="#111" stroke-width="1.1"/>
<text x="761.9" y="806.0" font-size="17.6" text-anchor="end">20</text>
<line x1="1215.5" y1="1149.7" x2="1215.5" y2="1144.7" stroke="#111" stroke-width="1.1"/>
<line x1="1215.5" y1="649.6" x2="1215.5" y2="654.6" stroke="#111" stroke-width="1.1"/>
<text x="1215.7" y="1170.2" font-size="17.6" text-anchor="middle">40</text>
<line x1="765.5" y1="699.6" x2="770.5" y2="699.6" stroke="#111" stroke-width="1.1"/>
<line x1="1265.5" y1="699.6" x2="1260.5" y2="699.6" stroke="#111" stroke-width="1.1"/>
<text x="761.9" y="706.0" font-size="17.6" text-anchor="end">40</text>
<text x="1015.1" y="1190.2" font-size="20.3" text-anchor="middle">X (km)</text>
<text transform="translate(720.9,900.2) rotate(-90)" font-size="20.3" text-anchor="middle">Y (km)</text>
<rect x="1285.1" y="649.65" width="25.4" height="8.21" fill="#df2f1f"/>
<rect x="1285.1" y="657.46" width="25.4" height="8.21" fill="#e03120"/>
<rect x="1285.1" y="665.27" width="25.4" height="8.21" fill="#e13421"/>
<rect x="1285.1" y="673.09" width="25.4" height="8.21" fill="#e54129"/>
<rect x="1285.1" y="680.90" width="25.4" height="8.21" fill="#e95030"/>
<rect x="1285.1" y="688.71" width="25.4" height="8.21" fill="#ed603a"/>
<rect x="1285.1" y="696.52" width="25.4" height="8.21" fill="#f07146"/>
<rect x="1285.1" y="704.34" width="25.4" height="8.21" fill="#f48f58"/>
<rect x="1285.1" y="712.15" width="25.4" height="8.21" fill="#f6a560"/>
<rect x="1285.1" y="719.96" width="25.4" height="8.21" fill="#f7ab5e"/>
<rect x="1285.1" y="727.77" width="25.4" height="8.21" fill="#f8b159"/>
<rect x="1285.1" y="735.59" width="25.4" height="8.21" fill="#f9b753"/>
<rect x="1285.1" y="743.40" width="25.4" height="8.21" fill="#fabd4d"/>
<rect x="1285.1" y="751.21" width="25.4" height="8.21" fill="#fbc248"/>
<rect x="1285.1" y="759.02" width="25.4" height="8.21" fill="#fbc841"/>
<rect x="1285.1" y="766.84" width="25.4" height="8.21" fill="#fcce39"/>
<rect x="1285.1" y="774.65" width="25.4" height="8.21" fill="#fcd331"/>
<rect x="1285.1" y="782.46" width="25.4" height="8.21" fill="#fcda29"/>
<rect x="1285.1" y="790.27" width="25.4" height="8.21" fill="#f9dd27"/>
<rect x="1285.1" y="798.09" width="25.4" height="8.21" fill="#f5e026"/>
<rect x="1285.1" y="805.90" width="25.4" height="8.21" fill="#f3e128"/>
<rect x="1285.1" y="813.71" width="25.4" height="8.21" fill="#f1e12a"/>
<rect x="1285.1" y="821.52" width="25.4" height="8.21" fill="#f0e22c"/>
<rect x="1285.1" y="829.34" width="25.4" height="8.21" fill="#eee22e"/>
<rect x="1285.1" y="837.15" width="25.4" height="8.21" fill="#eee230"/>
<rect x="1285.1" y="844.96" width="25.4" height="8.21" fill="#ede332"/>
<rect x="1285.1" y="852.77" width="25.4" height="8.21" fill="#ece334"/>
<rect x="1285.1" y="860.59" width="25.4" height="8.21" fill="#ebe336"/>
<rect x="1285.1" y="868.40" width="25.4" height="8.21" fill="#ebe339"/>
<rect x="1285.1" y="876.21" width="25.4" height="8.21" fill="#ebe43e"/>
<rect x="1285.1" y="884.02" width="25.4" height="8.21" fill="#ece442"/>
<rect x="1285.1" y="891.84" width="25.4" height="8.21" fill="#ece547"/>
<rect x="1285.1" y="899.65" width="25.4" height="8.21" fill="#ece54c"/>
<rect x="1285.1" y="907.46" width="25.4" height="8.21" fill="#ede653"/>
<rect x="1285.1" y="915.27" width="25.4" height="8.21" fill="#eee759"/>
<rect x="1285.1" y="923.09" width="25.4" height="8.21" fill="#efe85f"/>
<rect x="1285.1" y="930.90" width="25.4" height="8.21" fill="#efe966"/>
<rect x="1285.1" y="938.71" width="25.4" height="8.21" fill="#f0ea6e"/>
<rect x="1285.1" y="946.52" width="25.4" height="8.21" fill="#f1eb75"/>
<rect x="1285.1" y="954.34" width="25.4" height="8.21" fill="#f2eb7c"/>
<rect x="1285.1" y="962.15" width="25.4" height="8.21" fill="#f2ec84"/>
<rect x="1285.1" y="969.96" width="25.4" height="8.21" fill="#f3ed8c"/>
<rect x="1285.1" y="977.77" width="25.4" height="8.21" fill="#f4ee93"/>
<rect x="1285.1" y="985.59" width="25.4" height="8.21" fill="#f5ef9b"/>
<rect x="1285.1" y="993.40" width="25.4" height="8.21" fill="#f5f0a2"/>
<rect x="1285.1" y="1001.21" width="25.4" height="8.21" fill="#f6f1a9"/>
<rect x="1285.1" y="1009.02" width="25.4" height="8.21" fill="#f6f2af"/>
<rect x="1285.1" y="1016.84" width="25.4" height="8.21" fill="#f7f3b6"/>
<rect x="1285.1" y="1024.65" width="25.4" height="8.21" fill="#f7f4bc"/>
<rect x="1285.1" y="1032.46" width="25.4" height="8.21" fill="#f8f5c1"/>
<rect x="1285.1" y="1040.28" width="25.4" height="8.21" fill="#f8f6c6"/>
<rect x="1285.1" y="1048.09" width="25.4" height="8.21" fill="#f9f6cc"/>
<rect x="1285.1" y="1055.90" width="25.4" height="8.21" fill="#f9f7d1"/>
<rect x="1285.1" y="1063.71" width="25.4" height="8.21" fill="#faf8d6"/>
<rect x="1285.1" y="1071.53" width="25.4" height="8.21" fill="#faf9db"/>
<rect x="1285.1" y="1079.34" width="25.4" height="8.21" fill="#fbfae0"/>
<rect x="1285.1" y="1087.15" width="25.4" height="8.21" fill="#fcfae5"/>
<rect x="1285.1" y="1094.96" width="25.4" height="8.21" fill="#fcfbe9"/>
<rect x="1285.1" y="1102.78" width="25.4" height="8.21" fill="#fdfced"/>
<rect x="1285.1" y="1110.59" width="25.4" height="8.21" fill="#fdfdf2"/>
<rect x="1285.1" y="1118.40" width="25.4" height="8.21" fill="#fefef6"/>
<rect x="1285.1" y="1126.21" width="25.4" height="8.21" fill="#ffffff"/>
<rect x="1285.1" y="1134.03" width="25.4" height="8.21" fill="#ffffff"/>
<rect x="1285.1" y="1141.84" width="25.4" height="8.21" fill="#ffffff"/>
<rect x="1285.1" y="649.6" width="25.4" height="500.0" fill="none" stroke="#111" stroke-width="1.2"/>
<line x1="1285.1" y1="674.2" x2="1290.1" y2="674.2" stroke="#111" stroke-width="1.3"/>
<line x1="1310.5" y1="674.2" x2="1305.5" y2="674.2" stroke="#111" stroke-width="1.3"/>
<text x="1315.5" y="678.8" font-size="12.5" text-anchor="start">1e14.5</text>
<line x1="1285.1" y1="738.2" x2="1290.1" y2="738.2" stroke="#111" stroke-width="1.3"/>
<line x1="1310.5" y1="738.2" x2="1305.5" y2="738.2" stroke="#111" stroke-width="1.3"/>
<text x="1315.5" y="742.8" font-size="12.5" text-anchor="start">1e14</text>
<line x1="1285.1" y1="802.2" x2="1290.1" y2="802.2" stroke="#111" stroke-width="1.3"/>
<line x1="1310.5" y1="802.2" x2="1305.5" y2="802.2" stroke="#111" stroke-width="1.3"/>
<text x="1315.5" y="806.8" font-size="12.5" text-anchor="start">1e13.5</text>
<line x1="1285.1" y1="866.2" x2="1290.1" y2="866.2" stroke="#111" stroke-width="1.3"/>
<line x1="1310.5" y1="866.2" x2="1305.5" y2="866.2" stroke="#111" stroke-width="1.3"/>
<text x="1315.5" y="870.8" font-size="12.5" text-anchor="start">1e13</text>
<line x1="1285.1" y1="930.2" x2="1290.1" y2="930.2" stroke="#111" stroke-width="1.3"/>
<line x1="1310.5" y1="930.2" x2="1305.5" y2="930.2" stroke="#111" stroke-width="1.3"/>
<text x="1315.5" y="934.8" font-size="12.5" text-anchor="start">1e12.5</text>
<line x1="1285.1" y1="994.2" x2="1290.1" y2="994.2" stroke="#111" stroke-width="1.3"/>
<line x1="1310.5" y1="994.2" x2="1305.5" y2="994.2" stroke="#111" stroke-width="1.3"/>
<text x="1315.5" y="998.8" font-size="12.5" text-anchor="start">1e12</text>
<line x1="1285.1" y1="1058.2" x2="1290.1" y2="1058.2" stroke="#111" stroke-width="1.3"/>
<line x1="1310.5" y1="1058.2" x2="1305.5" y2="1058.2" stroke="#111" stroke-width="1.3"/>
<text x="1315.5" y="1062.8" font-size="12.5" text-anchor="start">1e11.5</text>
<line x1="1285.1" y1="1122.2" x2="1290.1" y2="1122.2" stroke="#111" stroke-width="1.3"/>
<line x1="1310.5" y1="1122.2" x2="1305.5" y2="1122.2" stroke="#111" stroke-width="1.3"/>
<text x="1315.5" y="1126.8" font-size="12.5" text-anchor="start">1e11</text>
<text x="1321.1" y="624.4" font-size="17.5" text-anchor="start">ρ</text>
<text x="1321.0" y="649.6" font-size="17.8" text-anchor="start">g/cm<tspan font-size="13.8" dx="0.6" dy="-9">3</tspan></text>
<g clip-path="url(#clip4)">
<path d="M60.0,1440.0L61.2,1439.3L63.0,1438.2L66.0,1436.3L70.8,1434.1L76.8,1431.2L82.4,1425.4L87.3,1414.0L91.7,1399.9L95.2,1388.9L96.8,1384.4L97.4,1383.1L98.8,1381.6L101.9,1378.8L105.9,1375.9L109.8,1372.5L113.6,1368.5L117.5,1364.0L120.7,1359.8L123.1,1355.9L124.8,1352.3L126.2,1348.8L127.0,1345.5L127.4,1342.4L128.0,1339.7L129.4,1337.8L131.0,1336.3L131.6,1334.2L130.2,1331.1L127.8,1327.4L126.2,1323.3L126.1,1318.6L126.7,1313.4L128.0,1308.7L129.9,1304.6L132.4,1300.8L135.3,1297.8L138.7,1295.5L142.6,1294.0L146.2,1293.2L149.5,1293.6L152.7,1294.7L155.4,1296.0L157.4,1297.4L159.0,1298.9L160.8,1299.6L163.0,1299.2L165.3,1298.1L168.1,1295.9L171.4,1292.4L175.0,1287.9L179.1,1283.2L183.8,1278.4L188.9,1273.4L193.6,1268.6L197.7,1264.1L201.3,1259.9L204.6,1255.8L207.6,1251.7L210.2,1247.7" fill="none" stroke="#000" stroke-width="1.30" stroke-linejoin="round"/>
<path d="M510.0,1245.0L511.3,1247.9L513.3,1252.1L516.6,1255.8L521.9,1258.2L528.4,1260.3L534.8,1263.1L540.7,1267.4L546.3,1272.4L551.2,1277.7L554.9,1282.9L557.8,1288.3L560.3,1294.1L562.4,1300.7L564.2,1307.7L566.0,1314.2L568.2,1320.4L570.4,1326.1" fill="none" stroke="#000" stroke-width="1.30" stroke-linejoin="round"/>
<path d="M60.0,1680.0L61.6,1682.7L63.8,1686.7L66.0,1691.8L67.6,1698.5L69.2,1706.3L71.5,1713.7L75.0,1720.2L79.3,1726.2L84.2,1731.9L90.0,1737.3L96.5,1742.3L102.5,1746.5L107.9,1749.6L112.9,1751.9L117.1,1754.0L120.5,1756.3L123.2,1758.5" fill="none" stroke="#000" stroke-width="1.30" stroke-linejoin="round"/>
<path d="M572.0,1566.0L570.8,1567.2L568.9,1569.1L566.0,1571.5L561.4,1574.7L555.9,1578.4L551.2,1582.4L548.2,1586.1L546.1,1589.9L544.0,1595.2L541.5,1603.4L538.9,1613.1L536.6,1620.7L535.0,1624.3L533.6,1626.0L531.2,1628.0L526.7,1631.4L521.3,1635.1L516.6,1638.9L513.5,1642.5L511.2,1646.1L509.3,1649.9L507.9,1654.1L506.8,1658.4L505.6,1662.6L503.5,1666.4L501.3,1670.0L500.2,1673.6L501.4,1677.2L503.8,1680.7L505.6,1684.5L506.3,1688.7L506.3,1693.1L505.6,1697.3L503.9,1701.2L501.4,1704.9L498.3,1708.2L494.3,1711.2L489.8,1713.9L485.6,1715.5L482.2,1715.6L479.3,1714.8L476.5,1713.7L473.9,1712.4L471.4,1710.8L469.2,1710.1L467.6,1710.4L466.1,1711.4L463.7,1713.7L459.5,1717.8L454.3,1723.0L449.1,1728.3L443.9,1733.3L438.7,1738.3L434.5,1742.9L432.0,1747.0L430.5,1750.7L429.1,1754.0L427.5,1757.2L426.0,1760.0" fill="none" stroke="#000" stroke-width="1.30" stroke-linejoin="round"/>
<path d="M95.2,1504.0L95.3,1494.1L95.9,1483.7L97.0,1472.8L98.4,1461.0L100.3,1448.7L102.5,1436.3L105.1,1423.9L108.0,1411.5L111.6,1399.9L116.0,1389.6L121.0,1380.2L126.2,1370.7L131.5,1360.9L136.9,1351.1L142.6,1341.5L148.5,1332.1L154.7,1323.0L160.8,1314.2L166.9,1306.0L173.0,1298.1L179.1,1290.5L185.3,1282.7L191.5,1275.2L197.3,1268.6L202.6,1263.6L207.5,1259.7L211.9,1255.8L215.3,1251.6L218.2,1247.5L222.0,1244.0L226.8,1241.3L232.4,1239.3L240.0,1238.0L251.3,1237.1L264.4,1236.9L275.0,1238.0L281.0,1241.0L284.4,1245.3L287.0,1250.0L288.7,1255.0L289.6,1260.4L291.0,1265.0L293.4,1268.2L296.3,1270.7L300.0,1273.0L305.1,1275.4L310.9,1277.7L316.0,1279.5L319.5,1280.3L322.3,1280.7L325.1,1281.4L327.7,1283.2L330.2,1285.5L334.2,1286.8L340.8,1286.7L348.9,1285.7L356.1,1284.1L361.4,1281.7L365.8,1278.7L370.7,1275.9L376.2,1273.6L382.0,1271.6L388.9,1269.5L397.0,1267.2L406.2,1264.8L416.3,1263.1L428.8,1262.1L442.3,1261.6L452.8,1262.2L457.7,1264.1L459.6,1267.0L461.9,1270.4L466.2,1274.3L470.9,1278.6L474.6,1283.2L477.0,1288.1L478.5,1293.3L478.3,1297.8L475.6,1301.4L471.2,1304.5L467.3,1306.9L464.4,1307.9L462.0,1308.3L460.1,1310.5L458.7,1316.2L458.0,1323.7L458.2,1330.6L459.7,1336.1L462.2,1340.9L465.5,1345.2L469.4,1348.5L474.0,1351.2L480.1,1354.3L488.8,1358.2L499.0,1362.6L507.5,1367.1L512.8,1371.8L516.4,1376.7L520.2,1381.6L525.2,1386.4L530.4,1391.2L534.8,1396.2L538.1,1401.8L540.6,1407.6L542.1,1412.6L542.3,1416.1L541.5,1418.7L540.3,1421.8L538.7,1426.2L536.8,1431.1L534.8,1434.5L533.0,1435.7L531.3,1435.5L529.3,1434.5L526.7,1432.0L523.8,1428.7L522.0,1427.2L521.8,1428.3L522.7,1431.3L523.9,1436.3L525.4,1444.1L527.4,1453.9L529.3,1463.7L531.2,1473.4L533.2,1483.0L534.8,1491.1L535.9,1495.8L536.7,1498.9L537.0,1504.0L536.8,1512.9L536.1,1523.9L535.0,1535.0L533.6,1545.6L531.9,1556.4L529.3,1567.8L525.6,1580.5L521.1,1593.8L516.6,1606.1L512.4,1616.5L508.2,1625.9L503.8,1635.3L499.1,1645.3L494.1,1655.3L489.2,1664.5L484.3,1672.6L479.3,1679.9L474.6,1686.4L470.4,1691.6L466.5,1696.0L461.9,1701.0L456.1,1707.4L449.6,1714.4L443.6,1721.0L438.4,1726.7L433.5,1732.1L429.1,1737.4L425.0,1743.1L421.3,1748.9L418.1,1754.0L416.7,1758.4L415.8,1762.1L412.0,1765.0L403.4,1766.8L391.8,1767.7L380.0,1768.0L367.5,1767.7L354.6,1766.8L345.0,1765.0L340.6,1762.0L339.6,1758.1L339.7,1754.0L341.0,1749.6L343.5,1745.1L345.2,1741.1L345.4,1738.1L344.8,1735.8L343.4,1733.8L341.2,1732.2L338.2,1730.9L334.2,1730.1L328.6,1730.0L322.0,1730.2L316.0,1730.1L311.2,1729.2L306.9,1727.9L303.1,1726.5L300.5,1724.7L298.2,1722.8L294.0,1721.9L286.2,1722.5L276.4,1724.2L266.6,1726.5L257.5,1729.7L248.3,1733.7L239.2,1737.4L230.3,1740.9L221.4,1744.2L211.9,1746.5L200.6,1747.6L188.6,1747.8L179.1,1746.5L173.9,1743.1L171.1,1738.4L168.1,1733.8L163.6,1730.1L158.9,1726.5L155.4,1722.8L153.5,1718.5L152.8,1714.0L153.5,1710.1L156.3,1707.2L160.5,1704.9L164.5,1702.8L168.0,1701.5L171.3,1700.4L173.6,1697.3L174.6,1690.3L174.6,1681.2L173.6,1673.6L171.5,1668.9L168.4,1665.7L164.5,1662.6L159.8,1659.6L154.4,1656.7L148.1,1653.5L140.3,1649.5L131.6,1645.0L124.4,1640.8L120.1,1637.3L117.1,1634.1L113.4,1629.8L107.4,1623.7L100.6,1616.5L95.2,1609.8L92.1,1603.9L90.4,1598.5L89.7,1593.4L90.2,1588.7L91.7,1584.3L93.4,1580.6L94.9,1577.2L96.5,1574.3L98.8,1573.3L102.6,1576.3L107.0,1581.2L109.8,1582.4L109.8,1577.1L108.1,1568.1L106.1,1558.7L103.8,1549.9L101.1,1540.6L98.8,1531.4L97.1,1522.4L95.9,1513.4Z" fill="#fbfae5" stroke="#000" stroke-width="1.30" stroke-linejoin="round"/>
<path d="M103.4,1504.0L103.4,1488.0L104.2,1470.6L105.2,1454.6L106.4,1440.8L108.0,1428.4L109.8,1418.1L111.8,1410.8L114.2,1405.6L117.1,1399.9L121.1,1392.9L125.6,1385.4L129.8,1378.0L132.9,1370.4L135.7,1362.7L139.0,1356.1L143.4,1351.5L148.5,1347.8L153.5,1343.4L158.5,1337.0L163.5,1329.7L168.1,1323.3L171.9,1318.1L175.3,1313.7L179.1,1310.5L183.8,1308.7L188.9,1307.9L193.6,1307.8L197.8,1308.1L201.6,1308.9L204.6,1310.5L206.8,1313.1L208.1,1316.5L208.2,1319.6L206.4,1322.1L203.5,1324.4L200.9,1326.9L199.2,1329.6L198.0,1332.4L197.3,1336.1L197.4,1341.4L198.0,1347.6L199.1,1352.5L200.5,1355.7L202.2,1357.6L204.6,1357.9L207.8,1355.8L211.7,1352.1L215.5,1348.8L219.4,1346.9L223.2,1345.3L226.5,1343.4L228.8,1340.5L230.4,1337.3L231.9,1334.2L233.0,1331.3L233.9,1328.6L235.6,1326.9L239.1,1326.6L243.4,1327.3L246.5,1328.8L247.6,1331.1L247.4,1334.2L246.5,1337.9L244.6,1342.4L241.9,1347.4L239.2,1352.5L236.4,1357.8L233.5,1363.2L231.9,1367.1L232.0,1369.0L233.3,1369.4L235.6,1368.9L239.0,1367.3L243.4,1364.8L248.4,1361.6L254.1,1357.7L260.3,1353.1L266.6,1348.8L272.2,1344.6L277.8,1340.7L284.8,1337.9L294.7,1337.2L306.1,1337.8L316.0,1337.9L323.0,1336.9L328.6,1335.5L334.2,1334.2L340.3,1333.0L346.4,1332.0L352.5,1331.5L358.6,1331.9L364.6,1332.9L370.7,1334.2L376.4,1335.9L382.2,1337.9L388.9,1339.7L397.4,1340.9L406.8,1341.8L416.3,1343.4L425.5,1346.0L434.8,1349.1L443.6,1352.5L451.8,1355.7L459.7,1359.2L467.3,1363.4L474.9,1368.6L482.2,1374.6L489.2,1381.6L495.9,1390.1L502.2,1399.5L507.5,1409.0L511.2,1417.8L513.9,1426.5L516.6,1436.3L519.8,1448.0L523.1,1460.7L525.7,1472.8L527.5,1483.7L528.7,1494.1L529.3,1504.0L529.2,1513.1L528.6,1521.7L527.5,1531.4L526.1,1543.2L524.2,1556.0L522.0,1567.8L519.4,1577.6L516.3,1586.4L512.9,1595.2L508.7,1604.4L504.0,1613.7L500.2,1622.5L497.8,1631.2L496.1,1639.5L494.7,1646.2L493.8,1650.2L493.2,1652.5L491.1,1655.3L486.4,1659.3L480.3,1663.7L474.6,1668.1L469.9,1672.3L465.6,1676.5L461.9,1680.9L459.0,1686.0L456.7,1691.2L454.6,1695.5L453.0,1698.2L451.5,1699.9L449.1,1701.0L444.7,1701.7L439.3,1701.8L434.5,1701.0L430.7,1699.1L427.6,1696.5L425.4,1693.6L424.4,1690.6L424.4,1687.3L425.4,1684.5L428.0,1682.6L431.7,1681.2L434.5,1679.1L435.9,1675.9L436.4,1672.1L436.4,1668.1L435.6,1663.6L434.3,1659.0L432.7,1655.3L431.1,1653.1L429.2,1651.9L427.2,1651.7L425.1,1652.8L422.8,1654.9L419.9,1657.2L415.8,1659.6L411.1,1662.3L407.2,1664.5L404.7,1665.8L403.0,1666.6L401.7,1668.1L401.0,1670.9L400.6,1674.3L399.9,1677.2L398.5,1679.3L396.6,1680.8L394.4,1681.8L391.3,1682.3L387.8,1682.3L385.3,1680.9L384.4,1677.5L384.4,1672.8L385.3,1668.1L387.2,1663.8L389.9,1659.6L392.6,1655.3L395.4,1650.7L398.3,1646.1L399.9,1642.6L399.7,1640.6L398.4,1639.8L396.2,1639.9L393.2,1641.2L389.5,1643.6L385.3,1646.2L380.8,1649.0L376.0,1652.2L370.7,1655.3L364.5,1658.4L357.9,1661.6L352.5,1664.5L349.4,1667.4L347.5,1670.1L345.2,1671.8L342.1,1671.7L338.5,1670.7L334.2,1669.9L328.5,1670.0L321.9,1670.3L316.0,1670.9L311.8,1671.6L308.3,1672.6L303.1,1673.6L294.7,1675.0L284.7,1676.5L275.7,1677.2L269.3,1676.6L263.9,1675.2L257.5,1673.6L249.0,1671.9L239.6,1670.0L230.1,1668.1L221.1,1666.5L212.2,1665.0L202.8,1662.6L192.5,1659.1L181.7,1654.8L171.8,1649.9L163.2,1644.5L155.3,1638.4L148.1,1631.6L141.4,1623.8L135.3,1615.1L129.8,1606.1L125.0,1596.9L120.9,1587.3L117.1,1576.9L113.6,1565.3L110.5,1552.9L107.9,1540.5L105.8,1528.8L104.3,1517.1Z" fill="#f8f6cd" stroke="#000" stroke-width="1.30" stroke-linejoin="round"/>
<path d="M168.1,1504.0L168.2,1493.9L168.4,1483.5L169.9,1472.8L173.0,1461.2L177.4,1449.4L182.7,1440.0L189.5,1434.5L197.4,1431.4L204.6,1429.1L210.4,1428.3L215.6,1428.3L221.0,1425.4L226.6,1417.4L232.4,1406.6L239.2,1396.2L248.0,1387.0L257.8,1378.1L266.6,1370.7L272.9,1365.2L278.1,1361.1L284.8,1357.9L294.4,1355.5L305.4,1353.9L316.0,1352.5L325.2,1351.0L334.0,1349.8L343.4,1348.8L355.1,1347.8L367.4,1347.0L376.2,1347.9L378.6,1351.6L377.6,1357.0L378.0,1361.6L382.0,1364.3L387.4,1366.3L392.6,1368.9L397.3,1372.6L401.7,1376.9L405.4,1381.6L407.1,1386.8L408.1,1392.5L410.8,1398.1L417.1,1403.7L425.2,1409.3L432.7,1414.5L438.9,1418.8L444.5,1422.7L449.1,1427.2L452.3,1432.6L454.4,1438.5L456.4,1445.5L458.5,1453.8L460.4,1463.1L461.9,1472.8L462.8,1483.4L463.4,1494.4L463.7,1504.0L464.0,1511.0L464.2,1516.6L463.7,1522.2L462.3,1528.2L460.4,1534.1L458.2,1540.5L456.2,1547.9L454.1,1555.6L450.9,1562.4L445.8,1567.6L439.8,1571.7L434.5,1575.1L431.1,1577.6L428.6,1579.2L425.4,1580.6L420.7,1581.5L415.3,1582.1L410.8,1583.3L407.9,1585.3L405.8,1588.0L403.5,1591.5L400.6,1596.6L397.5,1602.5L394.4,1607.9L391.6,1611.9L388.7,1615.3L385.3,1618.9L381.2,1622.9L376.4,1627.2L370.7,1631.6L363.4,1636.6L355.1,1641.8L347.0,1646.2L339.1,1649.4L331.4,1651.7L325.1,1653.5L321.9,1654.3L320.2,1654.6L316.0,1655.3L307.2,1657.4L295.9,1659.9L284.8,1661.7L273.9,1662.4L263.2,1662.2L255.6,1660.8L253.4,1657.3L254.3,1652.5L253.8,1648.1L249.8,1644.9L244.4,1642.1L239.2,1638.9L234.6,1635.0L230.1,1630.7L226.5,1626.2L224.6,1621.4L223.5,1616.4L221.0,1611.6L215.9,1607.4L209.5,1603.4L202.8,1598.8L195.8,1593.3L188.5,1587.1L182.7,1580.6L179.3,1573.8L177.4,1566.5L175.4,1558.7L172.7,1550.0L170.0,1540.7L168.1,1531.4L167.5,1522.4L167.7,1513.4Z" fill="#f5f09f" stroke="#000" stroke-width="1.30" stroke-linejoin="round"/>
<clipPath id="p5clipD"><path d="M168.1,1504.0L168.2,1493.9L168.4,1483.5L169.9,1472.8L173.0,1461.2L177.4,1449.4L182.7,1440.0L189.5,1434.5L197.4,1431.4L204.6,1429.1L210.4,1428.3L215.6,1428.3L221.0,1425.4L226.6,1417.4L232.4,1406.6L239.2,1396.2L248.0,1387.0L257.8,1378.1L266.6,1370.7L272.9,1365.2L278.1,1361.1L284.8,1357.9L294.4,1355.5L305.4,1353.9L316.0,1352.5L325.2,1351.0L334.0,1349.8L343.4,1348.8L355.1,1347.8L367.4,1347.0L376.2,1347.9L378.6,1351.6L377.6,1357.0L378.0,1361.6L382.0,1364.3L387.4,1366.3L392.6,1368.9L397.3,1372.6L401.7,1376.9L405.4,1381.6L407.1,1386.8L408.1,1392.5L410.8,1398.1L417.1,1403.7L425.2,1409.3L432.7,1414.5L438.9,1418.8L444.5,1422.7L449.1,1427.2L452.3,1432.6L454.4,1438.5L456.4,1445.5L458.5,1453.8L460.4,1463.1L461.9,1472.8L462.8,1483.4L463.4,1494.4L463.7,1504.0L464.0,1511.0L464.2,1516.6L463.7,1522.2L462.3,1528.2L460.4,1534.1L458.2,1540.5L456.2,1547.9L454.1,1555.6L450.9,1562.4L445.8,1567.6L439.8,1571.7L434.5,1575.1L431.1,1577.6L428.6,1579.2L425.4,1580.6L420.7,1581.5L415.3,1582.1L410.8,1583.3L407.9,1585.3L405.8,1588.0L403.5,1591.5L400.6,1596.6L397.5,1602.5L394.4,1607.9L391.6,1611.9L388.7,1615.3L385.3,1618.9L381.2,1622.9L376.4,1627.2L370.7,1631.6L363.4,1636.6L355.1,1641.8L347.0,1646.2L339.1,1649.4L331.4,1651.7L325.1,1653.5L321.9,1654.3L320.2,1654.6L316.0,1655.3L307.2,1657.4L295.9,1659.9L284.8,1661.7L273.9,1662.4L263.2,1662.2L255.6,1660.8L253.4,1657.3L254.3,1652.5L253.8,1648.1L249.8,1644.9L244.4,1642.1L239.2,1638.9L234.6,1635.0L230.1,1630.7L226.5,1626.2L224.6,1621.4L223.5,1616.4L221.0,1611.6L215.9,1607.4L209.5,1603.4L202.8,1598.8L195.8,1593.3L188.5,1587.1L182.7,1580.6L179.3,1573.8L177.4,1566.5L175.4,1558.7L172.7,1550.0L170.0,1540.7L168.1,1531.4L167.5,1522.4L167.7,1513.4Z"/></clipPath>
<g clip-path="url(#p5clipD)">
<rect x="227.6" y="1455.0" width="25.7" height="95.0" fill="#f1ed82"/>
<rect x="253.3" y="1441.5" width="126.7" height="126.0" fill="#eeea56"/>
<rect x="380.0" y="1459.0" width="24.5" height="94.0" fill="#f1ed82"/>
</g>
<path d="M168.1,1504.0L168.2,1493.9L168.4,1483.5L169.9,1472.8L173.0,1461.2L177.4,1449.4L182.7,1440.0L189.5,1434.5L197.4,1431.4L204.6,1429.1L210.4,1428.3L215.6,1428.3L221.0,1425.4L226.6,1417.4L232.4,1406.6L239.2,1396.2L248.0,1387.0L257.8,1378.1L266.6,1370.7L272.9,1365.2L278.1,1361.1L284.8,1357.9L294.4,1355.5L305.4,1353.9L316.0,1352.5L325.2,1351.0L334.0,1349.8L343.4,1348.8L355.1,1347.8L367.4,1347.0L376.2,1347.9L378.6,1351.6L377.6,1357.0L378.0,1361.6L382.0,1364.3L387.4,1366.3L392.6,1368.9L397.3,1372.6L401.7,1376.9L405.4,1381.6L407.1,1386.8L408.1,1392.5L410.8,1398.1L417.1,1403.7L425.2,1409.3L432.7,1414.5L438.9,1418.8L444.5,1422.7L449.1,1427.2L452.3,1432.6L454.4,1438.5L456.4,1445.5L458.5,1453.8L460.4,1463.1L461.9,1472.8L462.8,1483.4L463.4,1494.4L463.7,1504.0L464.0,1511.0L464.2,1516.6L463.7,1522.2L462.3,1528.2L460.4,1534.1L458.2,1540.5L456.2,1547.9L454.1,1555.6L450.9,1562.4L445.8,1567.6L439.8,1571.7L434.5,1575.1L431.1,1577.6L428.6,1579.2L425.4,1580.6L420.7,1581.5L415.3,1582.1L410.8,1583.3L407.9,1585.3L405.8,1588.0L403.5,1591.5L400.6,1596.6L397.5,1602.5L394.4,1607.9L391.6,1611.9L388.7,1615.3L385.3,1618.9L381.2,1622.9L376.4,1627.2L370.7,1631.6L363.4,1636.6L355.1,1641.8L347.0,1646.2L339.1,1649.4L331.4,1651.7L325.1,1653.5L321.9,1654.3L320.2,1654.6L316.0,1655.3L307.2,1657.4L295.9,1659.9L284.8,1661.7L273.9,1662.4L263.2,1662.2L255.6,1660.8L253.4,1657.3L254.3,1652.5L253.8,1648.1L249.8,1644.9L244.4,1642.1L239.2,1638.9L234.6,1635.0L230.1,1630.7L226.5,1626.2L224.6,1621.4L223.5,1616.4L221.0,1611.6L215.9,1607.4L209.5,1603.4L202.8,1598.8L195.8,1593.3L188.5,1587.1L182.7,1580.6L179.3,1573.8L177.4,1566.5L175.4,1558.7L172.7,1550.0L170.0,1540.7L168.1,1531.4L167.5,1522.4L167.7,1513.4Z" fill="none" stroke="#000" stroke-width="1.30" stroke-linejoin="round"/>
<path d="M248.4,1504.0L250.9,1493.5L254.0,1482.4L257.5,1472.8L261.3,1465.7L265.5,1460.1L270.0,1455.0L274.2,1450.0L278.6,1445.5L284.8,1441.8L294.5,1439.5L306.0,1438.1L316.0,1436.3L323.0,1433.2L328.6,1429.8L334.2,1427.2L340.0,1426.0L345.7,1425.6L352.5,1426.3L361.5,1428.5L371.6,1431.6L379.8,1434.5L385.5,1436.6L389.4,1438.3L390.8,1440.0L388.2,1441.3L383.1,1442.6L379.8,1444.6L380.6,1447.8L383.3,1451.9L385.3,1456.4L385.6,1461.5L385.4,1467.0L385.3,1472.8L385.9,1479.0L386.6,1485.3L387.1,1491.1L387.1,1495.7L386.7,1499.8L386.2,1504.0L385.6,1508.8L384.8,1513.8L383.5,1518.6L381.7,1522.8L379.3,1526.8L376.2,1531.4L371.8,1537.3L366.6,1543.9L361.6,1549.6L357.1,1553.9L352.9,1557.4L348.8,1560.5L345.2,1563.3L341.7,1565.8L337.9,1567.8L333.0,1569.4L327.8,1570.5L323.3,1571.5L320.5,1572.1L318.6,1572.5L316.0,1573.3L312.3,1574.9L308.0,1576.9L303.1,1578.8L297.4,1580.6L291.1,1582.4L284.8,1583.3L278.7,1583.1L272.7,1582.1L266.6,1580.6L260.1,1578.4L253.5,1575.8L248.4,1573.3L245.0,1571.3L243.0,1569.6L242.9,1567.8L245.9,1566.3L250.8,1564.7L253.8,1562.4L253.1,1559.0L250.7,1554.7L248.4,1549.6L246.8,1543.6L245.3,1536.9L244.7,1529.5L245.2,1521.6L246.5,1513.1Z" fill="#ece535" stroke="#000" stroke-width="1.30" stroke-linejoin="round"/>
<path d="M316.0,1461.9L322.6,1461.4L328.8,1462.4L334.2,1463.7L338.5,1464.9L342.1,1466.6L345.2,1469.2L348.3,1473.2L351.0,1478.2L352.5,1483.8L351.9,1490.5L350.2,1497.7L348.8,1504.0L348.7,1508.4L348.9,1511.7L348.8,1514.9L348.0,1518.1L346.8,1521.1L345.2,1524.1L343.2,1527.2L340.9,1530.3L337.9,1533.2L333.9,1535.9L329.3,1538.4L325.1,1540.5L321.9,1542.0L319.2,1543.1L316.0,1544.1L312.1,1545.5L307.8,1546.8L303.1,1546.9L297.5,1545.2L291.6,1542.2L286.6,1538.6L283.1,1534.4L280.7,1529.6L279.3,1524.1L279.4,1517.8L280.6,1510.8L282.0,1504.0L283.1,1497.3L284.3,1490.8L286.0,1485.0L287.8,1480.4L290.1,1476.5L293.9,1472.8L300.4,1468.6L308.4,1464.5Z" fill="#fad043" stroke="#000" stroke-width="1.30" stroke-linejoin="round"/>
<path d="M316.0,1478.3L319.7,1479.2L323.5,1481.2L327.0,1483.8L330.4,1487.1L333.7,1491.0L336.1,1494.7L337.5,1497.9L338.0,1500.8L337.9,1504.0L337.1,1507.7L335.7,1511.6L334.0,1515.0L332.0,1517.6L329.7,1519.8L327.0,1522.0L323.7,1525.1L320.0,1528.2L316.0,1529.5L311.6,1527.8L307.1,1524.3L303.1,1520.4L299.9,1516.4L297.4,1512.0L295.8,1507.6L295.3,1503.4L295.8,1499.1L297.0,1495.0L299.1,1490.7L301.9,1486.4L305.0,1483.0L308.4,1480.5L312.2,1478.8Z" fill="#f6975a" stroke="#000" stroke-width="1.30" stroke-linejoin="round"/>
<path d="M324.9,1509.5L323.3,1511.6L321.2,1513.2L318.9,1514.3L316.4,1514.8L314.0,1514.5L311.7,1513.6L309.8,1512.1L308.4,1510.1L307.5,1507.8L307.3,1505.2L307.7,1502.6L308.7,1500.1L310.3,1498.0L312.4,1496.4L314.7,1495.3L317.2,1494.8L319.6,1495.1L321.9,1496.0L323.8,1497.5L325.2,1499.5L326.1,1501.8L326.3,1504.4L325.9,1507.0Z" fill="#e03222" stroke="#000" stroke-width="1.30" stroke-linejoin="round"/>
<ellipse cx="316.8" cy="1504.8" rx="10.4" ry="11.2" transform="rotate(30 316.8 1504.8)" fill="none" stroke="#000" stroke-width="3.0" stroke-dasharray="11.5 5.5" stroke-dashoffset="2"/>
<path d="M98.8,1358.0L98.5,1360.3L97.6,1362.3L96.2,1363.9L94.4,1364.9L92.4,1365.3L90.4,1364.9L88.6,1363.9L87.2,1362.3L86.3,1360.3L86.0,1358.0L86.3,1355.7L87.2,1353.7L88.6,1352.1L90.4,1351.1L92.4,1350.7L94.4,1351.1L96.2,1352.1L97.6,1353.7L98.5,1355.7Z" fill="#ffffff" stroke="#000" stroke-width="1.30" stroke-linejoin="round"/>
<path d="M545.5,1650.5L545.2,1652.8L544.4,1654.8L543.0,1656.4L541.4,1657.4L539.5,1657.8L537.6,1657.4L536.0,1656.4L534.6,1654.8L533.8,1652.8L533.5,1650.5L533.8,1648.2L534.6,1646.2L536.0,1644.6L537.6,1643.6L539.5,1643.2L541.4,1643.6L543.0,1644.6L544.4,1646.2L545.2,1648.2Z" fill="#ffffff" stroke="#000" stroke-width="1.30" stroke-linejoin="round"/>
</g>
<text x="316.2" y="1240.3" font-size="20.3" text-anchor="middle">t=13.970 ms</text>
<rect x="66.5" y="1254.9" width="500.0" height="500.0" fill="none" stroke="#111" stroke-width="1.2"/>
<line x1="116.5" y1="1754.9" x2="116.5" y2="1749.9" stroke="#111" stroke-width="1.1"/>
<line x1="116.5" y1="1254.9" x2="116.5" y2="1259.9" stroke="#111" stroke-width="1.1"/>
<text x="116.7" y="1775.5" font-size="17.6" text-anchor="middle">40</text>
<text x="106.4" y="1775.5" font-size="17.6" text-anchor="end">–</text>
<line x1="66.5" y1="1704.9" x2="71.5" y2="1704.9" stroke="#111" stroke-width="1.1"/>
<line x1="566.5" y1="1704.9" x2="561.5" y2="1704.9" stroke="#111" stroke-width="1.1"/>
<text x="62.9" y="1711.3" font-size="17.6" text-anchor="end">40</text>
<text x="42.5" y="1711.3" font-size="17.6" text-anchor="end">–</text>
<line x1="216.5" y1="1754.9" x2="216.5" y2="1749.9" stroke="#111" stroke-width="1.1"/>
<line x1="216.5" y1="1254.9" x2="216.5" y2="1259.9" stroke="#111" stroke-width="1.1"/>
<text x="216.7" y="1775.5" font-size="17.6" text-anchor="middle">20</text>
<text x="206.4" y="1775.5" font-size="17.6" text-anchor="end">–</text>
<line x1="66.5" y1="1604.9" x2="71.5" y2="1604.9" stroke="#111" stroke-width="1.1"/>
<line x1="566.5" y1="1604.9" x2="561.5" y2="1604.9" stroke="#111" stroke-width="1.1"/>
<text x="62.9" y="1611.3" font-size="17.6" text-anchor="end">20</text>
<text x="42.5" y="1611.3" font-size="17.6" text-anchor="end">–</text>
<line x1="316.5" y1="1754.9" x2="316.5" y2="1749.9" stroke="#111" stroke-width="1.1"/>
<line x1="316.5" y1="1254.9" x2="316.5" y2="1259.9" stroke="#111" stroke-width="1.1"/>
<text x="316.7" y="1775.5" font-size="17.6" text-anchor="middle">0</text>
<line x1="66.5" y1="1504.9" x2="71.5" y2="1504.9" stroke="#111" stroke-width="1.1"/>
<line x1="566.5" y1="1504.9" x2="561.5" y2="1504.9" stroke="#111" stroke-width="1.1"/>
<text x="62.9" y="1511.3" font-size="17.6" text-anchor="end">0</text>
<line x1="416.5" y1="1754.9" x2="416.5" y2="1749.9" stroke="#111" stroke-width="1.1"/>
<line x1="416.5" y1="1254.9" x2="416.5" y2="1259.9" stroke="#111" stroke-width="1.1"/>
<text x="416.7" y="1775.5" font-size="17.6" text-anchor="middle">20</text>
<line x1="66.5" y1="1404.9" x2="71.5" y2="1404.9" stroke="#111" stroke-width="1.1"/>
<line x1="566.5" y1="1404.9" x2="561.5" y2="1404.9" stroke="#111" stroke-width="1.1"/>
<text x="62.9" y="1411.3" font-size="17.6" text-anchor="end">20</text>
<line x1="516.5" y1="1754.9" x2="516.5" y2="1749.9" stroke="#111" stroke-width="1.1"/>
<line x1="516.5" y1="1254.9" x2="516.5" y2="1259.9" stroke="#111" stroke-width="1.1"/>
<text x="516.7" y="1775.5" font-size="17.6" text-anchor="middle">40</text>
<line x1="66.5" y1="1304.9" x2="71.5" y2="1304.9" stroke="#111" stroke-width="1.1"/>
<line x1="566.5" y1="1304.9" x2="561.5" y2="1304.9" stroke="#111" stroke-width="1.1"/>
<text x="62.9" y="1311.3" font-size="17.6" text-anchor="end">40</text>
<text x="316.1" y="1795.5" font-size="20.3" text-anchor="middle">X (km)</text>
<text transform="translate(21.9,1505.5) rotate(-90)" font-size="20.3" text-anchor="middle">Y (km)</text>
<rect x="586.1" y="1254.90" width="25.4" height="8.21" fill="#df2f1f"/>
<rect x="586.1" y="1262.71" width="25.4" height="8.21" fill="#e03120"/>
<rect x="586.1" y="1270.53" width="25.4" height="8.21" fill="#e13421"/>
<rect x="586.1" y="1278.34" width="25.4" height="8.21" fill="#e54129"/>
<rect x="586.1" y="1286.15" width="25.4" height="8.21" fill="#e95030"/>
<rect x="586.1" y="1293.96" width="25.4" height="8.21" fill="#ed603a"/>
<rect x="586.1" y="1301.78" width="25.4" height="8.21" fill="#f07146"/>
<rect x="586.1" y="1309.59" width="25.4" height="8.21" fill="#f48f58"/>
<rect x="586.1" y="1317.40" width="25.4" height="8.21" fill="#f6a560"/>
<rect x="586.1" y="1325.21" width="25.4" height="8.21" fill="#f7ab5e"/>
<rect x="586.1" y="1333.03" width="25.4" height="8.21" fill="#f8b159"/>
<rect x="586.1" y="1340.84" width="25.4" height="8.21" fill="#f9b753"/>
<rect x="586.1" y="1348.65" width="25.4" height="8.21" fill="#fabd4d"/>
<rect x="586.1" y="1356.46" width="25.4" height="8.21" fill="#fbc248"/>
<rect x="586.1" y="1364.28" width="25.4" height="8.21" fill="#fbc841"/>
<rect x="586.1" y="1372.09" width="25.4" height="8.21" fill="#fcce39"/>
<rect x="586.1" y="1379.90" width="25.4" height="8.21" fill="#fcd331"/>
<rect x="586.1" y="1387.71" width="25.4" height="8.21" fill="#fcda29"/>
<rect x="586.1" y="1395.53" width="25.4" height="8.21" fill="#f9dd27"/>
<rect x="586.1" y="1403.34" width="25.4" height="8.21" fill="#f5e026"/>
<rect x="586.1" y="1411.15" width="25.4" height="8.21" fill="#f3e128"/>
<rect x="586.1" y="1418.96" width="25.4" height="8.21" fill="#f1e12a"/>
<rect x="586.1" y="1426.78" width="25.4" height="8.21" fill="#f0e22c"/>
<rect x="586.1" y="1434.59" width="25.4" height="8.21" fill="#eee22e"/>
<rect x="586.1" y="1442.40" width="25.4" height="8.21" fill="#eee230"/>
<rect x="586.1" y="1450.21" width="25.4" height="8.21" fill="#ede332"/>
<rect x="586.1" y="1458.03" width="25.4" height="8.21" fill="#ece334"/>
<rect x="586.1" y="1465.84" width="25.4" height="8.21" fill="#ebe336"/>
<rect x="586.1" y="1473.65" width="25.4" height="8.21" fill="#ebe339"/>
<rect x="586.1" y="1481.46" width="25.4" height="8.21" fill="#ebe43e"/>
<rect x="586.1" y="1489.28" width="25.4" height="8.21" fill="#ece442"/>
<rect x="586.1" y="1497.09" width="25.4" height="8.21" fill="#ece547"/>
<rect x="586.1" y="1504.90" width="25.4" height="8.21" fill="#ece54c"/>
<rect x="586.1" y="1512.71" width="25.4" height="8.21" fill="#ede653"/>
<rect x="586.1" y="1520.53" width="25.4" height="8.21" fill="#eee759"/>
<rect x="586.1" y="1528.34" width="25.4" height="8.21" fill="#efe85f"/>
<rect x="586.1" y="1536.15" width="25.4" height="8.21" fill="#efe966"/>
<rect x="586.1" y="1543.96" width="25.4" height="8.21" fill="#f0ea6e"/>
<rect x="586.1" y="1551.78" width="25.4" height="8.21" fill="#f1eb75"/>
<rect x="586.1" y="1559.59" width="25.4" height="8.21" fill="#f2eb7c"/>
<rect x="586.1" y="1567.40" width="25.4" height="8.21" fill="#f2ec84"/>
<rect x="586.1" y="1575.21" width="25.4" height="8.21" fill="#f3ed8c"/>
<rect x="586.1" y="1583.03" width="25.4" height="8.21" fill="#f4ee93"/>
<rect x="586.1" y="1590.84" width="25.4" height="8.21" fill="#f5ef9b"/>
<rect x="586.1" y="1598.65" width="25.4" height="8.21" fill="#f5f0a2"/>
<rect x="586.1" y="1606.46" width="25.4" height="8.21" fill="#f6f1a9"/>
<rect x="586.1" y="1614.28" width="25.4" height="8.21" fill="#f6f2af"/>
<rect x="586.1" y="1622.09" width="25.4" height="8.21" fill="#f7f3b6"/>
<rect x="586.1" y="1629.90" width="25.4" height="8.21" fill="#f7f4bc"/>
<rect x="586.1" y="1637.71" width="25.4" height="8.21" fill="#f8f5c1"/>
<rect x="586.1" y="1645.53" width="25.4" height="8.21" fill="#f8f6c6"/>
<rect x="586.1" y="1653.34" width="25.4" height="8.21" fill="#f9f6cc"/>
<rect x="586.1" y="1661.15" width="25.4" height="8.21" fill="#f9f7d1"/>
<rect x="586.1" y="1668.96" width="25.4" height="8.21" fill="#faf8d6"/>
<rect x="586.1" y="1676.78" width="25.4" height="8.21" fill="#faf9db"/>
<rect x="586.1" y="1684.59" width="25.4" height="8.21" fill="#fbfae0"/>
<rect x="586.1" y="1692.40" width="25.4" height="8.21" fill="#fcfae5"/>
<rect x="586.1" y="1700.21" width="25.4" height="8.21" fill="#fcfbe9"/>
<rect x="586.1" y="1708.03" width="25.4" height="8.21" fill="#fdfced"/>
<rect x="586.1" y="1715.84" width="25.4" height="8.21" fill="#fdfdf2"/>
<rect x="586.1" y="1723.65" width="25.4" height="8.21" fill="#fefef6"/>
<rect x="586.1" y="1731.46" width="25.4" height="8.21" fill="#ffffff"/>
<rect x="586.1" y="1739.28" width="25.4" height="8.21" fill="#ffffff"/>
<rect x="586.1" y="1747.09" width="25.4" height="8.21" fill="#ffffff"/>
<rect x="586.1" y="1254.9" width="25.4" height="500.0" fill="none" stroke="#111" stroke-width="1.2"/>
<line x1="586.1" y1="1279.5" x2="591.1" y2="1279.5" stroke="#111" stroke-width="1.3"/>
<line x1="611.5" y1="1279.5" x2="606.5" y2="1279.5" stroke="#111" stroke-width="1.3"/>
<text x="616.5" y="1284.0" font-size="12.5" text-anchor="start">1e14.5</text>
<line x1="586.1" y1="1343.5" x2="591.1" y2="1343.5" stroke="#111" stroke-width="1.3"/>
<line x1="611.5" y1="1343.5" x2="606.5" y2="1343.5" stroke="#111" stroke-width="1.3"/>
<text x="616.5" y="1348.0" font-size="12.5" text-anchor="start">1e14</text>
<line x1="586.1" y1="1407.5" x2="591.1" y2="1407.5" stroke="#111" stroke-width="1.3"/>
<line x1="611.5" y1="1407.5" x2="606.5" y2="1407.5" stroke="#111" stroke-width="1.3"/>
<text x="616.5" y="1412.0" font-size="12.5" text-anchor="start">1e13.5</text>
<line x1="586.1" y1="1471.5" x2="591.1" y2="1471.5" stroke="#111" stroke-width="1.3"/>
<line x1="611.5" y1="1471.5" x2="606.5" y2="1471.5" stroke="#111" stroke-width="1.3"/>
<text x="616.5" y="1476.0" font-size="12.5" text-anchor="start">1e13</text>
<line x1="586.1" y1="1535.5" x2="591.1" y2="1535.5" stroke="#111" stroke-width="1.3"/>
<line x1="611.5" y1="1535.5" x2="606.5" y2="1535.5" stroke="#111" stroke-width="1.3"/>
<text x="616.5" y="1540.0" font-size="12.5" text-anchor="start">1e12.5</text>
<line x1="586.1" y1="1599.5" x2="591.1" y2="1599.5" stroke="#111" stroke-width="1.3"/>
<line x1="611.5" y1="1599.5" x2="606.5" y2="1599.5" stroke="#111" stroke-width="1.3"/>
<text x="616.5" y="1604.0" font-size="12.5" text-anchor="start">1e12</text>
<line x1="586.1" y1="1663.5" x2="591.1" y2="1663.5" stroke="#111" stroke-width="1.3"/>
<line x1="611.5" y1="1663.5" x2="606.5" y2="1663.5" stroke="#111" stroke-width="1.3"/>
<text x="616.5" y="1668.0" font-size="12.5" text-anchor="start">1e11.5</text>
<line x1="586.1" y1="1727.5" x2="591.1" y2="1727.5" stroke="#111" stroke-width="1.3"/>
<line x1="611.5" y1="1727.5" x2="606.5" y2="1727.5" stroke="#111" stroke-width="1.3"/>
<text x="616.5" y="1732.0" font-size="12.5" text-anchor="start">1e11</text>
<text x="622.1" y="1229.7" font-size="17.5" text-anchor="start">ρ</text>
<text x="622.0" y="1254.9" font-size="17.8" text-anchor="start">g/cm<tspan font-size="13.8" dx="0.6" dy="-9">3</tspan></text>
<g clip-path="url(#clip5)">
<path d="M795.3,1506.7L795.5,1494.4L796.1,1483.0L797.2,1473.2L798.6,1465.9L800.4,1460.3L803.0,1455.0L806.7,1449.4L811.1,1444.1L815.8,1439.7L820.5,1437.3L825.4,1435.9L830.7,1432.3L836.9,1425.4L843.5,1416.5L849.3,1406.3L853.1,1394.6L856.1,1381.6L860.4,1369.0L867.2,1357.0L875.2,1345.4L882.8,1335.6L889.4,1328.1L895.6,1322.5L901.4,1318.8L906.1,1318.2L910.4,1319.4L916.3,1318.8L925.1,1314.4L935.5,1308.2L946.0,1302.1L956.1,1296.9L966.1,1291.8L975.8,1287.2L984.3,1283.0L992.4,1279.2L1001.8,1276.0L1014.1,1273.3L1027.6,1271.2L1039.0,1270.5L1045.2,1271.9L1049.3,1274.8L1057.6,1277.9L1074.1,1280.7L1094.8,1283.6L1113.4,1287.2L1127.2,1291.2L1138.9,1295.8L1150.6,1302.1L1163.7,1310.9L1176.8,1321.3L1187.8,1331.8L1195.4,1341.5L1200.9,1351.1L1206.4,1361.6L1213.0,1373.2L1219.6,1385.6L1225.0,1398.8L1228.5,1412.5L1230.7,1427.0L1232.5,1443.5L1234.6,1464.4L1236.2,1487.4L1236.2,1506.7L1233.4,1519.1L1229.0,1527.8L1225.0,1536.5L1222.5,1547.1L1220.5,1557.7L1217.6,1566.2L1213.9,1569.4L1209.3,1570.5L1202.7,1577.4L1193.0,1595.2L1181.3,1618.7L1169.2,1640.6L1156.2,1659.6L1142.9,1676.9L1132.0,1689.0L1126.3,1692.5L1123.2,1690.8L1117.1,1690.8L1105.3,1695.2L1090.5,1701.3L1076.2,1707.6L1063.5,1714.1L1051.3,1720.8L1039.0,1726.2L1026.0,1729.6L1013.1,1731.8L1001.8,1733.6L992.7,1735.5L985.3,1737.0L979.5,1737.4L977.7,1736.4L977.6,1734.3L972.1,1731.8L956.3,1729.0L935.0,1725.9L916.3,1722.5L903.8,1719.7L893.7,1716.8L882.8,1711.3L869.1,1702.2L854.6,1690.6L841.8,1677.8L831.5,1663.9L822.8,1648.8L815.8,1633.2L810.8,1616.9L807.5,1600.2L804.6,1584.8L801.6,1571.7L799.1,1559.9L797.2,1547.6L796.0,1534.0L795.4,1519.9Z" fill="#ffffff" stroke="#000" stroke-width="1.30" stroke-linejoin="round"/>
<path d="M849.3,1506.7L849.5,1495.9L849.9,1484.4L851.1,1473.2L853.3,1463.0L856.3,1453.3L860.4,1443.5L865.5,1433.8L871.7,1424.2L879.1,1413.7L887.9,1401.6L897.9,1388.6L908.8,1376.5L920.6,1365.9L933.3,1356.1L946.0,1346.7L958.4,1337.3L970.8,1328.4L983.2,1320.7L995.9,1314.5L1008.5,1309.5L1020.4,1305.8L1030.6,1303.3L1040.0,1302.1L1050.2,1302.1L1061.8,1303.1L1074.2,1305.2L1087.4,1309.5L1102.3,1316.4L1118.0,1325.4L1132.0,1335.6L1143.6,1347.0L1153.5,1359.7L1161.8,1372.8L1168.2,1386.0L1173.0,1399.7L1176.7,1413.7L1179.4,1428.7L1181.1,1444.1L1182.2,1458.3L1182.9,1470.0L1183.1,1480.5L1182.2,1491.8L1180.2,1504.7L1177.1,1518.5L1173.0,1532.7L1167.9,1547.5L1161.7,1562.6L1154.3,1577.4L1145.5,1591.3L1135.5,1604.8L1124.6,1618.3L1112.5,1632.6L1099.5,1646.9L1087.4,1659.2L1077.2,1668.3L1067.8,1675.3L1057.6,1681.5L1045.6,1687.2L1032.8,1692.1L1020.4,1696.4L1009.0,1700.3L997.9,1703.6L986.9,1705.7L975.5,1706.5L964.1,1706.2L953.5,1703.9L944.7,1699.5L936.7,1693.2L927.4,1685.3L915.4,1675.7L902.2,1664.3L890.2,1651.8L880.2,1637.6L871.4,1622.1L864.2,1607.1L859.1,1592.9L855.6,1579.1L853.0,1566.2L851.1,1554.2L850.0,1543.0L849.3,1532.7L849.0,1523.8L849.0,1515.6Z" fill="#fbfae5" stroke="#000" stroke-width="1.30" stroke-linejoin="round"/>
<path d="M875.3,1506.7L875.4,1495.3L875.9,1483.8L877.2,1473.2L879.3,1464.4L882.2,1456.4L886.5,1447.2L892.7,1435.5L900.3,1422.5L908.8,1410.0L917.6,1398.4L927.3,1387.3L938.6,1376.5L952.4,1365.6L967.8,1355.1L983.2,1346.7L998.9,1341.1L1014.7,1337.5L1027.9,1335.6L1036.3,1335.5L1042.2,1337.0L1050.2,1339.3L1063.0,1342.0L1077.9,1345.6L1091.1,1350.4L1100.9,1356.8L1109.0,1364.4L1117.1,1372.8L1126.4,1381.7L1135.7,1391.5L1143.2,1402.5L1147.8,1414.4L1150.4,1427.5L1152.5,1443.5L1154.5,1465.3L1155.9,1489.9L1156.2,1510.4L1155.2,1522.9L1153.2,1531.4L1150.6,1540.2L1147.7,1551.1L1144.2,1562.4L1139.5,1573.7L1133.1,1584.8L1125.5,1596.0L1117.1,1607.1L1107.7,1618.8L1097.6,1630.5L1087.4,1640.6L1077.5,1648.2L1067.5,1654.2L1057.6,1659.2L1047.6,1663.1L1037.5,1666.0L1027.9,1668.5L1018.7,1671.0L1009.8,1673.1L1001.8,1674.1L996.0,1674.0L991.0,1672.8L983.2,1670.4L969.3,1666.3L952.5,1660.9L938.6,1655.5L930.9,1651.4L926.1,1647.2L920.0,1640.6L910.1,1629.6L898.9,1616.1L890.2,1603.4L886.0,1593.1L884.3,1583.6L882.8,1573.7L880.7,1562.8L878.7,1551.5L877.2,1540.2L876.2,1529.0L875.5,1517.9Z" fill="#f8f6cd" stroke="#000" stroke-width="1.30" stroke-linejoin="round"/>
<path d="M964.8,1515.6L965.0,1508.7L965.8,1500.8L967.2,1493.2L969.2,1485.9L971.8,1478.9L974.4,1473.1L976.9,1469.2L979.5,1466.4L982.5,1463.5L985.9,1459.8L989.6,1456.0L993.7,1453.0L998.5,1451.1L1003.7,1450.1L1008.2,1449.8L1010.9,1450.7L1012.9,1452.4L1016.2,1453.8L1022.4,1454.4L1030.0,1454.7L1036.2,1455.4L1039.6,1456.9L1041.8,1458.8L1044.3,1461.0L1048.1,1463.4L1052.3,1466.0L1056.3,1469.1L1060.2,1472.8L1064.0,1476.9L1066.7,1481.1L1067.8,1484.7L1067.9,1488.3L1067.5,1493.2L1066.8,1500.6L1065.6,1509.3L1064.3,1517.2L1063.3,1523.4L1062.3,1528.6L1060.3,1533.3L1057.0,1537.3L1052.9,1540.6L1048.3,1543.7L1043.1,1546.6L1037.4,1549.2L1032.2,1551.7L1027.9,1554.5L1024.0,1557.3L1020.2,1559.0L1016.4,1559.2L1012.5,1558.4L1008.2,1557.4L1003.0,1556.5L997.3,1555.3L992.1,1553.3L987.8,1549.9L984.0,1545.6L980.1,1541.3L975.7,1537.4L971.4,1533.4L968.0,1529.3L966.1,1525.2L965.1,1520.9Z" fill="#fbfae5" stroke="#000" stroke-width="1.30" stroke-linejoin="round"/>
<path d="M972.8,1506.0L972.8,1498.4L974.0,1491.5L976.1,1485.1L979.5,1479.1L983.8,1473.7L988.1,1469.1L991.9,1465.7L995.8,1463.1L1000.1,1461.0L1005.2,1459.2L1010.7,1457.8L1016.2,1457.0L1021.5,1456.9L1026.9,1457.5L1032.2,1458.6L1037.9,1460.2L1043.5,1462.3L1048.3,1465.1L1051.8,1468.5L1054.3,1472.6L1056.3,1477.1L1057.7,1481.9L1058.5,1487.1L1058.7,1493.2L1058.5,1500.9L1057.7,1509.5L1056.3,1517.2L1054.3,1523.4L1051.8,1528.6L1048.3,1533.3L1043.5,1537.3L1037.9,1540.7L1032.2,1543.7L1027.0,1546.5L1021.8,1548.8L1016.2,1550.1L1009.7,1550.1L1002.6,1549.1L996.1,1546.9L990.1,1543.6L984.6,1539.2L980.1,1533.3L976.6,1525.0L974.1,1515.1Z" fill="#ffffff" stroke="#000" stroke-width="1.30" stroke-linejoin="round"/>
<path d="M1023.9,1464.5L1021.4,1464.0L1018.9,1463.9L1016.3,1464.1L1013.8,1464.5L1011.4,1465.1L1009.0,1465.9L1006.7,1466.9L1004.6,1468.1L1002.6,1469.5L1000.7,1471.1L999.0,1472.8L997.5,1474.6L996.2,1476.5L995.1,1478.6L994.3,1480.7L993.8,1483.0L993.8,1483.0L995.3,1481.8L996.6,1480.4L998.0,1479.0L999.4,1477.7L1000.9,1476.3L1002.5,1475.0L1004.1,1473.8L1005.9,1472.5L1007.8,1471.3L1009.7,1470.2L1011.8,1469.1L1014.0,1468.1L1016.3,1467.1L1018.7,1466.2L1021.2,1465.4L1023.9,1464.5Z" fill="#ffffff" stroke="#000" stroke-width="1.23" stroke-linejoin="round"/>
<path d="M995.3,1540.9L998.1,1542.4L1001.2,1543.4L1004.3,1544.0L1007.5,1544.4L1010.6,1544.4L1013.8,1544.1L1016.8,1543.5L1019.7,1542.7L1022.5,1541.5L1025.2,1540.1L1027.6,1538.4L1029.8,1536.6L1031.8,1534.5L1033.5,1532.3L1034.9,1529.9L1035.8,1527.3L1035.8,1527.3L1034.0,1528.7L1032.2,1530.3L1030.3,1531.8L1028.3,1533.3L1026.2,1534.6L1024.0,1535.9L1021.7,1537.0L1019.2,1538.1L1016.6,1539.0L1013.9,1539.8L1011.1,1540.4L1008.2,1540.8L1005.1,1541.1L1002.0,1541.2L998.7,1541.1L995.3,1540.9Z" fill="#ffffff" stroke="#000" stroke-width="1.23" stroke-linejoin="round"/>
<path d="M1029.3,1466.5L1030.0,1466.2L1030.6,1466.0L1031.2,1466.0L1031.8,1465.9L1032.4,1466.0L1033.0,1466.0L1033.5,1466.1L1034.1,1466.3L1034.6,1466.5L1035.1,1466.8L1035.6,1467.1L1036.0,1467.4L1036.4,1467.8L1036.8,1468.2L1037.2,1468.7L1037.4,1469.4L1037.4,1469.4L1036.6,1469.6L1036.0,1469.7L1035.4,1469.7L1034.8,1469.6L1034.2,1469.6L1033.7,1469.5L1033.2,1469.3L1032.7,1469.2L1032.2,1469.0L1031.7,1468.8L1031.3,1468.5L1030.8,1468.2L1030.4,1467.9L1030.0,1467.6L1029.6,1467.1L1029.3,1466.5Z" fill="#ffffff" stroke="#000" stroke-width="1.23" stroke-linejoin="round"/>
<path d="M999.9,1543.1L999.2,1543.3L998.6,1543.3L998.0,1543.3L997.4,1543.2L996.8,1543.1L996.3,1542.9L995.8,1542.7L995.3,1542.4L994.8,1542.1L994.4,1541.8L994.0,1541.4L993.6,1540.9L993.2,1540.4L992.9,1539.9L992.6,1539.3L992.5,1538.6L992.5,1538.6L993.2,1538.5L993.8,1538.5L994.3,1538.6L994.9,1538.8L995.4,1538.9L995.9,1539.1L996.3,1539.4L996.8,1539.6L997.2,1539.9L997.6,1540.2L998.0,1540.6L998.4,1541.0L998.8,1541.4L999.2,1541.9L999.6,1542.4L999.9,1543.1Z" fill="#ffffff" stroke="#000" stroke-width="1.23" stroke-linejoin="round"/>
<path d="M980.9,1498.5L980.4,1500.0L980.2,1501.5L980.2,1503.1L980.4,1504.6L980.6,1506.1L981.1,1507.6L981.6,1509.0L982.3,1510.4L983.1,1511.8L984.0,1513.0L985.1,1514.2L986.2,1515.2L987.5,1516.2L988.8,1517.0L990.3,1517.7L992.0,1518.1L992.0,1518.1L991.7,1516.9L991.2,1515.9L990.7,1514.8L990.1,1513.8L989.4,1512.8L988.8,1511.7L988.1,1510.6L987.4,1509.5L986.7,1508.4L986.0,1507.2L985.2,1505.9L984.4,1504.6L983.7,1503.2L982.9,1501.8L982.0,1500.2L980.9,1498.5Z" fill="#ffffff" stroke="#000" stroke-width="1.23" stroke-linejoin="round"/>
<path d="M1049.9,1510.7L1050.4,1509.2L1050.6,1507.7L1050.6,1506.1L1050.4,1504.6L1050.2,1503.1L1049.7,1501.6L1049.2,1500.2L1048.5,1498.8L1047.7,1497.4L1046.8,1496.2L1045.7,1495.0L1044.6,1494.0L1043.3,1493.0L1042.0,1492.2L1040.5,1491.5L1038.8,1491.1L1038.8,1491.1L1039.1,1492.3L1039.6,1493.3L1040.1,1494.4L1040.7,1495.4L1041.4,1496.4L1042.0,1497.5L1042.7,1498.6L1043.4,1499.7L1044.1,1500.8L1044.8,1502.0L1045.6,1503.3L1046.4,1504.6L1047.1,1506.0L1047.9,1507.4L1048.8,1509.0L1049.9,1510.7Z" fill="#ffffff" stroke="#000" stroke-width="1.23" stroke-linejoin="round"/>
<path d="M998.7,1486.0L996.9,1488.1L995.5,1490.4L994.6,1492.9L993.9,1495.5L993.7,1498.1L993.8,1500.6L994.2,1503.0L994.9,1505.3L995.9,1507.4L997.2,1509.3L998.7,1510.9L1000.4,1512.2L1002.2,1513.2L1004.1,1513.9L1006.0,1514.2L1008.0,1514.1L1008.0,1514.1L1006.9,1513.3L1005.7,1512.6L1004.4,1511.8L1003.2,1510.8L1002.0,1509.7L1000.9,1508.4L999.8,1506.9L998.9,1505.2L998.1,1503.3L997.5,1501.3L997.0,1499.1L996.8,1496.7L996.9,1494.2L997.2,1491.6L997.8,1488.9L998.7,1486.0Z" fill="#ffffff" stroke="#000" stroke-width="1.23" stroke-linejoin="round"/>
<path d="M1032.1,1523.2L1033.9,1521.1L1035.3,1518.8L1036.2,1516.3L1036.9,1513.7L1037.1,1511.1L1037.0,1508.6L1036.6,1506.2L1035.9,1503.9L1034.9,1501.8L1033.6,1499.9L1032.1,1498.3L1030.4,1497.0L1028.6,1496.0L1026.7,1495.3L1024.8,1495.0L1022.8,1495.1L1022.8,1495.1L1023.9,1495.9L1025.1,1496.6L1026.4,1497.4L1027.6,1498.4L1028.8,1499.5L1029.9,1500.8L1031.0,1502.3L1031.9,1504.0L1032.7,1505.9L1033.3,1507.9L1033.8,1510.1L1034.0,1512.5L1033.9,1515.0L1033.6,1517.6L1033.0,1520.3L1032.1,1523.2Z" fill="#ffffff" stroke="#000" stroke-width="1.23" stroke-linejoin="round"/>
<ellipse cx="1015.4" cy="1504.6" rx="18.6" ry="20.2" fill="none" stroke="#000" stroke-width="3.8" stroke-dasharray="9 7.5" stroke-dashoffset="3"/>
<path d="M1015.4,1498.0 l6.6,6.6 l-6.6,6.6 l-6.6,-6.6z" fill="#111" stroke="#000" stroke-width="0.6"/>
<path d="M1015.4,1502.4 l2.2,2.2 l-2.2,2.2 l-2.2,-2.2z" fill="#6a6a3a"/>
</g>
<text x="1015.2" y="1240.3" font-size="20.3" text-anchor="middle">t=22.378 ms</text>
<rect x="765.5" y="1254.9" width="500.0" height="500.0" fill="none" stroke="#111" stroke-width="1.2"/>
<line x1="815.5" y1="1754.9" x2="815.5" y2="1749.9" stroke="#111" stroke-width="1.1"/>
<line x1="815.5" y1="1254.9" x2="815.5" y2="1259.9" stroke="#111" stroke-width="1.1"/>
<text x="815.7" y="1775.5" font-size="17.6" text-anchor="middle">40</text>
<text x="805.4" y="1775.5" font-size="17.6" text-anchor="end">–</text>
<line x1="765.5" y1="1704.9" x2="770.5" y2="1704.9" stroke="#111" stroke-width="1.1"/>
<line x1="1265.5" y1="1704.9" x2="1260.5" y2="1704.9" stroke="#111" stroke-width="1.1"/>
<text x="761.9" y="1711.3" font-size="17.6" text-anchor="end">40</text>
<text x="741.5" y="1711.3" font-size="17.6" text-anchor="end">–</text>
<line x1="915.5" y1="1754.9" x2="915.5" y2="1749.9" stroke="#111" stroke-width="1.1"/>
<line x1="915.5" y1="1254.9" x2="915.5" y2="1259.9" stroke="#111" stroke-width="1.1"/>
<text x="915.7" y="1775.5" font-size="17.6" text-anchor="middle">20</text>
<text x="905.4" y="1775.5" font-size="17.6" text-anchor="end">–</text>
<line x1="765.5" y1="1604.9" x2="770.5" y2="1604.9" stroke="#111" stroke-width="1.1"/>
<line x1="1265.5" y1="1604.9" x2="1260.5" y2="1604.9" stroke="#111" stroke-width="1.1"/>
<text x="761.9" y="1611.3" font-size="17.6" text-anchor="end">20</text>
<text x="741.5" y="1611.3" font-size="17.6" text-anchor="end">–</text>
<line x1="1015.5" y1="1754.9" x2="1015.5" y2="1749.9" stroke="#111" stroke-width="1.1"/>
<line x1="1015.5" y1="1254.9" x2="1015.5" y2="1259.9" stroke="#111" stroke-width="1.1"/>
<text x="1015.7" y="1775.5" font-size="17.6" text-anchor="middle">0</text>
<line x1="765.5" y1="1504.9" x2="770.5" y2="1504.9" stroke="#111" stroke-width="1.1"/>
<line x1="1265.5" y1="1504.9" x2="1260.5" y2="1504.9" stroke="#111" stroke-width="1.1"/>
<text x="761.9" y="1511.3" font-size="17.6" text-anchor="end">0</text>
<line x1="1115.5" y1="1754.9" x2="1115.5" y2="1749.9" stroke="#111" stroke-width="1.1"/>
<line x1="1115.5" y1="1254.9" x2="1115.5" y2="1259.9" stroke="#111" stroke-width="1.1"/>
<text x="1115.7" y="1775.5" font-size="17.6" text-anchor="middle">20</text>
<line x1="765.5" y1="1404.9" x2="770.5" y2="1404.9" stroke="#111" stroke-width="1.1"/>
<line x1="1265.5" y1="1404.9" x2="1260.5" y2="1404.9" stroke="#111" stroke-width="1.1"/>
<text x="761.9" y="1411.3" font-size="17.6" text-anchor="end">20</text>
<line x1="1215.5" y1="1754.9" x2="1215.5" y2="1749.9" stroke="#111" stroke-width="1.1"/>
<line x1="1215.5" y1="1254.9" x2="1215.5" y2="1259.9" stroke="#111" stroke-width="1.1"/>
<text x="1215.7" y="1775.5" font-size="17.6" text-anchor="middle">40</text>
<line x1="765.5" y1="1304.9" x2="770.5" y2="1304.9" stroke="#111" stroke-width="1.1"/>
<line x1="1265.5" y1="1304.9" x2="1260.5" y2="1304.9" stroke="#111" stroke-width="1.1"/>
<text x="761.9" y="1311.3" font-size="17.6" text-anchor="end">40</text>
<text x="1015.1" y="1795.5" font-size="20.3" text-anchor="middle">X (km)</text>
<text transform="translate(720.9,1505.5) rotate(-90)" font-size="20.3" text-anchor="middle">Y (km)</text>
<rect x="1285.1" y="1254.90" width="25.4" height="8.21" fill="#df2f1f"/>
<rect x="1285.1" y="1262.71" width="25.4" height="8.21" fill="#e03120"/>
<rect x="1285.1" y="1270.53" width="25.4" height="8.21" fill="#e13421"/>
<rect x="1285.1" y="1278.34" width="25.4" height="8.21" fill="#e54129"/>
<rect x="1285.1" y="1286.15" width="25.4" height="8.21" fill="#e95030"/>
<rect x="1285.1" y="1293.96" width="25.4" height="8.21" fill="#ed603a"/>
<rect x="1285.1" y="1301.78" width="25.4" height="8.21" fill="#f07146"/>
<rect x="1285.1" y="1309.59" width="25.4" height="8.21" fill="#f48f58"/>
<rect x="1285.1" y="1317.40" width="25.4" height="8.21" fill="#f6a560"/>
<rect x="1285.1" y="1325.21" width="25.4" height="8.21" fill="#f7ab5e"/>
<rect x="1285.1" y="1333.03" width="25.4" height="8.21" fill="#f8b159"/>
<rect x="1285.1" y="1340.84" width="25.4" height="8.21" fill="#f9b753"/>
<rect x="1285.1" y="1348.65" width="25.4" height="8.21" fill="#fabd4d"/>
<rect x="1285.1" y="1356.46" width="25.4" height="8.21" fill="#fbc248"/>
<rect x="1285.1" y="1364.28" width="25.4" height="8.21" fill="#fbc841"/>
<rect x="1285.1" y="1372.09" width="25.4" height="8.21" fill="#fcce39"/>
<rect x="1285.1" y="1379.90" width="25.4" height="8.21" fill="#fcd331"/>
<rect x="1285.1" y="1387.71" width="25.4" height="8.21" fill="#fcda29"/>
<rect x="1285.1" y="1395.53" width="25.4" height="8.21" fill="#f9dd27"/>
<rect x="1285.1" y="1403.34" width="25.4" height="8.21" fill="#f5e026"/>
<rect x="1285.1" y="1411.15" width="25.4" height="8.21" fill="#f3e128"/>
<rect x="1285.1" y="1418.96" width="25.4" height="8.21" fill="#f1e12a"/>
<rect x="1285.1" y="1426.78" width="25.4" height="8.21" fill="#f0e22c"/>
<rect x="1285.1" y="1434.59" width="25.4" height="8.21" fill="#eee22e"/>
<rect x="1285.1" y="1442.40" width="25.4" height="8.21" fill="#eee230"/>
<rect x="1285.1" y="1450.21" width="25.4" height="8.21" fill="#ede332"/>
<rect x="1285.1" y="1458.03" width="25.4" height="8.21" fill="#ece334"/>
<rect x="1285.1" y="1465.84" width="25.4" height="8.21" fill="#ebe336"/>
<rect x="1285.1" y="1473.65" width="25.4" height="8.21" fill="#ebe339"/>
<rect x="1285.1" y="1481.46" width="25.4" height="8.21" fill="#ebe43e"/>
<rect x="1285.1" y="1489.28" width="25.4" height="8.21" fill="#ece442"/>
<rect x="1285.1" y="1497.09" width="25.4" height="8.21" fill="#ece547"/>
<rect x="1285.1" y="1504.90" width="25.4" height="8.21" fill="#ece54c"/>
<rect x="1285.1" y="1512.71" width="25.4" height="8.21" fill="#ede653"/>
<rect x="1285.1" y="1520.53" width="25.4" height="8.21" fill="#eee759"/>
<rect x="1285.1" y="1528.34" width="25.4" height="8.21" fill="#efe85f"/>
<rect x="1285.1" y="1536.15" width="25.4" height="8.21" fill="#efe966"/>
<rect x="1285.1" y="1543.96" width="25.4" height="8.21" fill="#f0ea6e"/>
<rect x="1285.1" y="1551.78" width="25.4" height="8.21" fill="#f1eb75"/>
<rect x="1285.1" y="1559.59" width="25.4" height="8.21" fill="#f2eb7c"/>
<rect x="1285.1" y="1567.40" width="25.4" height="8.21" fill="#f2ec84"/>
<rect x="1285.1" y="1575.21" width="25.4" height="8.21" fill="#f3ed8c"/>
<rect x="1285.1" y="1583.03" width="25.4" height="8.21" fill="#f4ee93"/>
<rect x="1285.1" y="1590.84" width="25.4" height="8.21" fill="#f5ef9b"/>
<rect x="1285.1" y="1598.65" width="25.4" height="8.21" fill="#f5f0a2"/>
<rect x="1285.1" y="1606.46" width="25.4" height="8.21" fill="#f6f1a9"/>
<rect x="1285.1" y="1614.28" width="25.4" height="8.21" fill="#f6f2af"/>
<rect x="1285.1" y="1622.09" width="25.4" height="8.21" fill="#f7f3b6"/>
<rect x="1285.1" y="1629.90" width="25.4" height="8.21" fill="#f7f4bc"/>
<rect x="1285.1" y="1637.71" width="25.4" height="8.21" fill="#f8f5c1"/>
<rect x="1285.1" y="1645.53" width="25.4" height="8.21" fill="#f8f6c6"/>
<rect x="1285.1" y="1653.34" width="25.4" height="8.21" fill="#f9f6cc"/>
<rect x="1285.1" y="1661.15" width="25.4" height="8.21" fill="#f9f7d1"/>
<rect x="1285.1" y="1668.96" width="25.4" height="8.21" fill="#faf8d6"/>
<rect x="1285.1" y="1676.78" width="25.4" height="8.21" fill="#faf9db"/>
<rect x="1285.1" y="1684.59" width="25.4" height="8.21" fill="#fbfae0"/>
<rect x="1285.1" y="1692.40" width="25.4" height="8.21" fill="#fcfae5"/>
<rect x="1285.1" y="1700.21" width="25.4" height="8.21" fill="#fcfbe9"/>
<rect x="1285.1" y="1708.03" width="25.4" height="8.21" fill="#fdfced"/>
<rect x="1285.1" y="1715.84" width="25.4" height="8.21" fill="#fdfdf2"/>
<rect x="1285.1" y="1723.65" width="25.4" height="8.21" fill="#fefef6"/>
<rect x="1285.1" y="1731.46" width="25.4" height="8.21" fill="#ffffff"/>
<rect x="1285.1" y="1739.28" width="25.4" height="8.21" fill="#ffffff"/>
<rect x="1285.1" y="1747.09" width="25.4" height="8.21" fill="#ffffff"/>
<rect x="1285.1" y="1254.9" width="25.4" height="500.0" fill="none" stroke="#111" stroke-width="1.2"/>
<line x1="1285.1" y1="1279.5" x2="1290.1" y2="1279.5" stroke="#111" stroke-width="1.3"/>
<line x1="1310.5" y1="1279.5" x2="1305.5" y2="1279.5" stroke="#111" stroke-width="1.3"/>
<text x="1315.5" y="1284.0" font-size="12.5" text-anchor="start">1e14.5</text>
<line x1="1285.1" y1="1343.5" x2="1290.1" y2="1343.5" stroke="#111" stroke-width="1.3"/>
<line x1="1310.5" y1="1343.5" x2="1305.5" y2="1343.5" stroke="#111" stroke-width="1.3"/>
<text x="1315.5" y="1348.0" font-size="12.5" text-anchor="start">1e14</text>
<line x1="1285.1" y1="1407.5" x2="1290.1" y2="1407.5" stroke="#111" stroke-width="1.3"/>
<line x1="1310.5" y1="1407.5" x2="1305.5" y2="1407.5" stroke="#111" stroke-width="1.3"/>
<text x="1315.5" y="1412.0" font-size="12.5" text-anchor="start">1e13.5</text>
<line x1="1285.1" y1="1471.5" x2="1290.1" y2="1471.5" stroke="#111" stroke-width="1.3"/>
<line x1="1310.5" y1="1471.5" x2="1305.5" y2="1471.5" stroke="#111" stroke-width="1.3"/>
<text x="1315.5" y="1476.0" font-size="12.5" text-anchor="start">1e13</text>
<line x1="1285.1" y1="1535.5" x2="1290.1" y2="1535.5" stroke="#111" stroke-width="1.3"/>
<line x1="1310.5" y1="1535.5" x2="1305.5" y2="1535.5" stroke="#111" stroke-width="1.3"/>
<text x="1315.5" y="1540.0" font-size="12.5" text-anchor="start">1e12.5</text>
<line x1="1285.1" y1="1599.5" x2="1290.1" y2="1599.5" stroke="#111" stroke-width="1.3"/>
<line x1="1310.5" y1="1599.5" x2="1305.5" y2="1599.5" stroke="#111" stroke-width="1.3"/>
<text x="1315.5" y="1604.0" font-size="12.5" text-anchor="start">1e12</text>
<line x1="1285.1" y1="1663.5" x2="1290.1" y2="1663.5" stroke="#111" stroke-width="1.3"/>
<line x1="1310.5" y1="1663.5" x2="1305.5" y2="1663.5" stroke="#111" stroke-width="1.3"/>
<text x="1315.5" y="1668.0" font-size="12.5" text-anchor="start">1e11.5</text>
<line x1="1285.1" y1="1727.5" x2="1290.1" y2="1727.5" stroke="#111" stroke-width="1.3"/>
<line x1="1310.5" y1="1727.5" x2="1305.5" y2="1727.5" stroke="#111" stroke-width="1.3"/>
<text x="1315.5" y="1732.0" font-size="12.5" text-anchor="start">1e11</text>
<text x="1321.1" y="1229.7" font-size="17.5" text-anchor="start">ρ</text>
<text x="1321.0" y="1254.9" font-size="17.8" text-anchor="start">g/cm<tspan font-size="13.8" dx="0.6" dy="-9">3</tspan></text>
</svg>
</body></html>
